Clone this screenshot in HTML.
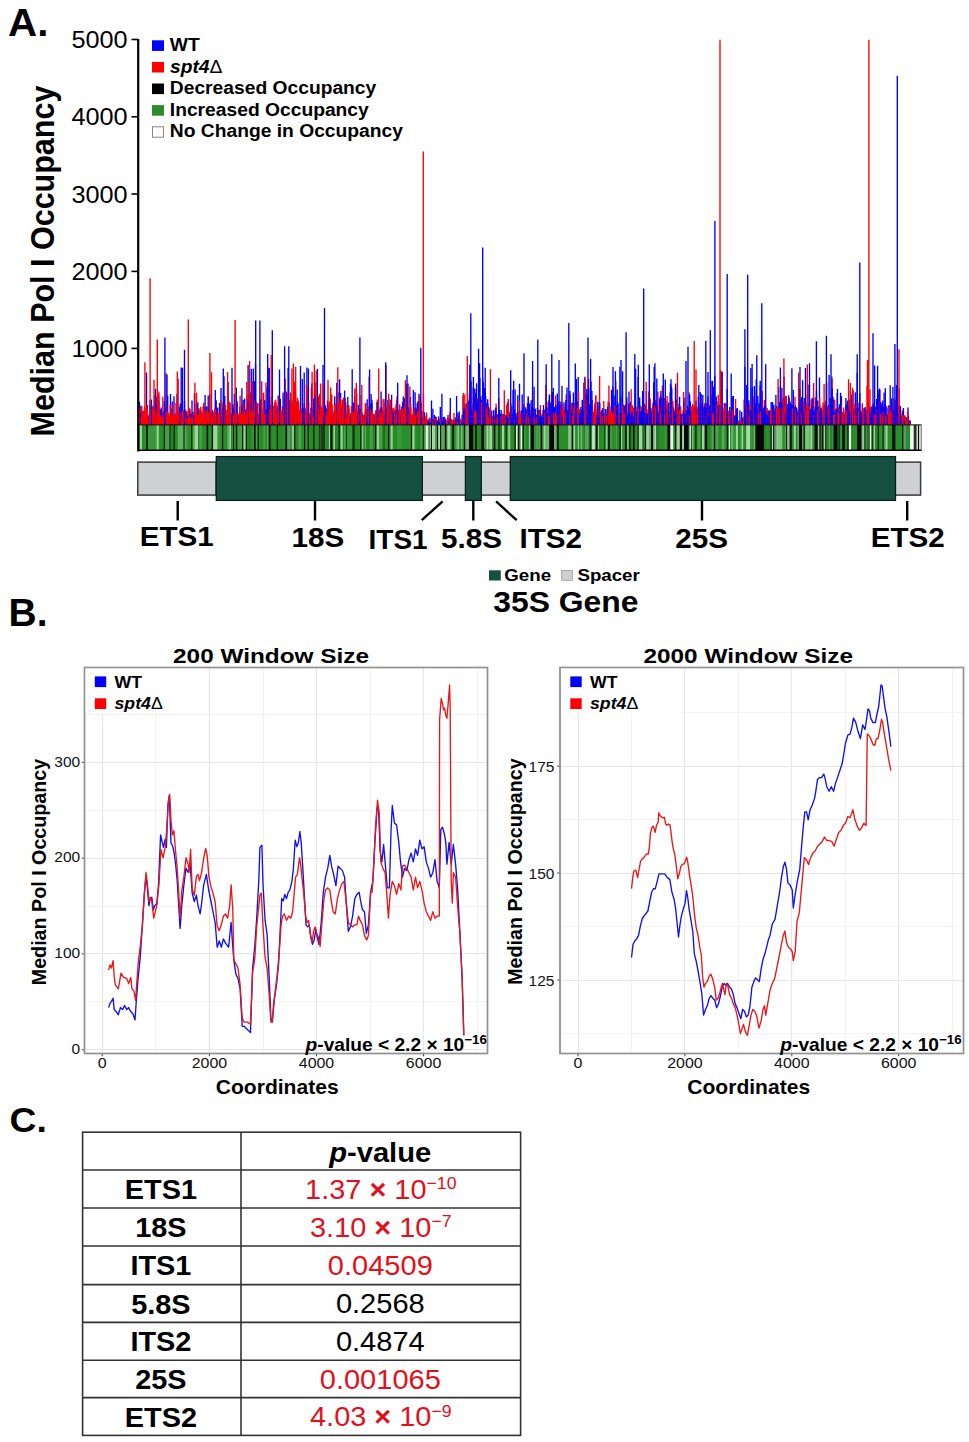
<!DOCTYPE html>
<html><head><meta charset="utf-8"><style>
html,body{margin:0;padding:0;background:#fff;}
svg{display:block;font-family:"Liberation Sans", sans-serif;}
</style></head><body>
<svg width="969" height="1442" viewBox="0 0 969 1442">
<text transform="translate(8.00,36.30) scale(1.040,1)" font-size="38.8" font-weight="bold" font-style="normal" fill="#000" text-anchor="start" >A.</text>
<text transform="translate(127.60,48.00) scale(1.090,1)" font-size="23.2" font-weight="normal" font-style="normal" fill="#000" text-anchor="end" >5000</text>
<line x1="131.5" y1="39.5" x2="138" y2="39.5" stroke="#000" stroke-width="1.6"/>
<text transform="translate(127.60,125.30) scale(1.090,1)" font-size="23.2" font-weight="normal" font-style="normal" fill="#000" text-anchor="end" >4000</text>
<line x1="131.5" y1="116.8" x2="138" y2="116.8" stroke="#000" stroke-width="1.6"/>
<text transform="translate(127.60,202.50) scale(1.090,1)" font-size="23.2" font-weight="normal" font-style="normal" fill="#000" text-anchor="end" >3000</text>
<line x1="131.5" y1="194.0" x2="138" y2="194.0" stroke="#000" stroke-width="1.6"/>
<text transform="translate(127.60,279.90) scale(1.090,1)" font-size="23.2" font-weight="normal" font-style="normal" fill="#000" text-anchor="end" >2000</text>
<line x1="131.5" y1="271.4" x2="138" y2="271.4" stroke="#000" stroke-width="1.6"/>
<text transform="translate(127.60,356.90) scale(1.090,1)" font-size="23.2" font-weight="normal" font-style="normal" fill="#000" text-anchor="end" >1000</text>
<line x1="131.5" y1="348.4" x2="138" y2="348.4" stroke="#000" stroke-width="1.6"/>
<text transform="translate(53.50,261.00) rotate(-90) scale(1,1.070)" font-size="30.5" font-weight="bold" font-style="normal" fill="#000" text-anchor="middle" >Median Pol I Occupancy</text>
<path d="M363.5 424.9V417.1M808.3 424.9V404.0" stroke="#0000ff" stroke-width="1.35" fill="none"/><path d="M807.5 424.9V408.4" stroke="#ff0000" stroke-width="1.35" fill="none"/><path d="M312.1 424.9V416.5M417.5 424.9V414.2M709.6 424.9V405.4" stroke="#0000ff" stroke-width="1.35" fill="none"/><path d="M742.7 424.9V420.7" stroke="#ff0000" stroke-width="1.35" fill="none"/><path d="M514.0 424.9V414.9" stroke="#0000ff" stroke-width="1.35" fill="none"/><path d="M821.3 424.9V407.6M365.8 424.9V402.9M488.3 424.9V406.6" stroke="#ff0000" stroke-width="1.35" fill="none"/><path d="M243.2 424.9V400.0" stroke="#0000ff" stroke-width="1.35" fill="none"/><path d="M674.9 424.9V409.3M225.3 424.9V411.8M583.4 424.9V415.0M186.7 424.9V410.7" stroke="#ff0000" stroke-width="1.35" fill="none"/><path d="M158.9 424.9V400.8" stroke="#0000ff" stroke-width="1.35" fill="none"/><path d="M869.1 424.9V413.0M837.4 424.9V412.3M584.1 424.9V408.4" stroke="#ff0000" stroke-width="1.35" fill="none"/><path d="M856.9 424.9V415.3" stroke="#0000ff" stroke-width="1.35" fill="none"/><path d="M564.7 424.9V415.0M464.0 424.9V413.5M719.6 424.9V415.9" stroke="#ff0000" stroke-width="1.35" fill="none"/><path d="M833.9 424.9V399.9" stroke="#0000ff" stroke-width="1.35" fill="none"/><path d="M384.7 424.9V415.8" stroke="#ff0000" stroke-width="1.35" fill="none"/><path d="M554.4 424.9V407.0" stroke="#0000ff" stroke-width="1.35" fill="none"/><path d="M840.4 424.9V412.6" stroke="#ff0000" stroke-width="1.35" fill="none"/><path d="M332.8 424.9V416.6M547.1 424.9V415.8M390.0 424.9V416.0M158.0 424.9V413.2" stroke="#0000ff" stroke-width="1.35" fill="none"/><path d="M298.4 424.9V400.5M548.0 424.9V401.9" stroke="#ff0000" stroke-width="1.35" fill="none"/><path d="M412.8 424.9V417.3" stroke="#0000ff" stroke-width="1.35" fill="none"/><path d="M868.1 424.9V409.1M205.7 424.9V416.2M605.2 424.9V413.7M529.8 424.9V409.6" stroke="#ff0000" stroke-width="1.35" fill="none"/><path d="M542.1 424.9V413.7M716.9 424.9V401.2M902.0 424.9V415.5M753.2 424.9V407.6M839.5 424.9V404.3" stroke="#0000ff" stroke-width="1.35" fill="none"/><path d="M641.6 424.9V415.1" stroke="#ff0000" stroke-width="1.35" fill="none"/><path d="M395.9 424.9V410.1M247.1 424.9V413.5M497.2 424.9V418.4M220.5 424.9V412.5M154.1 424.9V414.9M368.4 424.9V414.1M438.8 424.9V421.7" stroke="#0000ff" stroke-width="1.35" fill="none"/><path d="M764.4 424.9V400.0" stroke="#ff0000" stroke-width="1.35" fill="none"/><path d="M883.3 424.9V407.3" stroke="#0000ff" stroke-width="1.35" fill="none"/><path d="M378.0 424.9V416.6M817.2 424.9V409.2M510.0 424.9V414.4" stroke="#ff0000" stroke-width="1.35" fill="none"/><path d="M404.5 424.9V417.0" stroke="#0000ff" stroke-width="1.35" fill="none"/><path d="M858.3 424.9V414.5M624.2 424.9V414.9" stroke="#ff0000" stroke-width="1.35" fill="none"/><path d="M854.2 424.9V408.2M809.5 424.9V363.2M300.2 424.9V411.2" stroke="#0000ff" stroke-width="1.35" fill="none"/><path d="M700.7 424.9V413.8" stroke="#ff0000" stroke-width="1.35" fill="none"/><path d="M216.2 424.9V400.3M146.3 424.9V417.2M365.8 424.9V413.9M434.4 424.9V415.1" stroke="#0000ff" stroke-width="1.35" fill="none"/><path d="M414.9 424.9V411.8M840.0 424.9V407.7" stroke="#ff0000" stroke-width="1.35" fill="none"/><path d="M301.5 424.9V413.9M881.0 424.9V403.2" stroke="#0000ff" stroke-width="1.35" fill="none"/><path d="M356.8 424.9V393.3" stroke="#ff0000" stroke-width="1.35" fill="none"/><path d="M643.2 424.9V411.2M767.9 424.9V412.1" stroke="#0000ff" stroke-width="1.35" fill="none"/><path d="M709.0 424.9V412.1M616.8 424.9V404.8M698.4 424.9V414.5" stroke="#ff0000" stroke-width="1.35" fill="none"/><path d="M549.0 424.9V400.1" stroke="#0000ff" stroke-width="1.35" fill="none"/><path d="M864.3 424.9V414.5" stroke="#ff0000" stroke-width="1.35" fill="none"/><path d="M472.2 424.9V408.7M448.1 424.9V421.8" stroke="#0000ff" stroke-width="1.35" fill="none"/><path d="M311.1 424.9V407.9" stroke="#ff0000" stroke-width="1.35" fill="none"/><path d="M172.5 424.9V401.5" stroke="#0000ff" stroke-width="1.35" fill="none"/><path d="M315.5 424.9V382.6" stroke="#ff0000" stroke-width="1.35" fill="none"/><path d="M768.0 424.9V410.6M621.3 424.9V413.0" stroke="#0000ff" stroke-width="1.35" fill="none"/><path d="M391.7 424.9V408.5M498.7 424.9V414.2" stroke="#ff0000" stroke-width="1.35" fill="none"/><path d="M362.2 424.9V412.8M906.5 424.9V417.3M857.2 424.9V372.5M337.0 424.9V413.7M757.7 424.9V414.8M235.4 424.9V412.8M339.6 424.9V379.2M660.4 424.9V395.7M431.8 424.9V421.7" stroke="#0000ff" stroke-width="1.35" fill="none"/><path d="M368.2 424.9V414.5" stroke="#ff0000" stroke-width="1.35" fill="none"/><path d="M868.9 424.9V415.2M801.1 424.9V415.4M387.3 424.9V412.5M839.9 424.9V412.3M413.4 424.9V390.0" stroke="#0000ff" stroke-width="1.35" fill="none"/><path d="M662.4 424.9V385.5" stroke="#ff0000" stroke-width="1.35" fill="none"/><path d="M874.5 424.9V413.8M852.4 424.9V397.8M441.3 424.9V421.9M518.4 424.9V411.5" stroke="#0000ff" stroke-width="1.35" fill="none"/><path d="M150.8 424.9V416.3" stroke="#ff0000" stroke-width="1.35" fill="none"/><path d="M622.6 424.9V371.3M743.7 424.9V416.7M168.8 424.9V418.2M730.2 424.9V416.8M223.3 424.9V408.3M717.7 424.9V412.6" stroke="#0000ff" stroke-width="1.35" fill="none"/><path d="M672.9 424.9V401.1M328.3 424.9V412.0M673.4 424.9V407.6M499.9 424.9V413.2M194.6 424.9V413.4M601.5 424.9V415.9M393.7 424.9V414.5" stroke="#ff0000" stroke-width="1.35" fill="none"/><path d="M568.4 424.9V415.9M668.2 424.9V404.0M639.9 424.9V405.2M550.7 424.9V411.5M210.6 424.9V416.5M593.4 424.9V412.3" stroke="#0000ff" stroke-width="1.35" fill="none"/><path d="M854.0 424.9V414.3" stroke="#ff0000" stroke-width="1.35" fill="none"/><path d="M436.3 424.9V419.0" stroke="#0000ff" stroke-width="1.35" fill="none"/><path d="M491.1 424.9V418.1M890.1 424.9V413.6" stroke="#ff0000" stroke-width="1.35" fill="none"/><path d="M908.8 424.9V420.3M760.2 424.9V380.8" stroke="#0000ff" stroke-width="1.35" fill="none"/><path d="M834.8 424.9V399.6" stroke="#ff0000" stroke-width="1.35" fill="none"/><path d="M357.8 424.9V412.3M459.9 424.9V421.2" stroke="#0000ff" stroke-width="1.35" fill="none"/><path d="M655.6 424.9V400.3" stroke="#ff0000" stroke-width="1.35" fill="none"/><path d="M565.0 424.9V411.4M243.6 424.9V414.7" stroke="#0000ff" stroke-width="1.35" fill="none"/><path d="M657.9 424.9V391.4" stroke="#ff0000" stroke-width="1.35" fill="none"/><path d="M736.5 424.9V409.9" stroke="#0000ff" stroke-width="1.35" fill="none"/><path d="M599.6 424.9V376.0M675.8 424.9V416.3M725.8 424.9V415.4" stroke="#ff0000" stroke-width="1.35" fill="none"/><path d="M795.9 424.9V407.8" stroke="#0000ff" stroke-width="1.35" fill="none"/><path d="M377.3 424.9V399.4" stroke="#ff0000" stroke-width="1.35" fill="none"/><path d="M431.2 424.9V419.2" stroke="#0000ff" stroke-width="1.35" fill="none"/><path d="M811.6 424.9V406.2M652.9 424.9V413.5" stroke="#ff0000" stroke-width="1.35" fill="none"/><path d="M204.7 424.9V406.9" stroke="#0000ff" stroke-width="1.35" fill="none"/><path d="M337.6 424.9V414.7M331.7 424.9V406.6M373.8 424.9V416.7M248.9 424.9V412.7" stroke="#ff0000" stroke-width="1.35" fill="none"/><path d="M609.1 424.9V402.4M743.6 424.9V419.2M526.1 424.9V409.4M434.9 424.9V416.6" stroke="#0000ff" stroke-width="1.35" fill="none"/><path d="M770.1 424.9V410.3M344.8 424.9V416.6" stroke="#ff0000" stroke-width="1.35" fill="none"/><path d="M505.2 424.9V415.5" stroke="#0000ff" stroke-width="1.35" fill="none"/><path d="M423.6 424.9V419.5M768.2 424.9V411.8" stroke="#ff0000" stroke-width="1.35" fill="none"/><path d="M694.6 424.9V405.6" stroke="#0000ff" stroke-width="1.35" fill="none"/><path d="M877.0 424.9V404.0" stroke="#ff0000" stroke-width="1.35" fill="none"/><path d="M349.3 424.9V416.1" stroke="#0000ff" stroke-width="1.35" fill="none"/><path d="M303.2 424.9V408.7" stroke="#ff0000" stroke-width="1.35" fill="none"/><path d="M489.5 424.9V416.1" stroke="#0000ff" stroke-width="1.35" fill="none"/><path d="M407.1 424.9V407.8" stroke="#ff0000" stroke-width="1.35" fill="none"/><path d="M882.8 424.9V400.4" stroke="#0000ff" stroke-width="1.35" fill="none"/><path d="M482.2 424.9V395.9" stroke="#ff0000" stroke-width="1.35" fill="none"/><path d="M877.4 424.9V413.2M698.3 424.9V396.9M463.1 424.9V417.1M385.7 424.9V414.1M550.6 424.9V402.4M734.2 424.9V416.4M660.9 424.9V411.5" stroke="#0000ff" stroke-width="1.35" fill="none"/><path d="M589.3 424.9V404.4" stroke="#ff0000" stroke-width="1.35" fill="none"/><path d="M671.1 424.9V386.1" stroke="#0000ff" stroke-width="1.35" fill="none"/><path d="M459.0 424.9V421.8" stroke="#ff0000" stroke-width="1.35" fill="none"/><path d="M361.5 424.9V416.3" stroke="#0000ff" stroke-width="1.35" fill="none"/><path d="M525.7 424.9V416.6" stroke="#ff0000" stroke-width="1.35" fill="none"/><path d="M635.9 424.9V412.7" stroke="#0000ff" stroke-width="1.35" fill="none"/><path d="M187.0 424.9V414.0M437.9 424.9V420.3M502.3 424.9V414.3M607.0 424.9V409.2" stroke="#ff0000" stroke-width="1.35" fill="none"/><path d="M817.0 424.9V409.2M447.1 424.9V421.4M906.2 424.9V419.8M565.6 424.9V404.3M781.9 424.9V387.7" stroke="#0000ff" stroke-width="1.35" fill="none"/><path d="M811.1 424.9V399.5" stroke="#ff0000" stroke-width="1.35" fill="none"/><path d="M369.3 424.9V411.4M425.3 424.9V418.0M837.2 424.9V392.9M632.9 424.9V415.7" stroke="#0000ff" stroke-width="1.35" fill="none"/><path d="M797.7 424.9V415.1M599.5 424.9V405.7M439.1 424.9V419.1M387.8 424.9V415.7" stroke="#ff0000" stroke-width="1.35" fill="none"/><path d="M693.3 424.9V416.3" stroke="#0000ff" stroke-width="1.35" fill="none"/><path d="M533.9 424.9V416.6M699.1 424.9V416.0M646.9 424.9V414.7M535.7 424.9V417.9M435.2 424.9V421.9" stroke="#ff0000" stroke-width="1.35" fill="none"/><path d="M630.4 424.9V401.8" stroke="#0000ff" stroke-width="1.35" fill="none"/><path d="M550.6 424.9V414.9" stroke="#ff0000" stroke-width="1.35" fill="none"/><path d="M702.7 424.9V407.5" stroke="#0000ff" stroke-width="1.35" fill="none"/><path d="M793.0 424.9V413.0M440.3 424.9V421.9" stroke="#ff0000" stroke-width="1.35" fill="none"/><path d="M602.8 424.9V415.4" stroke="#0000ff" stroke-width="1.35" fill="none"/><path d="M522.1 424.9V417.5M357.9 424.9V415.8" stroke="#ff0000" stroke-width="1.35" fill="none"/><path d="M513.0 424.9V390.1" stroke="#0000ff" stroke-width="1.35" fill="none"/><path d="M310.1 424.9V414.2" stroke="#ff0000" stroke-width="1.35" fill="none"/><path d="M805.9 424.9V402.3M744.9 424.9V367.0M485.2 424.9V367.8" stroke="#0000ff" stroke-width="1.35" fill="none"/><path d="M501.1 424.9V415.2" stroke="#ff0000" stroke-width="1.35" fill="none"/><path d="M479.6 424.9V363.3M143.0 424.9V411.1" stroke="#0000ff" stroke-width="1.35" fill="none"/><path d="M463.0 424.9V417.4" stroke="#ff0000" stroke-width="1.35" fill="none"/><path d="M572.5 424.9V413.6" stroke="#0000ff" stroke-width="1.35" fill="none"/><path d="M458.6 424.9V419.8M756.9 424.9V411.8M302.2 424.9V411.6M222.9 424.9V414.9M189.6 424.9V408.9" stroke="#ff0000" stroke-width="1.35" fill="none"/><path d="M479.9 424.9V377.7M167.7 424.9V395.7" stroke="#0000ff" stroke-width="1.35" fill="none"/><path d="M746.6 424.9V406.5M832.9 424.9V396.8" stroke="#ff0000" stroke-width="1.35" fill="none"/><path d="M192.9 424.9V411.8M904.4 424.9V415.4" stroke="#0000ff" stroke-width="1.35" fill="none"/><path d="M365.0 424.9V417.0" stroke="#ff0000" stroke-width="1.35" fill="none"/><path d="M741.6 424.9V421.2" stroke="#0000ff" stroke-width="1.35" fill="none"/><path d="M392.6 424.9V410.3" stroke="#ff0000" stroke-width="1.35" fill="none"/><path d="M139.4 424.9V401.6" stroke="#0000ff" stroke-width="1.35" fill="none"/><path d="M678.1 424.9V406.8M764.7 424.9V408.7" stroke="#ff0000" stroke-width="1.35" fill="none"/><path d="M691.7 424.9V415.3" stroke="#0000ff" stroke-width="1.35" fill="none"/><path d="M259.7 424.9V413.2" stroke="#ff0000" stroke-width="1.35" fill="none"/><path d="M695.8 424.9V408.1" stroke="#0000ff" stroke-width="1.35" fill="none"/><path d="M445.2 424.9V421.9M735.9 424.9V416.3M180.4 424.9V417.5M393.1 424.9V408.0M314.4 424.9V364.5" stroke="#ff0000" stroke-width="1.35" fill="none"/><path d="M310.5 424.9V415.8" stroke="#0000ff" stroke-width="1.35" fill="none"/><path d="M628.2 424.9V416.3" stroke="#ff0000" stroke-width="1.35" fill="none"/><path d="M390.0 424.9V405.2" stroke="#0000ff" stroke-width="1.35" fill="none"/><path d="M501.3 424.9V418.3M575.9 424.9V402.6" stroke="#ff0000" stroke-width="1.35" fill="none"/><path d="M485.7 424.9V396.2" stroke="#0000ff" stroke-width="1.35" fill="none"/><path d="M769.4 424.9V414.8" stroke="#ff0000" stroke-width="1.35" fill="none"/><path d="M721.4 424.9V407.7M862.1 424.9V410.2M558.0 424.9V413.9M432.3 424.9V419.1" stroke="#0000ff" stroke-width="1.35" fill="none"/><path d="M411.1 424.9V415.2M702.8 424.9V413.4" stroke="#ff0000" stroke-width="1.35" fill="none"/><path d="M728.7 424.9V416.2M780.4 424.9V367.5" stroke="#0000ff" stroke-width="1.35" fill="none"/><path d="M542.5 424.9V417.0" stroke="#ff0000" stroke-width="1.35" fill="none"/><path d="M729.5 424.9V414.8M340.6 424.9V416.1M774.7 424.9V412.0" stroke="#0000ff" stroke-width="1.35" fill="none"/><path d="M592.3 424.9V399.9" stroke="#ff0000" stroke-width="1.35" fill="none"/><path d="M192.0 424.9V400.6" stroke="#0000ff" stroke-width="1.35" fill="none"/><path d="M866.2 424.9V413.8M479.8 424.9V410.0M529.5 424.9V414.0M422.6 424.9V417.1" stroke="#ff0000" stroke-width="1.35" fill="none"/><path d="M786.7 424.9V406.1" stroke="#0000ff" stroke-width="1.35" fill="none"/><path d="M741.9 424.9V422.3" stroke="#ff0000" stroke-width="1.35" fill="none"/><path d="M882.1 424.9V408.4M388.7 424.9V413.3M429.1 424.9V419.1M531.1 424.9V413.9" stroke="#0000ff" stroke-width="1.35" fill="none"/><path d="M713.8 424.9V410.7" stroke="#ff0000" stroke-width="1.35" fill="none"/><path d="M185.7 424.9V416.4M508.3 424.9V417.9M599.6 424.9V415.8M454.2 424.9V421.5M457.0 424.9V418.8M680.8 424.9V414.6M660.9 424.9V390.9M175.4 424.9V413.4M711.4 424.9V394.7" stroke="#0000ff" stroke-width="1.35" fill="none"/><path d="M417.5 424.9V410.5" stroke="#ff0000" stroke-width="1.35" fill="none"/><path d="M778.0 424.9V409.7M233.8 424.9V416.4M498.1 424.9V417.5M263.7 424.9V400.3" stroke="#0000ff" stroke-width="1.35" fill="none"/><path d="M847.5 424.9V409.7M826.4 424.9V384.4" stroke="#ff0000" stroke-width="1.35" fill="none"/><path d="M289.2 424.9V416.3" stroke="#0000ff" stroke-width="1.35" fill="none"/><path d="M780.0 424.9V412.6M721.5 424.9V371.7" stroke="#ff0000" stroke-width="1.35" fill="none"/><path d="M583.4 424.9V411.1" stroke="#0000ff" stroke-width="1.35" fill="none"/><path d="M631.2 424.9V389.3" stroke="#ff0000" stroke-width="1.35" fill="none"/><path d="M455.7 424.9V419.3" stroke="#0000ff" stroke-width="1.35" fill="none"/><path d="M479.4 424.9V398.0M633.1 424.9V415.9" stroke="#ff0000" stroke-width="1.35" fill="none"/><path d="M520.0 424.9V414.6M674.0 424.9V411.0" stroke="#0000ff" stroke-width="1.35" fill="none"/><path d="M799.2 424.9V412.9" stroke="#ff0000" stroke-width="1.35" fill="none"/><path d="M205.7 424.9V416.1M139.2 424.9V417.3M845.2 424.9V413.7M487.4 424.9V411.0M205.1 424.9V394.9M884.1 424.9V392.6" stroke="#0000ff" stroke-width="1.35" fill="none"/><path d="M445.4 424.9V419.6" stroke="#ff0000" stroke-width="1.35" fill="none"/><path d="M206.7 424.9V406.4" stroke="#0000ff" stroke-width="1.35" fill="none"/><path d="M875.6 424.9V414.9" stroke="#ff0000" stroke-width="1.35" fill="none"/><path d="M236.8 424.9V413.3M396.7 424.9V406.3M596.4 424.9V413.2M165.1 424.9V408.4" stroke="#0000ff" stroke-width="1.35" fill="none"/><path d="M872.0 424.9V405.9" stroke="#ff0000" stroke-width="1.35" fill="none"/><path d="M526.8 424.9V414.3M422.0 424.9V417.4M217.9 424.9V415.8" stroke="#0000ff" stroke-width="1.35" fill="none"/><path d="M226.9 424.9V411.7" stroke="#ff0000" stroke-width="1.35" fill="none"/><path d="M221.8 424.9V417.1M430.0 424.9V420.7" stroke="#0000ff" stroke-width="1.35" fill="none"/><path d="M452.3 424.9V421.2" stroke="#ff0000" stroke-width="1.35" fill="none"/><path d="M189.8 424.9V414.2M609.7 424.9V415.0M201.6 424.9V415.4M251.1 424.9V413.3" stroke="#0000ff" stroke-width="1.35" fill="none"/><path d="M431.6 424.9V422.0M623.9 424.9V409.1M286.4 424.9V411.2" stroke="#ff0000" stroke-width="1.35" fill="none"/><path d="M221.3 424.9V417.3M799.8 424.9V409.3M151.4 424.9V399.6" stroke="#0000ff" stroke-width="1.35" fill="none"/><path d="M417.4 424.9V404.6M603.0 424.9V412.1M845.9 424.9V413.0M462.4 424.9V417.4" stroke="#ff0000" stroke-width="1.35" fill="none"/><path d="M382.6 424.9V412.3M185.7 424.9V412.4" stroke="#0000ff" stroke-width="1.35" fill="none"/><path d="M822.6 424.9V410.2" stroke="#ff0000" stroke-width="1.35" fill="none"/><path d="M450.3 424.9V398.1M679.6 424.9V396.8M340.6 424.9V392.9M858.5 424.9V408.4M444.1 424.9V418.6" stroke="#0000ff" stroke-width="1.35" fill="none"/><path d="M799.8 424.9V389.1M737.2 424.9V418.6" stroke="#ff0000" stroke-width="1.35" fill="none"/><path d="M426.4 424.9V421.6M202.4 424.9V416.5M314.7 424.9V395.7" stroke="#0000ff" stroke-width="1.35" fill="none"/><path d="M284.6 424.9V413.5" stroke="#ff0000" stroke-width="1.35" fill="none"/><path d="M215.5 424.9V407.3M152.7 424.9V417.8" stroke="#0000ff" stroke-width="1.35" fill="none"/><path d="M228.6 424.9V412.6M449.1 424.9V420.2M820.5 424.9V411.3M832.1 424.9V378.7M870.0 424.9V389.3" stroke="#ff0000" stroke-width="1.35" fill="none"/><path d="M881.4 424.9V409.8M536.2 424.9V417.0M426.2 424.9V420.1M689.4 424.9V409.1M421.3 424.9V418.7M474.6 424.9V398.3M294.7 424.9V412.8" stroke="#0000ff" stroke-width="1.35" fill="none"/><path d="M796.8 424.9V412.4M702.6 424.9V412.1M408.7 424.9V409.2M570.3 424.9V414.2" stroke="#ff0000" stroke-width="1.35" fill="none"/><path d="M501.1 424.9V409.9" stroke="#0000ff" stroke-width="1.35" fill="none"/><path d="M179.3 424.9V406.8M580.0 424.9V416.4" stroke="#ff0000" stroke-width="1.35" fill="none"/><path d="M560.0 424.9V414.1" stroke="#0000ff" stroke-width="1.35" fill="none"/><path d="M900.5 424.9V415.1M456.1 424.9V420.2" stroke="#ff0000" stroke-width="1.35" fill="none"/><path d="M701.1 424.9V394.1M142.3 424.9V418.5" stroke="#0000ff" stroke-width="1.35" fill="none"/><path d="M893.8 424.9V398.4M805.6 424.9V413.6M448.6 424.9V418.7M781.2 424.9V412.5" stroke="#ff0000" stroke-width="1.35" fill="none"/><path d="M437.6 424.9V420.6" stroke="#0000ff" stroke-width="1.35" fill="none"/><path d="M656.8 424.9V403.4M585.6 424.9V410.2M547.2 424.9V415.1M899.0 424.9V415.8" stroke="#ff0000" stroke-width="1.35" fill="none"/><path d="M254.6 424.9V381.3" stroke="#0000ff" stroke-width="1.35" fill="none"/><path d="M360.6 424.9V416.2M289.4 424.9V400.3M674.4 424.9V411.8M267.5 424.9V411.7M650.4 424.9V410.8" stroke="#ff0000" stroke-width="1.35" fill="none"/><path d="M721.2 424.9V414.2" stroke="#0000ff" stroke-width="1.35" fill="none"/><path d="M666.2 424.9V401.1" stroke="#ff0000" stroke-width="1.35" fill="none"/><path d="M359.6 424.9V416.3M652.5 424.9V413.9" stroke="#0000ff" stroke-width="1.35" fill="none"/><path d="M283.4 424.9V414.8" stroke="#ff0000" stroke-width="1.35" fill="none"/><path d="M772.5 424.9V402.0M224.8 424.9V396.0" stroke="#0000ff" stroke-width="1.35" fill="none"/><path d="M614.4 424.9V414.5M902.5 424.9V410.5" stroke="#ff0000" stroke-width="1.35" fill="none"/><path d="M728.0 424.9V412.7M239.5 424.9V415.5M569.2 424.9V409.6M215.3 424.9V390.0M605.7 424.9V413.9" stroke="#0000ff" stroke-width="1.35" fill="none"/><path d="M494.7 424.9V418.8" stroke="#ff0000" stroke-width="1.35" fill="none"/><path d="M645.1 424.9V405.1" stroke="#0000ff" stroke-width="1.35" fill="none"/><path d="M642.6 424.9V416.4" stroke="#ff0000" stroke-width="1.35" fill="none"/><path d="M817.5 424.9V406.4M748.8 424.9V400.2" stroke="#0000ff" stroke-width="1.35" fill="none"/><path d="M800.0 424.9V399.3M788.8 424.9V406.5M628.7 424.9V416.0M792.9 424.9V410.0M497.9 424.9V416.1" stroke="#ff0000" stroke-width="1.35" fill="none"/><path d="M499.0 424.9V414.0M852.3 424.9V411.3" stroke="#0000ff" stroke-width="1.35" fill="none"/><path d="M793.9 424.9V412.0" stroke="#ff0000" stroke-width="1.35" fill="none"/><path d="M294.3 424.9V408.5" stroke="#0000ff" stroke-width="1.35" fill="none"/><path d="M424.0 424.9V420.1" stroke="#ff0000" stroke-width="1.35" fill="none"/><path d="M731.1 424.9V412.3M830.3 424.9V397.9M275.4 424.9V414.2M511.8 424.9V406.6" stroke="#0000ff" stroke-width="1.35" fill="none"/><path d="M521.2 424.9V411.2M216.8 424.9V415.2" stroke="#ff0000" stroke-width="1.35" fill="none"/><path d="M676.2 424.9V399.4M706.6 424.9V413.3" stroke="#0000ff" stroke-width="1.35" fill="none"/><path d="M208.1 424.9V416.8M826.2 424.9V410.1" stroke="#ff0000" stroke-width="1.35" fill="none"/><path d="M429.4 424.9V418.4M585.3 424.9V394.6" stroke="#0000ff" stroke-width="1.35" fill="none"/><path d="M858.1 424.9V412.5M815.4 424.9V412.8" stroke="#ff0000" stroke-width="1.35" fill="none"/><path d="M419.9 424.9V411.4" stroke="#0000ff" stroke-width="1.35" fill="none"/><path d="M686.3 424.9V410.2" stroke="#ff0000" stroke-width="1.35" fill="none"/><path d="M323.0 424.9V364.9M462.2 424.9V414.6M357.4 424.9V416.6" stroke="#0000ff" stroke-width="1.35" fill="none"/><path d="M544.6 424.9V414.3" stroke="#ff0000" stroke-width="1.35" fill="none"/><path d="M500.7 424.9V414.1" stroke="#0000ff" stroke-width="1.35" fill="none"/><path d="M664.4 424.9V409.1M210.0 424.9V417.3M566.6 424.9V409.7M643.5 424.9V416.1M198.9 424.9V408.0M833.1 424.9V414.4M149.9 424.9V399.9" stroke="#ff0000" stroke-width="1.35" fill="none"/><path d="M156.6 424.9V412.5M504.5 424.9V418.8M592.1 424.9V415.6" stroke="#0000ff" stroke-width="1.35" fill="none"/><path d="M516.9 424.9V418.6M865.3 424.9V415.3" stroke="#ff0000" stroke-width="1.35" fill="none"/><path d="M497.7 424.9V414.4M763.7 424.9V408.0" stroke="#0000ff" stroke-width="1.35" fill="none"/><path d="M672.2 424.9V404.0" stroke="#ff0000" stroke-width="1.35" fill="none"/><path d="M770.2 424.9V414.0M188.4 424.9V411.4" stroke="#0000ff" stroke-width="1.35" fill="none"/><path d="M201.9 424.9V416.6M755.8 424.9V409.0" stroke="#ff0000" stroke-width="1.35" fill="none"/><path d="M676.9 424.9V403.2M875.0 424.9V415.4" stroke="#0000ff" stroke-width="1.35" fill="none"/><path d="M564.2 424.9V414.9" stroke="#ff0000" stroke-width="1.35" fill="none"/><path d="M871.2 424.9V408.8M298.4 424.9V411.5" stroke="#0000ff" stroke-width="1.35" fill="none"/><path d="M488.8 424.9V409.3M254.0 424.9V404.8" stroke="#ff0000" stroke-width="1.35" fill="none"/><path d="M897.2 424.9V415.6M336.4 424.9V415.2M705.3 424.9V405.1M561.7 424.9V416.2M407.4 424.9V415.5" stroke="#0000ff" stroke-width="1.35" fill="none"/><path d="M523.8 424.9V404.4" stroke="#ff0000" stroke-width="1.35" fill="none"/><path d="M626.4 424.9V411.0M563.9 424.9V402.2M365.3 424.9V410.4" stroke="#0000ff" stroke-width="1.35" fill="none"/><path d="M552.2 424.9V416.4M736.6 424.9V417.7M294.5 424.9V381.7" stroke="#ff0000" stroke-width="1.35" fill="none"/><path d="M482.6 424.9V395.2M510.0 424.9V411.5M344.0 424.9V412.1M878.0 424.9V394.6" stroke="#0000ff" stroke-width="1.35" fill="none"/><path d="M498.9 424.9V398.3" stroke="#ff0000" stroke-width="1.35" fill="none"/><path d="M456.6 424.9V396.0" stroke="#0000ff" stroke-width="1.35" fill="none"/><path d="M412.7 424.9V416.0M786.2 424.9V396.2M629.8 424.9V411.8" stroke="#ff0000" stroke-width="1.35" fill="none"/><path d="M708.0 424.9V372.0" stroke="#0000ff" stroke-width="1.35" fill="none"/><path d="M513.1 424.9V416.7" stroke="#ff0000" stroke-width="1.35" fill="none"/><path d="M835.6 424.9V410.6" stroke="#0000ff" stroke-width="1.35" fill="none"/><path d="M615.8 424.9V410.1M554.2 424.9V416.5M275.9 424.9V401.4" stroke="#ff0000" stroke-width="1.35" fill="none"/><path d="M287.6 424.9V408.3" stroke="#0000ff" stroke-width="1.35" fill="none"/><path d="M641.1 424.9V416.4" stroke="#ff0000" stroke-width="1.35" fill="none"/><path d="M266.4 424.9V408.9M426.8 424.9V420.6" stroke="#0000ff" stroke-width="1.35" fill="none"/><path d="M885.6 424.9V414.1M429.8 424.9V417.2M324.0 424.9V413.3M907.4 424.9V422.7M573.3 424.9V414.7M656.2 424.9V409.6M809.5 424.9V406.4" stroke="#ff0000" stroke-width="1.35" fill="none"/><path d="M350.0 424.9V416.1M684.9 424.9V413.7" stroke="#0000ff" stroke-width="1.35" fill="none"/><path d="M204.1 424.9V403.1" stroke="#ff0000" stroke-width="1.35" fill="none"/><path d="M156.8 424.9V397.0" stroke="#0000ff" stroke-width="1.35" fill="none"/><path d="M314.6 424.9V391.0M881.1 424.9V402.5M444.5 424.9V416.8" stroke="#ff0000" stroke-width="1.35" fill="none"/><path d="M890.2 424.9V385.2" stroke="#0000ff" stroke-width="1.35" fill="none"/><path d="M536.8 424.9V414.8" stroke="#ff0000" stroke-width="1.35" fill="none"/><path d="M739.1 424.9V423.4M813.9 424.9V412.9M815.8 424.9V402.0M601.8 424.9V410.1M615.4 424.9V371.2M646.4 424.9V390.9M213.0 424.9V412.8" stroke="#0000ff" stroke-width="1.35" fill="none"/><path d="M903.9 424.9V418.7M497.8 424.9V418.1" stroke="#ff0000" stroke-width="1.35" fill="none"/><path d="M692.4 424.9V405.2M722.7 424.9V407.8" stroke="#0000ff" stroke-width="1.35" fill="none"/><path d="M647.1 424.9V409.2" stroke="#ff0000" stroke-width="1.35" fill="none"/><path d="M771.5 424.9V413.1M633.8 424.9V408.9" stroke="#0000ff" stroke-width="1.35" fill="none"/><path d="M633.7 424.9V407.8" stroke="#ff0000" stroke-width="1.35" fill="none"/><path d="M817.7 424.9V400.5" stroke="#0000ff" stroke-width="1.35" fill="none"/><path d="M576.5 424.9V413.7M509.2 424.9V413.3M638.9 424.9V406.7" stroke="#ff0000" stroke-width="1.35" fill="none"/><path d="M727.2 424.9V389.1M785.5 424.9V412.9" stroke="#0000ff" stroke-width="1.35" fill="none"/><path d="M459.0 424.9V416.0" stroke="#ff0000" stroke-width="1.35" fill="none"/><path d="M269.2 424.9V368.3M304.5 424.9V412.2" stroke="#0000ff" stroke-width="1.35" fill="none"/><path d="M281.6 424.9V414.3" stroke="#ff0000" stroke-width="1.35" fill="none"/><path d="M292.9 424.9V403.3M346.0 424.9V416.0M511.1 424.9V414.8" stroke="#0000ff" stroke-width="1.35" fill="none"/><path d="M683.6 424.9V392.1M477.4 424.9V398.2" stroke="#ff0000" stroke-width="1.35" fill="none"/><path d="M563.5 424.9V407.0M742.8 424.9V417.5M597.6 424.9V405.3" stroke="#0000ff" stroke-width="1.35" fill="none"/><path d="M434.3 424.9V420.0" stroke="#ff0000" stroke-width="1.35" fill="none"/><path d="M678.5 424.9V414.6M505.6 424.9V415.6M418.0 424.9V401.0" stroke="#0000ff" stroke-width="1.35" fill="none"/><path d="M868.3 424.9V413.1" stroke="#ff0000" stroke-width="1.35" fill="none"/><path d="M868.5 424.9V412.5M288.1 424.9V368.0M290.3 424.9V414.9" stroke="#0000ff" stroke-width="1.35" fill="none"/><path d="M364.0 424.9V415.3" stroke="#ff0000" stroke-width="1.35" fill="none"/><path d="M826.6 424.9V382.4M229.6 424.9V415.2M733.2 424.9V396.1M467.0 424.9V403.1" stroke="#0000ff" stroke-width="1.35" fill="none"/><path d="M782.7 424.9V398.6" stroke="#ff0000" stroke-width="1.35" fill="none"/><path d="M686.7 424.9V414.5M842.1 424.9V415.3" stroke="#0000ff" stroke-width="1.35" fill="none"/><path d="M660.5 424.9V415.2" stroke="#ff0000" stroke-width="1.35" fill="none"/><path d="M538.7 424.9V410.0M296.0 424.9V413.2" stroke="#0000ff" stroke-width="1.35" fill="none"/><path d="M740.4 424.9V423.4M530.2 424.9V415.9M194.9 424.9V417.9M375.1 424.9V413.4" stroke="#ff0000" stroke-width="1.35" fill="none"/><path d="M463.1 424.9V395.6M461.6 424.9V421.5" stroke="#0000ff" stroke-width="1.35" fill="none"/><path d="M559.5 424.9V413.3M337.8 424.9V403.6" stroke="#ff0000" stroke-width="1.35" fill="none"/><path d="M371.1 424.9V394.0" stroke="#0000ff" stroke-width="1.35" fill="none"/><path d="M561.0 424.9V404.0M748.8 424.9V403.1" stroke="#ff0000" stroke-width="1.35" fill="none"/><path d="M738.1 424.9V420.4" stroke="#0000ff" stroke-width="1.35" fill="none"/><path d="M752.5 424.9V413.7" stroke="#ff0000" stroke-width="1.35" fill="none"/><path d="M157.6 424.9V394.5M620.8 424.9V396.8" stroke="#0000ff" stroke-width="1.35" fill="none"/><path d="M744.1 424.9V399.8M340.8 424.9V403.6M778.1 424.9V410.3" stroke="#ff0000" stroke-width="1.35" fill="none"/><path d="M573.9 424.9V402.7M308.8 424.9V415.3M527.5 424.9V403.1M159.9 424.9V414.3M230.7 424.9V416.3M460.6 424.9V420.7M424.7 424.9V416.1M819.5 424.9V377.6M559.9 424.9V415.2" stroke="#0000ff" stroke-width="1.35" fill="none"/><path d="M179.8 424.9V417.9M153.0 424.9V414.5M147.2 424.9V417.4M777.1 424.9V414.2M826.9 424.9V410.7" stroke="#ff0000" stroke-width="1.35" fill="none"/><path d="M399.7 424.9V410.0" stroke="#0000ff" stroke-width="1.35" fill="none"/><path d="M341.2 424.9V415.8" stroke="#ff0000" stroke-width="1.35" fill="none"/><path d="M652.7 424.9V413.0M843.5 424.9V415.3M558.9 424.9V401.2M848.7 424.9V400.9M787.2 424.9V411.7" stroke="#0000ff" stroke-width="1.35" fill="none"/><path d="M603.8 424.9V401.0" stroke="#ff0000" stroke-width="1.35" fill="none"/><path d="M886.2 424.9V415.2M182.0 424.9V403.9" stroke="#0000ff" stroke-width="1.35" fill="none"/><path d="M472.0 424.9V409.0" stroke="#ff0000" stroke-width="1.35" fill="none"/><path d="M373.4 424.9V415.4M408.3 424.9V416.5" stroke="#0000ff" stroke-width="1.35" fill="none"/><path d="M575.0 424.9V415.7M260.6 424.9V413.8" stroke="#ff0000" stroke-width="1.35" fill="none"/><path d="M206.1 424.9V415.6" stroke="#0000ff" stroke-width="1.35" fill="none"/><path d="M429.1 424.9V420.4" stroke="#ff0000" stroke-width="1.35" fill="none"/><path d="M498.5 424.9V415.6M531.8 424.9V406.4M209.8 424.9V394.1" stroke="#0000ff" stroke-width="1.35" fill="none"/><path d="M754.8 424.9V390.5M791.5 424.9V404.2M859.3 424.9V410.5" stroke="#ff0000" stroke-width="1.35" fill="none"/><path d="M612.9 424.9V386.6" stroke="#0000ff" stroke-width="1.35" fill="none"/><path d="M211.4 424.9V410.9" stroke="#ff0000" stroke-width="1.35" fill="none"/><path d="M595.1 424.9V402.6" stroke="#0000ff" stroke-width="1.35" fill="none"/><path d="M401.2 424.9V412.6M831.3 424.9V407.4M663.0 424.9V405.5" stroke="#ff0000" stroke-width="1.35" fill="none"/><path d="M468.9 424.9V411.7M613.0 424.9V366.9" stroke="#0000ff" stroke-width="1.35" fill="none"/><path d="M595.7 424.9V395.5" stroke="#ff0000" stroke-width="1.35" fill="none"/><path d="M336.8 424.9V382.8M519.5 424.9V383.7M744.0 424.9V419.1M296.5 424.9V402.1" stroke="#0000ff" stroke-width="1.35" fill="none"/><path d="M861.1 424.9V413.1" stroke="#ff0000" stroke-width="1.35" fill="none"/><path d="M218.0 424.9V416.5" stroke="#0000ff" stroke-width="1.35" fill="none"/><path d="M795.0 424.9V397.1" stroke="#ff0000" stroke-width="1.35" fill="none"/><path d="M347.8 424.9V397.0" stroke="#0000ff" stroke-width="1.35" fill="none"/><path d="M292.1 424.9V415.1" stroke="#ff0000" stroke-width="1.35" fill="none"/><path d="M586.5 424.9V392.7M578.2 424.9V414.9M619.5 424.9V415.2M885.0 424.9V411.3" stroke="#0000ff" stroke-width="1.35" fill="none"/><path d="M892.2 424.9V410.9" stroke="#ff0000" stroke-width="1.35" fill="none"/><path d="M587.5 424.9V415.6M837.5 424.9V389.1" stroke="#0000ff" stroke-width="1.35" fill="none"/><path d="M595.5 424.9V415.5M839.3 424.9V414.7M518.6 424.9V412.1M539.6 424.9V417.1" stroke="#ff0000" stroke-width="1.35" fill="none"/><path d="M308.9 424.9V414.5M483.1 424.9V381.4" stroke="#0000ff" stroke-width="1.35" fill="none"/><path d="M221.1 424.9V417.0M511.0 424.9V418.6" stroke="#ff0000" stroke-width="1.35" fill="none"/><path d="M615.3 424.9V416.2" stroke="#0000ff" stroke-width="1.35" fill="none"/><path d="M739.0 424.9V422.8" stroke="#ff0000" stroke-width="1.35" fill="none"/><path d="M710.1 424.9V405.7M902.5 424.9V413.2M752.8 424.9V396.1M435.6 424.9V416.6M177.8 424.9V413.4M586.8 424.9V388.9" stroke="#0000ff" stroke-width="1.35" fill="none"/><path d="M838.0 424.9V415.1" stroke="#ff0000" stroke-width="1.35" fill="none"/><path d="M908.7 424.9V421.2" stroke="#0000ff" stroke-width="1.35" fill="none"/><path d="M155.0 424.9V399.5M453.6 424.9V421.7M180.7 424.9V413.7" stroke="#ff0000" stroke-width="1.35" fill="none"/><path d="M811.8 424.9V406.3M278.5 424.9V416.6M633.4 424.9V416.1M228.5 424.9V412.9" stroke="#0000ff" stroke-width="1.35" fill="none"/><path d="M851.5 424.9V412.4M774.4 424.9V414.6" stroke="#ff0000" stroke-width="1.35" fill="none"/><path d="M355.9 424.9V415.4M308.3 424.9V413.7M842.4 424.9V413.2M535.5 424.9V415.3M605.3 424.9V413.7" stroke="#0000ff" stroke-width="1.35" fill="none"/><path d="M250.3 424.9V392.5M825.0 424.9V414.3" stroke="#ff0000" stroke-width="1.35" fill="none"/><path d="M579.3 424.9V411.2M830.1 424.9V408.2" stroke="#0000ff" stroke-width="1.35" fill="none"/><path d="M683.7 424.9V409.9M814.3 424.9V413.0M711.9 424.9V403.2M266.0 424.9V382.5M215.8 424.9V409.0" stroke="#ff0000" stroke-width="1.35" fill="none"/><path d="M245.0 424.9V415.5M556.4 424.9V415.8M900.5 424.9V409.6M750.8 424.9V368.0" stroke="#0000ff" stroke-width="1.35" fill="none"/><path d="M543.5 424.9V417.6" stroke="#ff0000" stroke-width="1.35" fill="none"/><path d="M858.0 424.9V402.9" stroke="#0000ff" stroke-width="1.35" fill="none"/><path d="M692.2 424.9V406.2" stroke="#ff0000" stroke-width="1.35" fill="none"/><path d="M903.4 424.9V407.9M343.0 424.9V416.1" stroke="#0000ff" stroke-width="1.35" fill="none"/><path d="M553.4 424.9V416.5M480.9 424.9V408.1" stroke="#ff0000" stroke-width="1.35" fill="none"/><path d="M550.2 424.9V408.7M643.9 424.9V416.3M870.5 424.9V407.5" stroke="#0000ff" stroke-width="1.35" fill="none"/><path d="M396.0 424.9V404.6M504.2 424.9V416.2M531.1 424.9V411.5" stroke="#ff0000" stroke-width="1.35" fill="none"/><path d="M622.4 424.9V408.0M332.7 424.9V416.0M904.3 424.9V416.4" stroke="#0000ff" stroke-width="1.35" fill="none"/><path d="M526.4 424.9V411.9" stroke="#ff0000" stroke-width="1.35" fill="none"/><path d="M346.9 424.9V416.7M295.5 424.9V416.1M488.9 424.9V407.4" stroke="#0000ff" stroke-width="1.35" fill="none"/><path d="M844.4 424.9V414.4" stroke="#ff0000" stroke-width="1.35" fill="none"/><path d="M760.2 424.9V385.6M897.3 424.9V415.5M735.5 424.9V416.9" stroke="#0000ff" stroke-width="1.35" fill="none"/><path d="M333.1 424.9V413.5" stroke="#ff0000" stroke-width="1.35" fill="none"/><path d="M395.8 424.9V411.2" stroke="#0000ff" stroke-width="1.35" fill="none"/><path d="M823.3 424.9V406.0M555.5 424.9V395.5" stroke="#ff0000" stroke-width="1.35" fill="none"/><path d="M337.9 424.9V410.6" stroke="#0000ff" stroke-width="1.35" fill="none"/><path d="M872.9 424.9V414.8" stroke="#ff0000" stroke-width="1.35" fill="none"/><path d="M553.3 424.9V387.9M797.5 424.9V415.1" stroke="#0000ff" stroke-width="1.35" fill="none"/><path d="M877.5 424.9V405.5M860.3 424.9V414.9M816.8 424.9V414.1" stroke="#ff0000" stroke-width="1.35" fill="none"/><path d="M245.5 424.9V409.7" stroke="#0000ff" stroke-width="1.35" fill="none"/><path d="M351.2 424.9V416.8" stroke="#ff0000" stroke-width="1.35" fill="none"/><path d="M751.9 424.9V413.3M499.3 424.9V409.7" stroke="#0000ff" stroke-width="1.35" fill="none"/><path d="M326.2 424.9V415.9" stroke="#ff0000" stroke-width="1.35" fill="none"/><path d="M757.4 424.9V412.7" stroke="#0000ff" stroke-width="1.35" fill="none"/><path d="M607.6 424.9V406.9" stroke="#ff0000" stroke-width="1.35" fill="none"/><path d="M144.7 424.9V415.6M494.2 424.9V416.1M688.1 424.9V407.7" stroke="#0000ff" stroke-width="1.35" fill="none"/><path d="M632.5 424.9V405.3M312.3 424.9V415.5M374.3 424.9V415.6M331.5 424.9V416.9M234.3 424.9V414.6M540.4 424.9V417.8M695.3 424.9V411.3" stroke="#ff0000" stroke-width="1.35" fill="none"/><path d="M196.3 424.9V413.9M289.9 424.9V407.3" stroke="#0000ff" stroke-width="1.35" fill="none"/><path d="M582.1 424.9V413.4" stroke="#ff0000" stroke-width="1.35" fill="none"/><path d="M477.9 424.9V410.2" stroke="#0000ff" stroke-width="1.35" fill="none"/><path d="M473.3 424.9V386.9" stroke="#ff0000" stroke-width="1.35" fill="none"/><path d="M274.0 424.9V409.9" stroke="#0000ff" stroke-width="1.35" fill="none"/><path d="M162.8 424.9V396.8M706.1 424.9V403.1" stroke="#ff0000" stroke-width="1.35" fill="none"/><path d="M410.8 424.9V415.8M367.2 424.9V399.2M383.5 424.9V411.8" stroke="#0000ff" stroke-width="1.35" fill="none"/><path d="M882.3 424.9V415.0" stroke="#ff0000" stroke-width="1.35" fill="none"/><path d="M353.4 424.9V410.5M277.0 424.9V406.0M529.1 424.9V410.7" stroke="#0000ff" stroke-width="1.35" fill="none"/><path d="M470.2 424.9V385.7" stroke="#ff0000" stroke-width="1.35" fill="none"/><path d="M554.4 424.9V410.9" stroke="#0000ff" stroke-width="1.35" fill="none"/><path d="M605.6 424.9V414.7" stroke="#ff0000" stroke-width="1.35" fill="none"/><path d="M835.3 424.9V412.1" stroke="#0000ff" stroke-width="1.35" fill="none"/><path d="M408.7 424.9V407.2" stroke="#ff0000" stroke-width="1.35" fill="none"/><path d="M384.1 424.9V416.4" stroke="#0000ff" stroke-width="1.35" fill="none"/><path d="M514.5 424.9V413.3M785.1 424.9V411.9" stroke="#ff0000" stroke-width="1.35" fill="none"/><path d="M824.3 424.9V403.9" stroke="#0000ff" stroke-width="1.35" fill="none"/><path d="M448.3 424.9V421.9" stroke="#ff0000" stroke-width="1.35" fill="none"/><path d="M611.2 424.9V406.3" stroke="#0000ff" stroke-width="1.35" fill="none"/><path d="M540.4 424.9V405.0" stroke="#ff0000" stroke-width="1.35" fill="none"/><path d="M512.2 424.9V413.9" stroke="#0000ff" stroke-width="1.35" fill="none"/><path d="M154.7 424.9V394.8" stroke="#ff0000" stroke-width="1.35" fill="none"/><path d="M542.0 424.9V416.8" stroke="#0000ff" stroke-width="1.35" fill="none"/><path d="M430.1 424.9V418.8" stroke="#ff0000" stroke-width="1.35" fill="none"/><path d="M200.4 424.9V417.7M412.1 424.9V417.4" stroke="#0000ff" stroke-width="1.35" fill="none"/><path d="M907.9 424.9V421.9" stroke="#ff0000" stroke-width="1.35" fill="none"/><path d="M617.5 424.9V401.8" stroke="#0000ff" stroke-width="1.35" fill="none"/><path d="M449.8 424.9V412.3M815.3 424.9V397.5M550.9 424.9V416.3M728.8 424.9V412.6" stroke="#ff0000" stroke-width="1.35" fill="none"/><path d="M240.6 424.9V415.8" stroke="#0000ff" stroke-width="1.35" fill="none"/><path d="M791.4 424.9V412.8" stroke="#ff0000" stroke-width="1.35" fill="none"/><path d="M214.1 424.9V411.3M558.3 424.9V416.5M546.9 424.9V407.3M500.0 424.9V417.8M377.0 424.9V402.1M578.2 424.9V377.1M666.8 424.9V414.0M635.6 424.9V412.0M798.0 424.9V411.3M791.9 424.9V368.2" stroke="#0000ff" stroke-width="1.35" fill="none"/><path d="M534.8 424.9V417.2" stroke="#ff0000" stroke-width="1.35" fill="none"/><path d="M317.8 424.9V410.1" stroke="#0000ff" stroke-width="1.35" fill="none"/><path d="M895.3 424.9V403.1" stroke="#ff0000" stroke-width="1.35" fill="none"/><path d="M195.6 424.9V417.1M257.3 424.9V403.3" stroke="#0000ff" stroke-width="1.35" fill="none"/><path d="M831.9 424.9V376.6" stroke="#ff0000" stroke-width="1.35" fill="none"/><path d="M874.6 424.9V365.5" stroke="#0000ff" stroke-width="1.35" fill="none"/><path d="M390.1 424.9V415.6" stroke="#ff0000" stroke-width="1.35" fill="none"/><path d="M342.3 424.9V414.8" stroke="#0000ff" stroke-width="1.35" fill="none"/><path d="M716.7 424.9V414.2M562.1 424.9V410.2M194.2 424.9V417.5" stroke="#ff0000" stroke-width="1.35" fill="none"/><path d="M402.6 424.9V402.2" stroke="#0000ff" stroke-width="1.35" fill="none"/><path d="M260.0 424.9V412.1M853.6 424.9V413.9" stroke="#ff0000" stroke-width="1.35" fill="none"/><path d="M847.0 424.9V404.1M754.6 424.9V408.9" stroke="#0000ff" stroke-width="1.35" fill="none"/><path d="M908.8 424.9V422.3" stroke="#ff0000" stroke-width="1.35" fill="none"/><path d="M739.7 424.9V423.4M264.6 424.9V416.1M341.0 424.9V410.8" stroke="#0000ff" stroke-width="1.35" fill="none"/><path d="M597.0 424.9V416.3M871.5 424.9V407.1" stroke="#ff0000" stroke-width="1.35" fill="none"/><path d="M401.5 424.9V406.7" stroke="#0000ff" stroke-width="1.35" fill="none"/><path d="M504.3 424.9V390.3" stroke="#ff0000" stroke-width="1.35" fill="none"/><path d="M676.0 424.9V414.7" stroke="#0000ff" stroke-width="1.35" fill="none"/><path d="M307.3 424.9V416.5" stroke="#ff0000" stroke-width="1.35" fill="none"/><path d="M888.5 424.9V405.4" stroke="#0000ff" stroke-width="1.35" fill="none"/><path d="M506.4 424.9V417.4M763.4 424.9V409.8" stroke="#ff0000" stroke-width="1.35" fill="none"/><path d="M659.5 424.9V414.1M445.9 424.9V420.0M144.2 424.9V413.4M237.8 424.9V413.7" stroke="#0000ff" stroke-width="1.35" fill="none"/><path d="M434.1 424.9V421.0M792.4 424.9V415.3" stroke="#ff0000" stroke-width="1.35" fill="none"/><path d="M283.0 424.9V413.0" stroke="#0000ff" stroke-width="1.35" fill="none"/><path d="M569.6 424.9V404.6" stroke="#ff0000" stroke-width="1.35" fill="none"/><path d="M402.8 424.9V407.6" stroke="#0000ff" stroke-width="1.35" fill="none"/><path d="M905.8 424.9V420.3" stroke="#ff0000" stroke-width="1.35" fill="none"/><path d="M147.0 424.9V411.5" stroke="#0000ff" stroke-width="1.35" fill="none"/><path d="M808.8 424.9V412.8M561.1 424.9V408.1M438.4 424.9V422.1M152.5 424.9V418.4" stroke="#ff0000" stroke-width="1.35" fill="none"/><path d="M776.1 424.9V406.7" stroke="#0000ff" stroke-width="1.35" fill="none"/><path d="M772.8 424.9V408.6" stroke="#ff0000" stroke-width="1.35" fill="none"/><path d="M481.8 424.9V400.1" stroke="#0000ff" stroke-width="1.35" fill="none"/><path d="M354.2 424.9V417.0M336.7 424.9V413.4M810.5 424.9V414.8M840.9 424.9V398.5M453.5 424.9V419.4" stroke="#ff0000" stroke-width="1.35" fill="none"/><path d="M793.2 424.9V410.5M589.7 424.9V407.3" stroke="#0000ff" stroke-width="1.35" fill="none"/><path d="M633.3 424.9V408.3M852.5 424.9V415.1" stroke="#ff0000" stroke-width="1.35" fill="none"/><path d="M150.6 424.9V415.7" stroke="#0000ff" stroke-width="1.35" fill="none"/><path d="M525.8 424.9V417.0" stroke="#ff0000" stroke-width="1.35" fill="none"/><path d="M681.0 424.9V414.2M316.6 424.9V414.2" stroke="#0000ff" stroke-width="1.35" fill="none"/><path d="M564.0 424.9V414.9" stroke="#ff0000" stroke-width="1.35" fill="none"/><path d="M148.2 424.9V416.4M280.9 424.9V409.7M487.8 424.9V403.4" stroke="#0000ff" stroke-width="1.35" fill="none"/><path d="M590.9 424.9V405.4M836.3 424.9V408.3M220.6 424.9V416.4M853.1 424.9V415.2" stroke="#ff0000" stroke-width="1.35" fill="none"/><path d="M809.3 424.9V409.2" stroke="#0000ff" stroke-width="1.35" fill="none"/><path d="M167.1 424.9V403.5M821.3 424.9V413.5M460.8 424.9V418.7" stroke="#ff0000" stroke-width="1.35" fill="none"/><path d="M719.2 424.9V410.9M160.0 424.9V410.9M465.8 424.9V409.4" stroke="#0000ff" stroke-width="1.35" fill="none"/><path d="M665.6 424.9V416.1" stroke="#ff0000" stroke-width="1.35" fill="none"/><path d="M526.6 424.9V409.7" stroke="#0000ff" stroke-width="1.35" fill="none"/><path d="M301.1 424.9V408.6M895.9 424.9V409.6" stroke="#ff0000" stroke-width="1.35" fill="none"/><path d="M683.2 424.9V410.3" stroke="#0000ff" stroke-width="1.35" fill="none"/><path d="M151.6 424.9V417.3M812.3 424.9V405.2" stroke="#ff0000" stroke-width="1.35" fill="none"/><path d="M761.8 424.9V408.3M830.8 424.9V411.8M502.9 424.9V419.0" stroke="#0000ff" stroke-width="1.35" fill="none"/><path d="M574.1 424.9V415.5" stroke="#ff0000" stroke-width="1.35" fill="none"/><path d="M591.0 424.9V381.5" stroke="#0000ff" stroke-width="1.35" fill="none"/><path d="M635.4 424.9V412.1M347.9 424.9V415.3" stroke="#ff0000" stroke-width="1.35" fill="none"/><path d="M791.1 424.9V405.2M905.0 424.9V417.1M605.3 424.9V408.9" stroke="#0000ff" stroke-width="1.35" fill="none"/><path d="M524.6 424.9V415.6" stroke="#ff0000" stroke-width="1.35" fill="none"/><path d="M522.2 424.9V394.4M671.9 424.9V414.6M153.0 424.9V407.4" stroke="#0000ff" stroke-width="1.35" fill="none"/><path d="M615.4 424.9V413.5M592.8 424.9V412.1" stroke="#ff0000" stroke-width="1.35" fill="none"/><path d="M756.3 424.9V414.2" stroke="#0000ff" stroke-width="1.35" fill="none"/><path d="M178.2 424.9V378.7" stroke="#ff0000" stroke-width="1.35" fill="none"/><path d="M539.9 424.9V409.7M725.8 424.9V416.0M158.6 424.9V397.1M351.0 424.9V416.5" stroke="#0000ff" stroke-width="1.35" fill="none"/><path d="M820.1 424.9V405.3M542.2 424.9V417.6M305.5 424.9V413.9" stroke="#ff0000" stroke-width="1.35" fill="none"/><path d="M286.3 424.9V410.8M808.0 424.9V384.4M552.5 424.9V410.0M712.5 424.9V381.1M248.1 424.9V365.0M875.4 424.9V407.0" stroke="#0000ff" stroke-width="1.35" fill="none"/><path d="M210.0 424.9V412.3M803.9 424.9V414.3M190.0 424.9V410.2M735.2 424.9V414.5M801.0 424.9V414.0M476.0 424.9V403.1" stroke="#ff0000" stroke-width="1.35" fill="none"/><path d="M805.5 424.9V367.9M298.8 424.9V411.0" stroke="#0000ff" stroke-width="1.35" fill="none"/><path d="M908.5 424.9V416.6M285.2 424.9V416.3" stroke="#ff0000" stroke-width="1.35" fill="none"/><path d="M515.8 424.9V417.9" stroke="#0000ff" stroke-width="1.35" fill="none"/><path d="M237.1 424.9V403.9" stroke="#ff0000" stroke-width="1.35" fill="none"/><path d="M521.8 424.9V415.8M832.8 424.9V408.3" stroke="#0000ff" stroke-width="1.35" fill="none"/><path d="M423.0 424.9V419.4" stroke="#ff0000" stroke-width="1.35" fill="none"/><path d="M224.0 424.9V376.3" stroke="#0000ff" stroke-width="1.35" fill="none"/><path d="M372.4 424.9V417.0" stroke="#ff0000" stroke-width="1.35" fill="none"/><path d="M260.4 424.9V409.9M171.7 424.9V408.6M454.1 424.9V420.8" stroke="#0000ff" stroke-width="1.35" fill="none"/><path d="M547.5 424.9V412.2" stroke="#ff0000" stroke-width="1.35" fill="none"/><path d="M149.6 424.9V416.9" stroke="#0000ff" stroke-width="1.35" fill="none"/><path d="M737.1 424.9V419.2M328.7 424.9V404.6M778.9 424.9V412.8" stroke="#ff0000" stroke-width="1.35" fill="none"/><path d="M441.4 424.9V418.2M171.5 424.9V414.5M576.5 424.9V379.0M184.1 424.9V412.0M839.3 424.9V415.5M492.1 424.9V417.9" stroke="#0000ff" stroke-width="1.35" fill="none"/><path d="M482.7 424.9V377.1M606.5 424.9V416.2M571.5 424.9V408.1" stroke="#ff0000" stroke-width="1.35" fill="none"/><path d="M521.3 424.9V410.6" stroke="#0000ff" stroke-width="1.35" fill="none"/><path d="M798.6 424.9V372.7M677.5 424.9V410.6" stroke="#ff0000" stroke-width="1.35" fill="none"/><path d="M784.5 424.9V399.3M267.1 424.9V387.4" stroke="#0000ff" stroke-width="1.35" fill="none"/><path d="M866.7 424.9V414.7M457.3 424.9V421.4M264.5 424.9V415.7M258.0 424.9V414.1" stroke="#ff0000" stroke-width="1.35" fill="none"/><path d="M618.1 424.9V403.7M442.6 424.9V421.6M233.1 424.9V408.6" stroke="#0000ff" stroke-width="1.35" fill="none"/><path d="M316.8 424.9V415.3M478.7 424.9V411.3" stroke="#ff0000" stroke-width="1.35" fill="none"/><path d="M650.3 424.9V416.0" stroke="#0000ff" stroke-width="1.35" fill="none"/><path d="M903.9 424.9V418.4" stroke="#ff0000" stroke-width="1.35" fill="none"/><path d="M723.5 424.9V415.6M810.0 424.9V413.1M358.3 424.9V404.8M807.4 424.9V394.3" stroke="#0000ff" stroke-width="1.35" fill="none"/><path d="M860.5 424.9V411.9" stroke="#ff0000" stroke-width="1.35" fill="none"/><path d="M253.3 424.9V400.3M308.5 424.9V414.2" stroke="#0000ff" stroke-width="1.35" fill="none"/><path d="M625.8 424.9V404.4M468.0 424.9V405.7M282.3 424.9V406.3M528.2 424.9V396.8M545.5 424.9V415.7" stroke="#ff0000" stroke-width="1.35" fill="none"/><path d="M537.1 424.9V417.8M360.7 424.9V412.8" stroke="#0000ff" stroke-width="1.35" fill="none"/><path d="M532.6 424.9V412.7" stroke="#ff0000" stroke-width="1.35" fill="none"/><path d="M507.5 424.9V402.4M325.5 424.9V405.4" stroke="#0000ff" stroke-width="1.35" fill="none"/><path d="M814.0 424.9V414.5" stroke="#ff0000" stroke-width="1.35" fill="none"/><path d="M516.3 424.9V418.4" stroke="#0000ff" stroke-width="1.35" fill="none"/><path d="M316.6 424.9V409.8" stroke="#ff0000" stroke-width="1.35" fill="none"/><path d="M737.4 424.9V408.0M453.4 424.9V422.0M577.5 424.9V401.6" stroke="#0000ff" stroke-width="1.35" fill="none"/><path d="M712.9 424.9V411.5" stroke="#ff0000" stroke-width="1.35" fill="none"/><path d="M716.9 424.9V412.9" stroke="#0000ff" stroke-width="1.35" fill="none"/><path d="M855.9 424.9V413.5" stroke="#ff0000" stroke-width="1.35" fill="none"/><path d="M282.2 424.9V413.3M775.9 424.9V395.1M345.7 424.9V410.3M637.1 424.9V406.8M353.4 424.9V402.5" stroke="#0000ff" stroke-width="1.35" fill="none"/><path d="M445.7 424.9V422.0" stroke="#ff0000" stroke-width="1.35" fill="none"/><path d="M624.8 424.9V415.7" stroke="#0000ff" stroke-width="1.35" fill="none"/><path d="M864.3 424.9V409.2M396.5 424.9V400.1M830.6 424.9V415.2M710.0 424.9V415.0" stroke="#ff0000" stroke-width="1.35" fill="none"/><path d="M162.1 424.9V417.4" stroke="#0000ff" stroke-width="1.35" fill="none"/><path d="M208.7 424.9V417.2M346.8 424.9V413.9" stroke="#ff0000" stroke-width="1.35" fill="none"/><path d="M169.6 424.9V416.7" stroke="#0000ff" stroke-width="1.35" fill="none"/><path d="M810.4 424.9V410.7" stroke="#ff0000" stroke-width="1.35" fill="none"/><path d="M360.0 424.9V416.0" stroke="#0000ff" stroke-width="1.35" fill="none"/><path d="M345.7 424.9V402.3" stroke="#ff0000" stroke-width="1.35" fill="none"/><path d="M182.5 424.9V367.7" stroke="#0000ff" stroke-width="1.35" fill="none"/><path d="M398.5 424.9V411.6" stroke="#ff0000" stroke-width="1.35" fill="none"/><path d="M602.8 424.9V408.0" stroke="#0000ff" stroke-width="1.35" fill="none"/><path d="M444.3 424.9V421.8M756.3 424.9V402.8" stroke="#ff0000" stroke-width="1.35" fill="none"/><path d="M548.0 424.9V413.3M384.4 424.9V416.5M408.0 424.9V383.5M871.6 424.9V410.5M422.3 424.9V419.1M649.5 424.9V412.9" stroke="#0000ff" stroke-width="1.35" fill="none"/><path d="M484.0 424.9V411.9" stroke="#ff0000" stroke-width="1.35" fill="none"/><path d="M596.5 424.9V416.4" stroke="#0000ff" stroke-width="1.35" fill="none"/><path d="M246.4 424.9V413.2M410.8 424.9V407.6" stroke="#ff0000" stroke-width="1.35" fill="none"/><path d="M575.3 424.9V363.6M641.0 424.9V416.3M533.5 424.9V407.8M322.6 424.9V413.2M655.8 424.9V416.2M520.0 424.9V418.2" stroke="#0000ff" stroke-width="1.35" fill="none"/><path d="M880.0 424.9V390.0" stroke="#ff0000" stroke-width="1.35" fill="none"/><path d="M376.2 424.9V411.3" stroke="#0000ff" stroke-width="1.35" fill="none"/><path d="M729.8 424.9V415.3M846.4 424.9V405.0M503.4 424.9V419.2M790.5 424.9V407.5M426.9 424.9V421.1" stroke="#ff0000" stroke-width="1.35" fill="none"/><path d="M781.3 424.9V409.6M890.3 424.9V415.8" stroke="#0000ff" stroke-width="1.35" fill="none"/><path d="M384.9 424.9V402.1" stroke="#ff0000" stroke-width="1.35" fill="none"/><path d="M305.7 424.9V412.0" stroke="#0000ff" stroke-width="1.35" fill="none"/><path d="M545.5 424.9V417.3" stroke="#ff0000" stroke-width="1.35" fill="none"/><path d="M583.6 424.9V416.1" stroke="#0000ff" stroke-width="1.35" fill="none"/><path d="M646.2 424.9V382.0" stroke="#ff0000" stroke-width="1.35" fill="none"/><path d="M423.9 424.9V416.0" stroke="#0000ff" stroke-width="1.35" fill="none"/><path d="M762.4 424.9V391.1M619.9 424.9V414.6" stroke="#ff0000" stroke-width="1.35" fill="none"/><path d="M235.0 424.9V414.9" stroke="#0000ff" stroke-width="1.35" fill="none"/><path d="M658.9 424.9V414.6" stroke="#ff0000" stroke-width="1.35" fill="none"/><path d="M638.3 424.9V364.7" stroke="#0000ff" stroke-width="1.35" fill="none"/><path d="M511.0 424.9V403.6" stroke="#ff0000" stroke-width="1.35" fill="none"/><path d="M502.0 424.9V417.7M219.7 424.9V411.3M402.0 424.9V413.4" stroke="#0000ff" stroke-width="1.35" fill="none"/><path d="M630.0 424.9V413.0" stroke="#ff0000" stroke-width="1.35" fill="none"/><path d="M302.3 424.9V379.0" stroke="#0000ff" stroke-width="1.35" fill="none"/><path d="M443.0 424.9V421.4" stroke="#ff0000" stroke-width="1.35" fill="none"/><path d="M457.9 424.9V412.8M788.2 424.9V407.7M146.5 424.9V372.4M524.2 424.9V414.7" stroke="#0000ff" stroke-width="1.35" fill="none"/><path d="M480.6 424.9V410.3" stroke="#ff0000" stroke-width="1.35" fill="none"/><path d="M891.6 424.9V398.5" stroke="#0000ff" stroke-width="1.35" fill="none"/><path d="M235.3 424.9V412.6M533.0 424.9V410.4" stroke="#ff0000" stroke-width="1.35" fill="none"/><path d="M712.0 424.9V380.7M440.3 424.9V407.1M424.5 424.9V412.2M670.5 424.9V383.7M246.7 424.9V407.9" stroke="#0000ff" stroke-width="1.35" fill="none"/><path d="M466.1 424.9V412.1M732.2 424.9V412.4" stroke="#ff0000" stroke-width="1.35" fill="none"/><path d="M600.5 424.9V413.0" stroke="#0000ff" stroke-width="1.35" fill="none"/><path d="M701.0 424.9V413.6M731.5 424.9V407.8" stroke="#ff0000" stroke-width="1.35" fill="none"/><path d="M356.2 424.9V414.4M338.0 424.9V392.2" stroke="#0000ff" stroke-width="1.35" fill="none"/><path d="M247.7 424.9V413.7M900.7 424.9V417.1M263.9 424.9V399.4M506.9 424.9V406.2" stroke="#ff0000" stroke-width="1.35" fill="none"/><path d="M761.2 424.9V411.7" stroke="#0000ff" stroke-width="1.35" fill="none"/><path d="M325.5 424.9V413.4" stroke="#ff0000" stroke-width="1.35" fill="none"/><path d="M263.3 424.9V393.2" stroke="#0000ff" stroke-width="1.35" fill="none"/><path d="M891.2 424.9V413.9M630.7 424.9V407.2M709.2 424.9V410.0" stroke="#ff0000" stroke-width="1.35" fill="none"/><path d="M766.0 424.9V415.7M177.0 424.9V393.7" stroke="#0000ff" stroke-width="1.35" fill="none"/><path d="M767.2 424.9V407.9" stroke="#ff0000" stroke-width="1.35" fill="none"/><path d="M474.0 424.9V388.2" stroke="#0000ff" stroke-width="1.35" fill="none"/><path d="M714.7 424.9V401.7M191.8 424.9V417.9" stroke="#ff0000" stroke-width="1.35" fill="none"/><path d="M876.6 424.9V399.0M280.3 424.9V398.7" stroke="#0000ff" stroke-width="1.35" fill="none"/><path d="M731.6 424.9V398.2" stroke="#ff0000" stroke-width="1.35" fill="none"/><path d="M150.1 424.9V405.1M312.8 424.9V409.8M170.5 424.9V394.1M448.7 424.9V421.1" stroke="#0000ff" stroke-width="1.35" fill="none"/><path d="M747.9 424.9V413.4" stroke="#ff0000" stroke-width="1.35" fill="none"/><path d="M658.3 424.9V415.7M170.5 424.9V416.8M723.4 424.9V416.3" stroke="#0000ff" stroke-width="1.35" fill="none"/><path d="M213.4 424.9V416.6" stroke="#ff0000" stroke-width="1.35" fill="none"/><path d="M175.8 424.9V415.5M784.1 424.9V376.8M166.2 424.9V418.2M750.5 424.9V410.6M368.9 424.9V409.8" stroke="#0000ff" stroke-width="1.35" fill="none"/><path d="M400.3 424.9V416.9M608.1 424.9V401.3" stroke="#ff0000" stroke-width="1.35" fill="none"/><path d="M866.3 424.9V409.8M555.3 424.9V413.4M431.7 424.9V421.8M610.6 424.9V415.5M423.5 424.9V393.5M324.6 424.9V415.9M451.7 424.9V422.1" stroke="#0000ff" stroke-width="1.35" fill="none"/><path d="M617.4 424.9V416.4M144.6 424.9V416.0M269.7 424.9V415.1" stroke="#ff0000" stroke-width="1.35" fill="none"/><path d="M253.3 424.9V368.4M469.4 424.9V399.4M843.9 424.9V414.3M764.4 424.9V406.1" stroke="#0000ff" stroke-width="1.35" fill="none"/><path d="M577.8 424.9V412.5M648.7 424.9V412.2M515.6 424.9V415.6" stroke="#ff0000" stroke-width="1.35" fill="none"/><path d="M363.6 424.9V416.2" stroke="#0000ff" stroke-width="1.35" fill="none"/><path d="M674.7 424.9V411.9" stroke="#ff0000" stroke-width="1.35" fill="none"/><path d="M611.5 424.9V390.0M821.8 424.9V414.3" stroke="#0000ff" stroke-width="1.35" fill="none"/><path d="M882.6 424.9V415.3" stroke="#ff0000" stroke-width="1.35" fill="none"/><path d="M328.3 424.9V413.7M594.2 424.9V413.4M484.7 424.9V388.1M759.0 424.9V402.9M158.8 424.9V409.3" stroke="#0000ff" stroke-width="1.35" fill="none"/><path d="M334.1 424.9V414.2M728.6 424.9V411.0" stroke="#ff0000" stroke-width="1.35" fill="none"/><path d="M420.9 424.9V413.9M334.7 424.9V402.7M853.0 424.9V390.2M672.8 424.9V416.1M377.5 424.9V415.5" stroke="#0000ff" stroke-width="1.35" fill="none"/><path d="M703.7 424.9V414.4M429.5 424.9V421.1M762.4 424.9V413.8M707.4 424.9V413.4" stroke="#ff0000" stroke-width="1.35" fill="none"/><path d="M297.5 424.9V412.6" stroke="#0000ff" stroke-width="1.35" fill="none"/><path d="M203.8 424.9V402.8" stroke="#ff0000" stroke-width="1.35" fill="none"/><path d="M907.0 424.9V422.9" stroke="#0000ff" stroke-width="1.35" fill="none"/><path d="M723.5 424.9V415.3" stroke="#ff0000" stroke-width="1.35" fill="none"/><path d="M805.1 424.9V415.0" stroke="#0000ff" stroke-width="1.35" fill="none"/><path d="M437.4 424.9V421.0" stroke="#ff0000" stroke-width="1.35" fill="none"/><path d="M405.9 424.9V415.1" stroke="#0000ff" stroke-width="1.35" fill="none"/><path d="M722.6 424.9V416.1M836.0 424.9V411.3M358.6 424.9V414.5M455.8 424.9V416.9" stroke="#ff0000" stroke-width="1.35" fill="none"/><path d="M163.0 424.9V413.7" stroke="#0000ff" stroke-width="1.35" fill="none"/><path d="M758.9 424.9V410.5M898.4 424.9V416.8M873.8 424.9V414.9" stroke="#ff0000" stroke-width="1.35" fill="none"/><path d="M537.4 424.9V407.8" stroke="#0000ff" stroke-width="1.35" fill="none"/><path d="M527.5 424.9V416.2M889.8 424.9V410.9M275.2 424.9V399.9M169.0 424.9V413.2" stroke="#ff0000" stroke-width="1.35" fill="none"/><path d="M584.3 424.9V413.5" stroke="#0000ff" stroke-width="1.35" fill="none"/><path d="M776.7 424.9V408.3M768.2 424.9V410.3" stroke="#ff0000" stroke-width="1.35" fill="none"/><path d="M333.6 424.9V412.9M825.5 424.9V409.6" stroke="#0000ff" stroke-width="1.35" fill="none"/><path d="M585.8 424.9V398.7" stroke="#ff0000" stroke-width="1.35" fill="none"/><path d="M850.5 424.9V391.1M894.4 424.9V413.9M807.2 424.9V414.6M841.4 424.9V412.8M678.6 424.9V410.6" stroke="#0000ff" stroke-width="1.35" fill="none"/><path d="M766.6 424.9V410.9M857.7 424.9V411.5M636.7 424.9V413.3" stroke="#ff0000" stroke-width="1.35" fill="none"/><path d="M631.2 424.9V416.4" stroke="#0000ff" stroke-width="1.35" fill="none"/><path d="M528.3 424.9V408.3M786.9 424.9V415.5M652.3 424.9V414.1M680.6 424.9V406.3" stroke="#ff0000" stroke-width="1.35" fill="none"/><path d="M306.0 424.9V408.4M601.0 424.9V412.2" stroke="#0000ff" stroke-width="1.35" fill="none"/><path d="M559.9 424.9V414.8M531.2 424.9V410.4" stroke="#ff0000" stroke-width="1.35" fill="none"/><path d="M226.9 424.9V415.8" stroke="#0000ff" stroke-width="1.35" fill="none"/><path d="M303.3 424.9V414.5" stroke="#ff0000" stroke-width="1.35" fill="none"/><path d="M180.2 424.9V417.0" stroke="#0000ff" stroke-width="1.35" fill="none"/><path d="M637.4 424.9V411.6" stroke="#ff0000" stroke-width="1.35" fill="none"/><path d="M757.1 424.9V411.6" stroke="#0000ff" stroke-width="1.35" fill="none"/><path d="M416.6 424.9V409.4M436.2 424.9V416.9" stroke="#ff0000" stroke-width="1.35" fill="none"/><path d="M177.0 424.9V415.8" stroke="#0000ff" stroke-width="1.35" fill="none"/><path d="M472.6 424.9V403.7M745.5 424.9V414.5" stroke="#ff0000" stroke-width="1.35" fill="none"/><path d="M523.7 424.9V418.2" stroke="#0000ff" stroke-width="1.35" fill="none"/><path d="M490.2 424.9V417.4" stroke="#ff0000" stroke-width="1.35" fill="none"/><path d="M724.3 424.9V403.2M725.5 424.9V415.9" stroke="#0000ff" stroke-width="1.35" fill="none"/><path d="M577.5 424.9V407.9" stroke="#ff0000" stroke-width="1.35" fill="none"/><path d="M231.9 424.9V416.3" stroke="#0000ff" stroke-width="1.35" fill="none"/><path d="M433.1 424.9V421.3M788.0 424.9V408.6M586.7 424.9V411.9" stroke="#ff0000" stroke-width="1.35" fill="none"/><path d="M364.6 424.9V414.1" stroke="#0000ff" stroke-width="1.35" fill="none"/><path d="M455.1 424.9V420.4M424.4 424.9V420.2" stroke="#ff0000" stroke-width="1.35" fill="none"/><path d="M607.4 424.9V409.3M523.0 424.9V407.9" stroke="#0000ff" stroke-width="1.35" fill="none"/><path d="M788.6 424.9V408.9" stroke="#ff0000" stroke-width="1.35" fill="none"/><path d="M436.0 424.9V421.0" stroke="#0000ff" stroke-width="1.35" fill="none"/><path d="M657.5 424.9V407.6" stroke="#ff0000" stroke-width="1.35" fill="none"/><path d="M212.2 424.9V410.0" stroke="#0000ff" stroke-width="1.35" fill="none"/><path d="M312.9 424.9V413.6" stroke="#ff0000" stroke-width="1.35" fill="none"/><path d="M654.7 424.9V416.4M509.3 424.9V414.6M276.5 424.9V414.5M608.0 424.9V406.6M729.7 424.9V407.1" stroke="#0000ff" stroke-width="1.35" fill="none"/><path d="M897.0 424.9V415.7" stroke="#ff0000" stroke-width="1.35" fill="none"/><path d="M742.7 424.9V419.5M793.3 424.9V389.9" stroke="#0000ff" stroke-width="1.35" fill="none"/><path d="M521.8 424.9V418.1" stroke="#ff0000" stroke-width="1.35" fill="none"/><path d="M525.6 424.9V407.2M314.9 424.9V414.6M161.2 424.9V407.4" stroke="#0000ff" stroke-width="1.35" fill="none"/><path d="M765.4 424.9V411.0" stroke="#ff0000" stroke-width="1.35" fill="none"/><path d="M446.7 424.9V421.7" stroke="#0000ff" stroke-width="1.35" fill="none"/><path d="M766.5 424.9V415.4M370.2 424.9V413.8" stroke="#ff0000" stroke-width="1.35" fill="none"/><path d="M334.9 424.9V410.2M572.2 424.9V413.8" stroke="#0000ff" stroke-width="1.35" fill="none"/><path d="M842.1 424.9V412.2" stroke="#ff0000" stroke-width="1.35" fill="none"/><path d="M663.6 424.9V411.3M627.3 424.9V416.1M534.1 424.9V386.7M191.6 424.9V415.5M443.7 424.9V416.9M508.2 424.9V417.7M790.9 424.9V403.7" stroke="#0000ff" stroke-width="1.35" fill="none"/><path d="M732.9 424.9V410.0M338.9 424.9V414.5" stroke="#ff0000" stroke-width="1.35" fill="none"/><path d="M183.1 424.9V412.1M832.8 424.9V397.3" stroke="#0000ff" stroke-width="1.35" fill="none"/><path d="M767.3 424.9V415.6M589.5 424.9V415.2" stroke="#ff0000" stroke-width="1.35" fill="none"/><path d="M382.3 424.9V409.6" stroke="#0000ff" stroke-width="1.35" fill="none"/><path d="M880.9 424.9V414.2M627.2 424.9V412.3" stroke="#ff0000" stroke-width="1.35" fill="none"/><path d="M656.1 424.9V403.3" stroke="#0000ff" stroke-width="1.35" fill="none"/><path d="M458.7 424.9V420.7" stroke="#ff0000" stroke-width="1.35" fill="none"/><path d="M695.5 424.9V411.7" stroke="#0000ff" stroke-width="1.35" fill="none"/><path d="M239.9 424.9V416.6" stroke="#ff0000" stroke-width="1.35" fill="none"/><path d="M320.5 424.9V407.9" stroke="#0000ff" stroke-width="1.35" fill="none"/><path d="M506.3 424.9V417.5" stroke="#ff0000" stroke-width="1.35" fill="none"/><path d="M845.8 424.9V405.7M387.9 424.9V400.0" stroke="#0000ff" stroke-width="1.35" fill="none"/><path d="M750.9 424.9V411.1M893.5 424.9V411.9M590.2 424.9V415.9" stroke="#ff0000" stroke-width="1.35" fill="none"/><path d="M579.8 424.9V416.5" stroke="#0000ff" stroke-width="1.35" fill="none"/><path d="M514.7 424.9V417.2" stroke="#ff0000" stroke-width="1.35" fill="none"/><path d="M792.5 424.9V405.3M564.4 424.9V409.9" stroke="#0000ff" stroke-width="1.35" fill="none"/><path d="M515.9 424.9V416.8M421.8 424.9V411.3M670.0 424.9V413.9M523.2 424.9V417.6M734.0 424.9V415.8M468.8 424.9V409.9" stroke="#ff0000" stroke-width="1.35" fill="none"/><path d="M746.8 424.9V412.0M838.6 424.9V415.4M879.5 424.9V388.5" stroke="#0000ff" stroke-width="1.35" fill="none"/><path d="M542.9 424.9V410.2M567.5 424.9V410.9M779.9 424.9V415.1" stroke="#ff0000" stroke-width="1.35" fill="none"/><path d="M755.0 424.9V402.5M647.9 424.9V415.7" stroke="#0000ff" stroke-width="1.35" fill="none"/><path d="M808.2 424.9V412.8" stroke="#ff0000" stroke-width="1.35" fill="none"/><path d="M671.8 424.9V388.6M801.6 424.9V397.3M256.5 424.9V413.3" stroke="#0000ff" stroke-width="1.35" fill="none"/><path d="M324.9 424.9V416.8" stroke="#ff0000" stroke-width="1.35" fill="none"/><path d="M626.8 424.9V397.2" stroke="#0000ff" stroke-width="1.35" fill="none"/><path d="M536.0 424.9V417.6" stroke="#ff0000" stroke-width="1.35" fill="none"/><path d="M291.5 424.9V415.0" stroke="#0000ff" stroke-width="1.35" fill="none"/><path d="M808.1 424.9V404.7" stroke="#ff0000" stroke-width="1.35" fill="none"/><path d="M866.2 424.9V412.2M365.1 424.9V413.8" stroke="#0000ff" stroke-width="1.35" fill="none"/><path d="M740.0 424.9V420.3" stroke="#ff0000" stroke-width="1.35" fill="none"/><path d="M311.6 424.9V414.0M292.0 424.9V415.4M653.0 424.9V402.8M856.0 424.9V409.6M151.4 424.9V406.5M457.0 424.9V422.0" stroke="#0000ff" stroke-width="1.35" fill="none"/><path d="M697.0 424.9V406.6M438.8 424.9V421.7M870.8 424.9V415.3M812.1 424.9V412.4" stroke="#ff0000" stroke-width="1.35" fill="none"/><path d="M880.1 424.9V407.5M329.2 424.9V412.3" stroke="#0000ff" stroke-width="1.35" fill="none"/><path d="M765.6 424.9V405.1" stroke="#ff0000" stroke-width="1.35" fill="none"/><path d="M292.9 424.9V408.2M823.2 424.9V414.0M778.6 424.9V387.1M321.5 424.9V414.2M260.7 424.9V399.5" stroke="#0000ff" stroke-width="1.35" fill="none"/><path d="M393.9 424.9V407.6" stroke="#ff0000" stroke-width="1.35" fill="none"/><path d="M795.2 424.9V410.4M659.1 424.9V412.6" stroke="#0000ff" stroke-width="1.35" fill="none"/><path d="M675.7 424.9V404.7M152.7 424.9V416.6" stroke="#ff0000" stroke-width="1.35" fill="none"/><path d="M400.0 424.9V415.1" stroke="#0000ff" stroke-width="1.35" fill="none"/><path d="M575.0 424.9V404.0M662.4 424.9V413.9" stroke="#ff0000" stroke-width="1.35" fill="none"/><path d="M197.0 424.9V404.1" stroke="#0000ff" stroke-width="1.35" fill="none"/><path d="M513.3 424.9V418.8M460.8 424.9V420.6" stroke="#ff0000" stroke-width="1.35" fill="none"/><path d="M833.8 424.9V412.6M756.2 424.9V379.5M612.6 424.9V407.2M647.9 424.9V416.2M271.8 424.9V416.0M700.9 424.9V394.1M504.1 424.9V418.0" stroke="#0000ff" stroke-width="1.35" fill="none"/><path d="M726.1 424.9V416.0M687.9 424.9V414.6M549.5 424.9V394.5" stroke="#ff0000" stroke-width="1.35" fill="none"/><path d="M303.6 424.9V408.2M571.3 424.9V406.4" stroke="#0000ff" stroke-width="1.35" fill="none"/><path d="M526.8 424.9V413.1M516.9 424.9V413.0" stroke="#ff0000" stroke-width="1.35" fill="none"/><path d="M600.7 424.9V414.6M778.7 424.9V403.9M555.8 424.9V404.8M888.8 424.9V413.3M649.0 424.9V400.8M544.8 424.9V409.6" stroke="#0000ff" stroke-width="1.35" fill="none"/><path d="M361.2 424.9V395.3M486.4 424.9V410.0M823.0 424.9V402.5" stroke="#ff0000" stroke-width="1.35" fill="none"/><path d="M168.2 424.9V415.8M369.9 424.9V416.4M794.0 424.9V406.4M261.3 424.9V403.6" stroke="#0000ff" stroke-width="1.35" fill="none"/><path d="M436.3 424.9V420.8M714.9 424.9V400.8M755.4 424.9V415.3" stroke="#ff0000" stroke-width="1.35" fill="none"/><path d="M321.5 424.9V417.0M540.5 424.9V416.8" stroke="#0000ff" stroke-width="1.35" fill="none"/><path d="M267.3 424.9V415.8M286.2 424.9V415.2" stroke="#ff0000" stroke-width="1.35" fill="none"/><path d="M193.5 424.9V417.8M179.6 424.9V407.1" stroke="#0000ff" stroke-width="1.35" fill="none"/><path d="M163.9 424.9V410.9M473.3 424.9V387.9M230.2 424.9V403.1M566.2 424.9V394.2" stroke="#ff0000" stroke-width="1.35" fill="none"/><path d="M189.8 424.9V412.6" stroke="#0000ff" stroke-width="1.35" fill="none"/><path d="M870.3 424.9V407.5" stroke="#ff0000" stroke-width="1.35" fill="none"/><path d="M804.4 424.9V398.0" stroke="#0000ff" stroke-width="1.35" fill="none"/><path d="M402.9 424.9V408.0M719.9 424.9V403.6M603.5 424.9V415.3" stroke="#ff0000" stroke-width="1.35" fill="none"/><path d="M453.0 424.9V419.9" stroke="#0000ff" stroke-width="1.35" fill="none"/><path d="M909.0 424.9V423.2M895.2 424.9V399.8M563.6 424.9V404.7" stroke="#ff0000" stroke-width="1.35" fill="none"/><path d="M555.7 424.9V406.6" stroke="#0000ff" stroke-width="1.35" fill="none"/><path d="M780.7 424.9V407.9M426.0 424.9V415.6" stroke="#ff0000" stroke-width="1.35" fill="none"/><path d="M311.1 424.9V407.7M606.5 424.9V414.1M196.4 424.9V417.7M245.7 424.9V414.9" stroke="#0000ff" stroke-width="1.35" fill="none"/><path d="M274.3 424.9V415.0" stroke="#ff0000" stroke-width="1.35" fill="none"/><path d="M757.8 424.9V395.9M273.0 424.9V405.8M773.8 424.9V404.6M178.6 424.9V418.1M144.1 424.9V411.5M702.9 424.9V408.3M573.4 424.9V392.4M458.5 424.9V419.2M845.9 424.9V398.0" stroke="#0000ff" stroke-width="1.35" fill="none"/><path d="M723.8 424.9V416.1M806.4 424.9V408.0M493.6 424.9V411.6" stroke="#ff0000" stroke-width="1.35" fill="none"/><path d="M249.2 424.9V413.3" stroke="#0000ff" stroke-width="1.35" fill="none"/><path d="M248.1 424.9V395.3M677.5 424.9V372.8M389.5 424.9V413.4" stroke="#ff0000" stroke-width="1.35" fill="none"/><path d="M444.8 424.9V420.3" stroke="#0000ff" stroke-width="1.35" fill="none"/><path d="M828.5 424.9V413.1" stroke="#ff0000" stroke-width="1.35" fill="none"/><path d="M381.6 424.9V407.3M582.4 424.9V399.8M202.0 424.9V417.7" stroke="#0000ff" stroke-width="1.35" fill="none"/><path d="M309.2 424.9V414.3" stroke="#ff0000" stroke-width="1.35" fill="none"/><path d="M163.5 424.9V412.6" stroke="#0000ff" stroke-width="1.35" fill="none"/><path d="M750.9 424.9V414.9" stroke="#ff0000" stroke-width="1.35" fill="none"/><path d="M776.9 424.9V405.9M843.2 424.9V411.5" stroke="#0000ff" stroke-width="1.35" fill="none"/><path d="M554.1 424.9V414.7M572.6 424.9V414.2M311.3 424.9V388.0" stroke="#ff0000" stroke-width="1.35" fill="none"/><path d="M771.2 424.9V401.9" stroke="#0000ff" stroke-width="1.35" fill="none"/><path d="M700.9 424.9V397.4M613.6 424.9V408.8M685.1 424.9V412.4" stroke="#ff0000" stroke-width="1.35" fill="none"/><path d="M529.6 424.9V403.4" stroke="#0000ff" stroke-width="1.35" fill="none"/><path d="M186.2 424.9V416.5" stroke="#ff0000" stroke-width="1.35" fill="none"/><path d="M306.5 424.9V413.8" stroke="#0000ff" stroke-width="1.35" fill="none"/><path d="M698.5 424.9V407.8M721.4 424.9V413.4M648.1 424.9V415.2M754.0 424.9V410.8" stroke="#ff0000" stroke-width="1.35" fill="none"/><path d="M623.5 424.9V404.8M872.3 424.9V413.2M203.5 424.9V406.9" stroke="#0000ff" stroke-width="1.35" fill="none"/><path d="M720.5 424.9V369.9" stroke="#ff0000" stroke-width="1.35" fill="none"/><path d="M156.6 424.9V403.1M496.5 424.9V414.2" stroke="#0000ff" stroke-width="1.35" fill="none"/><path d="M505.2 424.9V415.2" stroke="#ff0000" stroke-width="1.35" fill="none"/><path d="M188.9 424.9V407.5M320.0 424.9V412.0M405.1 424.9V414.7M813.5 424.9V409.4M623.9 424.9V414.8M473.4 424.9V376.9" stroke="#0000ff" stroke-width="1.35" fill="none"/><path d="M845.4 424.9V414.8" stroke="#ff0000" stroke-width="1.35" fill="none"/><path d="M304.3 424.9V410.3" stroke="#0000ff" stroke-width="1.35" fill="none"/><path d="M771.9 424.9V414.4" stroke="#ff0000" stroke-width="1.35" fill="none"/><path d="M255.2 424.9V414.0" stroke="#0000ff" stroke-width="1.35" fill="none"/><path d="M541.6 424.9V417.1" stroke="#ff0000" stroke-width="1.35" fill="none"/><path d="M517.8 424.9V395.2M670.2 424.9V392.3M642.0 424.9V408.2M181.2 424.9V367.5" stroke="#0000ff" stroke-width="1.35" fill="none"/><path d="M523.2 424.9V418.6M849.0 424.9V407.2M699.9 424.9V407.1M451.7 424.9V420.8M534.0 424.9V416.2" stroke="#ff0000" stroke-width="1.35" fill="none"/><path d="M145.6 424.9V414.4M282.4 424.9V414.8" stroke="#0000ff" stroke-width="1.35" fill="none"/><path d="M217.4 424.9V414.7M233.7 424.9V415.8" stroke="#ff0000" stroke-width="1.35" fill="none"/><path d="M404.4 424.9V398.2" stroke="#0000ff" stroke-width="1.35" fill="none"/><path d="M750.2 424.9V403.7" stroke="#ff0000" stroke-width="1.35" fill="none"/><path d="M372.0 424.9V403.2" stroke="#0000ff" stroke-width="1.35" fill="none"/><path d="M298.8 424.9V410.3" stroke="#ff0000" stroke-width="1.35" fill="none"/><path d="M192.3 424.9V415.0M223.9 424.9V410.1" stroke="#0000ff" stroke-width="1.35" fill="none"/><path d="M753.9 424.9V406.9M805.9 424.9V411.2" stroke="#ff0000" stroke-width="1.35" fill="none"/><path d="M877.0 424.9V413.8" stroke="#0000ff" stroke-width="1.35" fill="none"/><path d="M656.0 424.9V412.1" stroke="#ff0000" stroke-width="1.35" fill="none"/><path d="M197.6 424.9V409.1" stroke="#0000ff" stroke-width="1.35" fill="none"/><path d="M518.9 424.9V412.9" stroke="#ff0000" stroke-width="1.35" fill="none"/><path d="M537.8 424.9V410.3M692.4 424.9V409.8" stroke="#0000ff" stroke-width="1.35" fill="none"/><path d="M710.9 424.9V383.3" stroke="#ff0000" stroke-width="1.35" fill="none"/><path d="M268.9 424.9V367.8" stroke="#0000ff" stroke-width="1.35" fill="none"/><path d="M583.4 424.9V416.4M256.0 424.9V413.4" stroke="#ff0000" stroke-width="1.35" fill="none"/><path d="M859.2 424.9V412.3M300.8 424.9V416.7M782.6 424.9V403.4M285.7 424.9V410.5" stroke="#0000ff" stroke-width="1.35" fill="none"/><path d="M898.0 424.9V405.9M314.9 424.9V414.3" stroke="#ff0000" stroke-width="1.35" fill="none"/><path d="M414.5 424.9V415.6" stroke="#0000ff" stroke-width="1.35" fill="none"/><path d="M541.5 424.9V417.1" stroke="#ff0000" stroke-width="1.35" fill="none"/><path d="M505.7 424.9V414.7" stroke="#0000ff" stroke-width="1.35" fill="none"/><path d="M683.5 424.9V409.9M759.9 424.9V411.4M803.2 424.9V413.1M588.6 424.9V378.9M582.0 424.9V407.3" stroke="#ff0000" stroke-width="1.35" fill="none"/><path d="M698.8 424.9V415.5" stroke="#0000ff" stroke-width="1.35" fill="none"/><path d="M436.8 424.9V420.4M888.5 424.9V405.9M454.1 424.9V421.2M830.8 424.9V415.1" stroke="#ff0000" stroke-width="1.35" fill="none"/><path d="M770.1 424.9V410.8M886.7 424.9V416.0M880.5 424.9V401.7" stroke="#0000ff" stroke-width="1.35" fill="none"/><path d="M464.3 424.9V417.0" stroke="#ff0000" stroke-width="1.35" fill="none"/><path d="M654.9 424.9V363.3" stroke="#0000ff" stroke-width="1.35" fill="none"/><path d="M883.5 424.9V411.8" stroke="#ff0000" stroke-width="1.35" fill="none"/><path d="M572.8 424.9V402.4M287.8 424.9V406.6" stroke="#0000ff" stroke-width="1.35" fill="none"/><path d="M193.1 424.9V413.8" stroke="#ff0000" stroke-width="1.35" fill="none"/><path d="M724.0 424.9V410.0M451.0 424.9V421.3M716.3 424.9V396.6" stroke="#0000ff" stroke-width="1.35" fill="none"/><path d="M796.5 424.9V409.1M844.0 424.9V415.0M510.3 424.9V418.7M508.4 424.9V399.1" stroke="#ff0000" stroke-width="1.35" fill="none"/><path d="M638.1 424.9V376.8" stroke="#0000ff" stroke-width="1.35" fill="none"/><path d="M793.8 424.9V411.2" stroke="#ff0000" stroke-width="1.35" fill="none"/><path d="M194.4 424.9V393.5" stroke="#0000ff" stroke-width="1.35" fill="none"/><path d="M641.7 424.9V406.5M775.2 424.9V407.6M842.1 424.9V414.0M632.2 424.9V408.7M626.9 424.9V401.9" stroke="#ff0000" stroke-width="1.35" fill="none"/><path d="M588.7 424.9V388.0M618.7 424.9V414.9M795.3 424.9V405.4" stroke="#0000ff" stroke-width="1.35" fill="none"/><path d="M670.8 424.9V415.0M815.8 424.9V408.1" stroke="#ff0000" stroke-width="1.35" fill="none"/><path d="M164.5 424.9V402.6" stroke="#0000ff" stroke-width="1.35" fill="none"/><path d="M723.5 424.9V410.3" stroke="#ff0000" stroke-width="1.35" fill="none"/><path d="M393.0 424.9V416.4M737.9 424.9V422.4M781.3 424.9V401.9M327.6 424.9V414.5M383.5 424.9V417.1" stroke="#0000ff" stroke-width="1.35" fill="none"/><path d="M773.2 424.9V415.5" stroke="#ff0000" stroke-width="1.35" fill="none"/><path d="M747.4 424.9V387.0M391.0 424.9V414.5" stroke="#0000ff" stroke-width="1.35" fill="none"/><path d="M710.6 424.9V410.3" stroke="#ff0000" stroke-width="1.35" fill="none"/><path d="M617.2 424.9V389.4M531.2 424.9V400.3M710.3 424.9V406.2M545.4 424.9V415.7" stroke="#0000ff" stroke-width="1.35" fill="none"/><path d="M269.5 424.9V412.4" stroke="#ff0000" stroke-width="1.35" fill="none"/><path d="M905.3 424.9V420.3" stroke="#0000ff" stroke-width="1.35" fill="none"/><path d="M741.2 424.9V423.0M862.3 424.9V404.3M397.0 424.9V396.3M638.5 424.9V407.4" stroke="#ff0000" stroke-width="1.35" fill="none"/><path d="M819.0 424.9V406.8" stroke="#0000ff" stroke-width="1.35" fill="none"/><path d="M745.5 424.9V406.0" stroke="#ff0000" stroke-width="1.35" fill="none"/><path d="M864.0 424.9V408.0M693.3 424.9V415.5" stroke="#0000ff" stroke-width="1.35" fill="none"/><path d="M622.8 424.9V413.9M761.0 424.9V414.6" stroke="#ff0000" stroke-width="1.35" fill="none"/><path d="M767.3 424.9V414.7M230.6 424.9V414.1M276.9 424.9V408.5M387.3 424.9V416.3" stroke="#0000ff" stroke-width="1.35" fill="none"/><path d="M693.6 424.9V415.0" stroke="#ff0000" stroke-width="1.35" fill="none"/><path d="M257.7 424.9V415.6M800.0 424.9V367.0M280.2 424.9V414.1" stroke="#0000ff" stroke-width="1.35" fill="none"/><path d="M768.9 424.9V414.3" stroke="#ff0000" stroke-width="1.35" fill="none"/><path d="M577.0 424.9V412.7" stroke="#0000ff" stroke-width="1.35" fill="none"/><path d="M681.0 424.9V412.7" stroke="#ff0000" stroke-width="1.35" fill="none"/><path d="M284.1 424.9V412.8M468.7 424.9V407.6M619.9 424.9V366.7" stroke="#0000ff" stroke-width="1.35" fill="none"/><path d="M587.5 424.9V411.8" stroke="#ff0000" stroke-width="1.35" fill="none"/><path d="M854.4 424.9V411.8M173.4 424.9V415.5M427.9 424.9V419.8M850.1 424.9V415.2M673.0 424.9V407.0" stroke="#0000ff" stroke-width="1.35" fill="none"/><path d="M682.4 424.9V416.0M506.8 424.9V404.9" stroke="#ff0000" stroke-width="1.35" fill="none"/><path d="M851.2 424.9V394.5" stroke="#0000ff" stroke-width="1.35" fill="none"/><path d="M492.3 424.9V416.2" stroke="#ff0000" stroke-width="1.35" fill="none"/><path d="M310.6 424.9V415.4M683.8 424.9V401.3M563.0 424.9V416.2M858.9 424.9V415.5M635.6 424.9V368.8" stroke="#0000ff" stroke-width="1.35" fill="none"/><path d="M442.1 424.9V417.2" stroke="#ff0000" stroke-width="1.35" fill="none"/><path d="M467.5 424.9V406.0" stroke="#0000ff" stroke-width="1.35" fill="none"/><path d="M688.8 424.9V412.3" stroke="#ff0000" stroke-width="1.35" fill="none"/><path d="M437.8 424.9V421.6" stroke="#0000ff" stroke-width="1.35" fill="none"/><path d="M790.1 424.9V415.3" stroke="#ff0000" stroke-width="1.35" fill="none"/><path d="M793.8 424.9V409.8" stroke="#0000ff" stroke-width="1.35" fill="none"/><path d="M684.8 424.9V397.8M678.8 424.9V409.7" stroke="#ff0000" stroke-width="1.35" fill="none"/><path d="M665.9 424.9V408.2M343.6 424.9V408.3" stroke="#0000ff" stroke-width="1.35" fill="none"/><path d="M725.1 424.9V413.9" stroke="#ff0000" stroke-width="1.35" fill="none"/><path d="M695.6 424.9V409.4M244.7 424.9V398.4" stroke="#0000ff" stroke-width="1.35" fill="none"/><path d="M214.8 424.9V408.8M629.2 424.9V416.2M756.8 424.9V413.5M752.0 424.9V410.4M862.7 424.9V414.5" stroke="#ff0000" stroke-width="1.35" fill="none"/><path d="M612.3 424.9V410.2M856.5 424.9V408.6M518.9 424.9V416.0M302.7 424.9V416.2M629.0 424.9V391.6M891.1 424.9V416.2" stroke="#0000ff" stroke-width="1.35" fill="none"/><path d="M724.6 424.9V405.4M614.0 424.9V407.5" stroke="#ff0000" stroke-width="1.35" fill="none"/><path d="M283.1 424.9V392.4M647.5 424.9V416.2M183.4 424.9V417.7" stroke="#0000ff" stroke-width="1.35" fill="none"/><path d="M425.5 424.9V418.0" stroke="#ff0000" stroke-width="1.35" fill="none"/><path d="M860.7 424.9V412.9" stroke="#0000ff" stroke-width="1.35" fill="none"/><path d="M148.1 424.9V418.1M373.2 424.9V415.6M454.8 424.9V419.6M337.5 424.9V412.4" stroke="#ff0000" stroke-width="1.35" fill="none"/><path d="M311.8 424.9V383.5" stroke="#0000ff" stroke-width="1.35" fill="none"/><path d="M615.8 424.9V408.8" stroke="#ff0000" stroke-width="1.35" fill="none"/><path d="M394.9 424.9V410.5M654.2 424.9V367.0M317.7 424.9V402.9M691.6 424.9V413.4" stroke="#0000ff" stroke-width="1.35" fill="none"/><path d="M362.7 424.9V416.7" stroke="#ff0000" stroke-width="1.35" fill="none"/><path d="M623.1 424.9V404.9M674.6 424.9V415.3" stroke="#0000ff" stroke-width="1.35" fill="none"/><path d="M177.4 424.9V415.7" stroke="#ff0000" stroke-width="1.35" fill="none"/><path d="M632.2 424.9V414.1M872.8 424.9V410.8M650.1 424.9V407.6" stroke="#0000ff" stroke-width="1.35" fill="none"/><path d="M753.3 424.9V415.4M295.9 424.9V406.4" stroke="#ff0000" stroke-width="1.35" fill="none"/><path d="M566.3 424.9V414.5M865.3 424.9V414.9M379.2 424.9V412.6M803.2 424.9V412.5M823.4 424.9V412.5M322.6 424.9V410.1M802.8 424.9V413.7" stroke="#0000ff" stroke-width="1.35" fill="none"/><path d="M367.3 424.9V416.3" stroke="#ff0000" stroke-width="1.35" fill="none"/><path d="M160.7 424.9V409.6" stroke="#0000ff" stroke-width="1.35" fill="none"/><path d="M495.3 424.9V415.3" stroke="#ff0000" stroke-width="1.35" fill="none"/><path d="M688.6 424.9V409.0M739.9 424.9V410.2M480.7 424.9V407.3M502.1 424.9V418.4M775.6 424.9V412.4" stroke="#0000ff" stroke-width="1.35" fill="none"/><path d="M635.2 424.9V408.7" stroke="#ff0000" stroke-width="1.35" fill="none"/><path d="M548.1 424.9V414.4" stroke="#0000ff" stroke-width="1.35" fill="none"/><path d="M361.8 424.9V385.1M803.7 424.9V402.0M907.7 424.9V422.9" stroke="#ff0000" stroke-width="1.35" fill="none"/><path d="M908.6 424.9V421.6M731.7 424.9V415.9" stroke="#0000ff" stroke-width="1.35" fill="none"/><path d="M349.8 424.9V415.5" stroke="#ff0000" stroke-width="1.35" fill="none"/><path d="M357.2 424.9V413.5M541.4 424.9V417.1M389.5 424.9V414.5" stroke="#0000ff" stroke-width="1.35" fill="none"/><path d="M502.3 424.9V414.7" stroke="#ff0000" stroke-width="1.35" fill="none"/><path d="M785.7 424.9V396.1M252.6 424.9V403.4" stroke="#0000ff" stroke-width="1.35" fill="none"/><path d="M378.7 424.9V368.5" stroke="#ff0000" stroke-width="1.35" fill="none"/><path d="M539.2 424.9V412.7M359.2 424.9V416.4" stroke="#0000ff" stroke-width="1.35" fill="none"/><path d="M722.0 424.9V411.2" stroke="#ff0000" stroke-width="1.35" fill="none"/><path d="M662.4 424.9V409.5M429.9 424.9V421.9M664.9 424.9V409.4" stroke="#0000ff" stroke-width="1.35" fill="none"/><path d="M249.6 424.9V397.5M888.9 424.9V416.1" stroke="#ff0000" stroke-width="1.35" fill="none"/><path d="M528.2 424.9V414.9M889.1 424.9V406.1" stroke="#0000ff" stroke-width="1.35" fill="none"/><path d="M160.8 424.9V418.0" stroke="#ff0000" stroke-width="1.35" fill="none"/><path d="M464.8 424.9V403.8M549.4 424.9V394.8M506.5 424.9V416.0" stroke="#0000ff" stroke-width="1.35" fill="none"/><path d="M487.1 424.9V406.2M657.9 424.9V412.2" stroke="#ff0000" stroke-width="1.35" fill="none"/><path d="M222.1 424.9V416.6" stroke="#0000ff" stroke-width="1.35" fill="none"/><path d="M493.2 424.9V416.1M568.1 424.9V409.5M884.1 424.9V415.2M851.1 424.9V407.8M803.9 424.9V403.5M427.7 424.9V421.3" stroke="#ff0000" stroke-width="1.35" fill="none"/><path d="M340.8 424.9V413.7" stroke="#0000ff" stroke-width="1.35" fill="none"/><path d="M645.4 424.9V414.1" stroke="#ff0000" stroke-width="1.35" fill="none"/><path d="M329.7 424.9V413.4M313.6 424.9V413.0" stroke="#0000ff" stroke-width="1.35" fill="none"/><path d="M743.4 424.9V420.7" stroke="#ff0000" stroke-width="1.35" fill="none"/><path d="M354.2 424.9V413.6M440.1 424.9V421.5M261.8 424.9V408.8M533.8 424.9V417.7" stroke="#0000ff" stroke-width="1.35" fill="none"/><path d="M191.9 424.9V417.4" stroke="#ff0000" stroke-width="1.35" fill="none"/><path d="M633.8 424.9V415.7" stroke="#0000ff" stroke-width="1.35" fill="none"/><path d="M753.0 424.9V397.4M784.3 424.9V405.1M428.1 424.9V421.5" stroke="#ff0000" stroke-width="1.35" fill="none"/><path d="M433.0 424.9V421.2" stroke="#0000ff" stroke-width="1.35" fill="none"/><path d="M858.7 424.9V410.7M889.6 424.9V413.3M668.6 424.9V416.1" stroke="#ff0000" stroke-width="1.35" fill="none"/><path d="M746.0 424.9V408.1M410.3 424.9V416.7" stroke="#0000ff" stroke-width="1.35" fill="none"/><path d="M441.5 424.9V420.0" stroke="#ff0000" stroke-width="1.35" fill="none"/><path d="M171.6 424.9V415.4M251.3 424.9V368.9" stroke="#0000ff" stroke-width="1.35" fill="none"/><path d="M825.4 424.9V400.7" stroke="#ff0000" stroke-width="1.35" fill="none"/><path d="M825.0 424.9V411.7" stroke="#0000ff" stroke-width="1.35" fill="none"/><path d="M474.1 424.9V402.1M302.6 424.9V414.1M829.7 424.9V410.0M494.2 424.9V419.2M822.3 424.9V413.2M666.9 424.9V414.3M177.9 424.9V417.5" stroke="#ff0000" stroke-width="1.35" fill="none"/><path d="M338.7 424.9V414.0" stroke="#0000ff" stroke-width="1.35" fill="none"/><path d="M739.3 424.9V420.6M704.6 424.9V403.3M760.6 424.9V415.7M817.9 424.9V415.5" stroke="#ff0000" stroke-width="1.35" fill="none"/><path d="M391.6 424.9V394.8" stroke="#0000ff" stroke-width="1.35" fill="none"/><path d="M246.0 424.9V415.6M896.0 424.9V415.1" stroke="#ff0000" stroke-width="1.35" fill="none"/><path d="M495.5 424.9V408.3" stroke="#0000ff" stroke-width="1.35" fill="none"/><path d="M843.2 424.9V415.5M537.9 424.9V411.0" stroke="#ff0000" stroke-width="1.35" fill="none"/><path d="M406.9 424.9V401.1M211.0 424.9V412.2M464.8 424.9V415.3" stroke="#0000ff" stroke-width="1.35" fill="none"/><path d="M477.6 424.9V408.7" stroke="#ff0000" stroke-width="1.35" fill="none"/><path d="M644.3 424.9V413.9" stroke="#0000ff" stroke-width="1.35" fill="none"/><path d="M699.4 424.9V415.1M619.9 424.9V416.1M581.2 424.9V415.1" stroke="#ff0000" stroke-width="1.35" fill="none"/><path d="M631.2 424.9V413.1" stroke="#0000ff" stroke-width="1.35" fill="none"/><path d="M222.5 424.9V407.9" stroke="#ff0000" stroke-width="1.35" fill="none"/><path d="M752.2 424.9V387.2" stroke="#0000ff" stroke-width="1.35" fill="none"/><path d="M545.8 424.9V385.0M189.8 424.9V408.6" stroke="#ff0000" stroke-width="1.35" fill="none"/><path d="M855.3 424.9V392.3M896.4 424.9V385.1" stroke="#0000ff" stroke-width="1.35" fill="none"/><path d="M834.1 424.9V415.2" stroke="#ff0000" stroke-width="1.35" fill="none"/><path d="M351.9 424.9V411.3M746.6 424.9V385.0" stroke="#0000ff" stroke-width="1.35" fill="none"/><path d="M622.7 424.9V405.2M813.6 424.9V383.0M660.8 424.9V413.2M638.8 424.9V407.3" stroke="#ff0000" stroke-width="1.35" fill="none"/><path d="M698.4 424.9V412.8" stroke="#0000ff" stroke-width="1.35" fill="none"/><path d="M762.8 424.9V409.3" stroke="#ff0000" stroke-width="1.35" fill="none"/><path d="M632.4 424.9V412.3" stroke="#0000ff" stroke-width="1.35" fill="none"/><path d="M651.7 424.9V410.7" stroke="#ff0000" stroke-width="1.35" fill="none"/><path d="M841.4 424.9V396.0" stroke="#0000ff" stroke-width="1.35" fill="none"/><path d="M579.1 424.9V414.3" stroke="#ff0000" stroke-width="1.35" fill="none"/><path d="M427.7 424.9V419.7M240.8 424.9V415.9" stroke="#0000ff" stroke-width="1.35" fill="none"/><path d="M681.1 424.9V413.9M315.8 424.9V414.3M366.2 424.9V409.3" stroke="#ff0000" stroke-width="1.35" fill="none"/><path d="M902.9 424.9V416.0" stroke="#0000ff" stroke-width="1.35" fill="none"/><path d="M532.6 424.9V391.3M592.3 424.9V412.0M177.2 424.9V413.9M653.3 424.9V415.4M601.9 424.9V414.9" stroke="#ff0000" stroke-width="1.35" fill="none"/><path d="M643.2 424.9V414.1" stroke="#0000ff" stroke-width="1.35" fill="none"/><path d="M581.0 424.9V412.3M432.2 424.9V422.0M567.7 424.9V413.9" stroke="#ff0000" stroke-width="1.35" fill="none"/><path d="M769.0 424.9V411.5" stroke="#0000ff" stroke-width="1.35" fill="none"/><path d="M743.7 424.9V416.9" stroke="#ff0000" stroke-width="1.35" fill="none"/><path d="M173.8 424.9V415.7M806.1 424.9V410.6M331.9 424.9V404.3M553.6 424.9V407.9M456.0 424.9V420.8" stroke="#0000ff" stroke-width="1.35" fill="none"/><path d="M884.2 424.9V415.8M459.9 424.9V420.9" stroke="#ff0000" stroke-width="1.35" fill="none"/><path d="M236.3 424.9V387.5" stroke="#0000ff" stroke-width="1.35" fill="none"/><path d="M482.8 424.9V407.9M876.2 424.9V409.8M659.3 424.9V397.9M861.0 424.9V411.4M689.3 424.9V392.6" stroke="#ff0000" stroke-width="1.35" fill="none"/><path d="M141.5 424.9V406.8M855.6 424.9V412.4" stroke="#0000ff" stroke-width="1.35" fill="none"/><path d="M426.6 424.9V421.8" stroke="#ff0000" stroke-width="1.35" fill="none"/><path d="M370.8 424.9V403.7M810.8 424.9V408.9M885.3 424.9V388.3M201.1 424.9V410.4M208.2 424.9V395.5" stroke="#0000ff" stroke-width="1.35" fill="none"/><path d="M687.2 424.9V413.4M807.5 424.9V411.1M558.4 424.9V415.5M716.1 424.9V411.5M640.2 424.9V414.6" stroke="#ff0000" stroke-width="1.35" fill="none"/><path d="M689.6 424.9V395.1M373.5 424.9V414.3M380.1 424.9V414.1M600.5 424.9V412.5" stroke="#0000ff" stroke-width="1.35" fill="none"/><path d="M848.6 424.9V379.3M470.9 424.9V410.3M639.8 424.9V416.1" stroke="#ff0000" stroke-width="1.35" fill="none"/><path d="M748.4 424.9V404.4" stroke="#0000ff" stroke-width="1.35" fill="none"/><path d="M391.1 424.9V413.0M443.5 424.9V421.0M516.2 424.9V418.1" stroke="#ff0000" stroke-width="1.35" fill="none"/><path d="M297.5 424.9V416.1" stroke="#0000ff" stroke-width="1.35" fill="none"/><path d="M732.8 424.9V415.9" stroke="#ff0000" stroke-width="1.35" fill="none"/><path d="M397.4 424.9V402.1" stroke="#0000ff" stroke-width="1.35" fill="none"/><path d="M148.4 424.9V415.5M692.9 424.9V415.2M304.0 424.9V415.6M306.3 424.9V407.2" stroke="#ff0000" stroke-width="1.35" fill="none"/><path d="M769.1 424.9V411.1M815.2 424.9V406.5" stroke="#0000ff" stroke-width="1.35" fill="none"/><path d="M874.5 424.9V413.9M671.7 424.9V399.2" stroke="#ff0000" stroke-width="1.35" fill="none"/><path d="M704.1 424.9V412.6" stroke="#0000ff" stroke-width="1.35" fill="none"/><path d="M577.3 424.9V410.9M263.6 424.9V392.6" stroke="#ff0000" stroke-width="1.35" fill="none"/><path d="M490.0 424.9V417.8M272.1 424.9V414.0" stroke="#0000ff" stroke-width="1.35" fill="none"/><path d="M555.5 424.9V412.6M140.1 424.9V418.5M785.8 424.9V396.5" stroke="#ff0000" stroke-width="1.35" fill="none"/><path d="M244.3 424.9V416.1" stroke="#0000ff" stroke-width="1.35" fill="none"/><path d="M558.1 424.9V413.2" stroke="#ff0000" stroke-width="1.35" fill="none"/><path d="M334.7 424.9V413.8M326.4 424.9V414.4M271.5 424.9V397.1" stroke="#0000ff" stroke-width="1.35" fill="none"/><path d="M646.2 424.9V414.7" stroke="#ff0000" stroke-width="1.35" fill="none"/><path d="M142.2 424.9V413.2M221.0 424.9V388.1M392.3 424.9V412.6" stroke="#0000ff" stroke-width="1.35" fill="none"/><path d="M220.9 424.9V399.9" stroke="#ff0000" stroke-width="1.35" fill="none"/><path d="M149.2 424.9V414.7" stroke="#0000ff" stroke-width="1.35" fill="none"/><path d="M571.4 424.9V403.0" stroke="#ff0000" stroke-width="1.35" fill="none"/><path d="M206.6 424.9V406.7" stroke="#0000ff" stroke-width="1.35" fill="none"/><path d="M466.4 424.9V409.3M475.3 424.9V400.6" stroke="#ff0000" stroke-width="1.35" fill="none"/><path d="M715.3 424.9V412.9" stroke="#0000ff" stroke-width="1.35" fill="none"/><path d="M727.3 424.9V415.1M196.5 424.9V415.8M655.4 424.9V407.8" stroke="#ff0000" stroke-width="1.35" fill="none"/><path d="M812.2 424.9V397.7M544.4 424.9V414.6" stroke="#0000ff" stroke-width="1.35" fill="none"/><path d="M726.9 424.9V415.0" stroke="#ff0000" stroke-width="1.35" fill="none"/><path d="M641.6 424.9V410.5M514.4 424.9V409.2" stroke="#0000ff" stroke-width="1.35" fill="none"/><path d="M666.2 424.9V414.6" stroke="#ff0000" stroke-width="1.35" fill="none"/><path d="M862.3 424.9V414.0" stroke="#0000ff" stroke-width="1.35" fill="none"/><path d="M420.7 424.9V415.3" stroke="#ff0000" stroke-width="1.35" fill="none"/><path d="M540.8 424.9V415.7M813.9 424.9V410.3M438.5 424.9V416.5" stroke="#0000ff" stroke-width="1.35" fill="none"/><path d="M434.8 424.9V419.1M465.4 424.9V410.8M479.7 424.9V395.1" stroke="#ff0000" stroke-width="1.35" fill="none"/><path d="M434.2 424.9V420.3M601.8 424.9V410.6M603.7 424.9V414.6" stroke="#0000ff" stroke-width="1.35" fill="none"/><path d="M293.4 424.9V363.4" stroke="#ff0000" stroke-width="1.35" fill="none"/><path d="M385.3 424.9V413.8" stroke="#0000ff" stroke-width="1.35" fill="none"/><path d="M654.4 424.9V404.3" stroke="#ff0000" stroke-width="1.35" fill="none"/><path d="M362.1 424.9V414.9M448.0 424.9V415.0M199.2 424.9V417.3M615.7 424.9V381.1M409.5 424.9V416.5" stroke="#0000ff" stroke-width="1.35" fill="none"/><path d="M597.8 424.9V415.6" stroke="#ff0000" stroke-width="1.35" fill="none"/><path d="M314.7 424.9V395.7M607.6 424.9V409.0M486.2 424.9V403.0M895.9 424.9V411.4M492.0 424.9V417.6" stroke="#0000ff" stroke-width="1.35" fill="none"/><path d="M862.4 424.9V403.3M850.6 424.9V415.5" stroke="#ff0000" stroke-width="1.35" fill="none"/><path d="M542.8 424.9V417.3M910.2 424.9V421.4M267.2 424.9V416.4M176.0 424.9V416.4M659.8 424.9V398.4M227.9 424.9V413.4" stroke="#0000ff" stroke-width="1.35" fill="none"/><path d="M188.1 424.9V415.1M635.9 424.9V415.8M457.3 424.9V421.9" stroke="#ff0000" stroke-width="1.35" fill="none"/><path d="M700.5 424.9V404.0" stroke="#0000ff" stroke-width="1.35" fill="none"/><path d="M238.5 424.9V415.5" stroke="#ff0000" stroke-width="1.35" fill="none"/><path d="M668.7 424.9V402.5M217.5 424.9V415.9M533.5 424.9V413.8" stroke="#0000ff" stroke-width="1.35" fill="none"/><path d="M857.2 424.9V399.9" stroke="#ff0000" stroke-width="1.35" fill="none"/><path d="M698.8 424.9V384.9M536.4 424.9V415.3" stroke="#0000ff" stroke-width="1.35" fill="none"/><path d="M485.3 424.9V406.1M875.5 424.9V414.2" stroke="#ff0000" stroke-width="1.35" fill="none"/><path d="M454.9 424.9V418.4M749.3 424.9V412.7" stroke="#0000ff" stroke-width="1.35" fill="none"/><path d="M738.5 424.9V422.8" stroke="#ff0000" stroke-width="1.35" fill="none"/><path d="M483.4 424.9V382.7" stroke="#0000ff" stroke-width="1.35" fill="none"/><path d="M345.7 424.9V417.1M746.8 424.9V406.9M750.2 424.9V410.8M708.2 424.9V412.1" stroke="#ff0000" stroke-width="1.35" fill="none"/><path d="M690.4 424.9V401.5" stroke="#0000ff" stroke-width="1.35" fill="none"/><path d="M650.7 424.9V412.5" stroke="#ff0000" stroke-width="1.35" fill="none"/><path d="M714.5 424.9V415.0M696.9 424.9V409.1M493.3 424.9V410.3M882.0 424.9V403.9M773.4 424.9V411.7M488.6 424.9V409.0" stroke="#0000ff" stroke-width="1.35" fill="none"/><path d="M471.6 424.9V409.9M787.0 424.9V411.4" stroke="#ff0000" stroke-width="1.35" fill="none"/><path d="M370.7 424.9V409.0M741.7 424.9V412.0" stroke="#0000ff" stroke-width="1.35" fill="none"/><path d="M319.5 424.9V394.1" stroke="#ff0000" stroke-width="1.35" fill="none"/><path d="M223.1 424.9V406.9M829.5 424.9V406.4" stroke="#0000ff" stroke-width="1.35" fill="none"/><path d="M784.7 424.9V411.0M563.5 424.9V413.8M139.9 424.9V417.0" stroke="#ff0000" stroke-width="1.35" fill="none"/><path d="M825.9 424.9V404.9" stroke="#0000ff" stroke-width="1.35" fill="none"/><path d="M872.5 424.9V405.3" stroke="#ff0000" stroke-width="1.35" fill="none"/><path d="M543.9 424.9V410.9M379.6 424.9V409.9M789.3 424.9V409.9M234.3 424.9V393.8M732.4 424.9V413.6M152.2 424.9V413.2" stroke="#0000ff" stroke-width="1.35" fill="none"/><path d="M849.4 424.9V399.7" stroke="#ff0000" stroke-width="1.35" fill="none"/><path d="M262.3 424.9V414.2M629.8 424.9V414.2" stroke="#0000ff" stroke-width="1.35" fill="none"/><path d="M252.8 424.9V416.2" stroke="#ff0000" stroke-width="1.35" fill="none"/><path d="M565.9 424.9V400.1" stroke="#0000ff" stroke-width="1.35" fill="none"/><path d="M142.9 424.9V417.7M591.6 424.9V413.8" stroke="#ff0000" stroke-width="1.35" fill="none"/><path d="M208.5 424.9V412.2" stroke="#0000ff" stroke-width="1.35" fill="none"/><path d="M157.1 424.9V415.9M495.8 424.9V418.5" stroke="#ff0000" stroke-width="1.35" fill="none"/><path d="M487.7 424.9V399.3" stroke="#0000ff" stroke-width="1.35" fill="none"/><path d="M433.6 424.9V419.7" stroke="#ff0000" stroke-width="1.35" fill="none"/><path d="M892.9 424.9V387.1" stroke="#0000ff" stroke-width="1.35" fill="none"/><path d="M618.1 424.9V414.6" stroke="#ff0000" stroke-width="1.35" fill="none"/><path d="M412.5 424.9V415.8M459.2 424.9V411.4M614.5 424.9V413.6M696.0 424.9V400.6M175.7 424.9V416.4" stroke="#0000ff" stroke-width="1.35" fill="none"/><path d="M283.2 424.9V409.1M600.7 424.9V412.8" stroke="#ff0000" stroke-width="1.35" fill="none"/><path d="M860.8 424.9V412.1" stroke="#0000ff" stroke-width="1.35" fill="none"/><path d="M795.5 424.9V412.0M587.2 424.9V413.0M828.9 424.9V414.8" stroke="#ff0000" stroke-width="1.35" fill="none"/><path d="M675.5 424.9V387.1" stroke="#0000ff" stroke-width="1.35" fill="none"/><path d="M538.5 424.9V418.0M708.5 424.9V415.7" stroke="#ff0000" stroke-width="1.35" fill="none"/><path d="M804.1 424.9V411.0M153.1 424.9V405.6M445.3 424.9V418.4M681.8 424.9V415.1M650.9 424.9V412.7" stroke="#0000ff" stroke-width="1.35" fill="none"/><path d="M467.0 424.9V409.6M827.8 424.9V407.3" stroke="#ff0000" stroke-width="1.35" fill="none"/><path d="M143.6 424.9V414.5M345.0 424.9V397.8M798.2 424.9V413.1" stroke="#0000ff" stroke-width="1.35" fill="none"/><path d="M505.1 424.9V418.5" stroke="#ff0000" stroke-width="1.35" fill="none"/><path d="M700.2 424.9V392.1M472.2 424.9V411.7M562.0 424.9V386.0" stroke="#0000ff" stroke-width="1.35" fill="none"/><path d="M854.5 424.9V415.2" stroke="#ff0000" stroke-width="1.35" fill="none"/><path d="M346.0 424.9V415.4" stroke="#0000ff" stroke-width="1.35" fill="none"/><path d="M749.6 424.9V409.6" stroke="#ff0000" stroke-width="1.35" fill="none"/><path d="M677.3 424.9V414.8M166.1 424.9V413.0M581.4 424.9V409.8" stroke="#0000ff" stroke-width="1.35" fill="none"/><path d="M672.5 424.9V404.5M176.0 424.9V402.8" stroke="#ff0000" stroke-width="1.35" fill="none"/><path d="M907.0 424.9V421.9" stroke="#0000ff" stroke-width="1.35" fill="none"/><path d="M551.6 424.9V407.1" stroke="#ff0000" stroke-width="1.35" fill="none"/><path d="M140.6 424.9V413.8" stroke="#0000ff" stroke-width="1.35" fill="none"/><path d="M618.0 424.9V416.2M612.6 424.9V413.2M777.6 424.9V414.8M785.5 424.9V406.2" stroke="#ff0000" stroke-width="1.35" fill="none"/><path d="M899.5 424.9V405.9M452.5 424.9V421.8" stroke="#0000ff" stroke-width="1.35" fill="none"/><path d="M211.5 424.9V372.2M823.8 424.9V409.4" stroke="#ff0000" stroke-width="1.35" fill="none"/><path d="M720.4 424.9V406.6" stroke="#0000ff" stroke-width="1.35" fill="none"/><path d="M869.5 424.9V415.4" stroke="#ff0000" stroke-width="1.35" fill="none"/><path d="M371.9 424.9V399.7M347.2 424.9V416.2M586.2 424.9V414.3" stroke="#0000ff" stroke-width="1.35" fill="none"/><path d="M645.0 424.9V415.2M866.7 424.9V414.3M539.3 424.9V410.6M595.7 424.9V409.1" stroke="#ff0000" stroke-width="1.35" fill="none"/><path d="M873.6 424.9V403.5" stroke="#0000ff" stroke-width="1.35" fill="none"/><path d="M850.4 424.9V383.1" stroke="#ff0000" stroke-width="1.35" fill="none"/><path d="M367.1 424.9V409.8" stroke="#0000ff" stroke-width="1.35" fill="none"/><path d="M783.5 424.9V414.3" stroke="#ff0000" stroke-width="1.35" fill="none"/><path d="M860.7 424.9V411.5M302.7 424.9V407.8M236.5 424.9V415.9M432.9 424.9V408.7" stroke="#0000ff" stroke-width="1.35" fill="none"/><path d="M854.9 424.9V414.6M729.6 424.9V412.4" stroke="#ff0000" stroke-width="1.35" fill="none"/><path d="M647.4 424.9V413.5" stroke="#0000ff" stroke-width="1.35" fill="none"/><path d="M572.6 424.9V416.0" stroke="#ff0000" stroke-width="1.35" fill="none"/><path d="M279.3 424.9V402.8M524.7 424.9V418.2" stroke="#0000ff" stroke-width="1.35" fill="none"/><path d="M691.0 424.9V407.1M622.5 424.9V405.7" stroke="#ff0000" stroke-width="1.35" fill="none"/><path d="M560.8 424.9V402.0" stroke="#0000ff" stroke-width="1.35" fill="none"/><path d="M224.2 424.9V416.1M518.7 424.9V417.9M735.6 424.9V399.1" stroke="#ff0000" stroke-width="1.35" fill="none"/><path d="M214.5 424.9V416.7M246.7 424.9V413.9M847.7 424.9V406.0" stroke="#0000ff" stroke-width="1.35" fill="none"/><path d="M602.2 424.9V416.5" stroke="#ff0000" stroke-width="1.35" fill="none"/><path d="M237.8 424.9V414.9" stroke="#0000ff" stroke-width="1.35" fill="none"/><path d="M242.6 424.9V403.5" stroke="#ff0000" stroke-width="1.35" fill="none"/><path d="M687.6 424.9V405.8M821.3 424.9V408.3M528.3 424.9V396.4" stroke="#0000ff" stroke-width="1.35" fill="none"/><path d="M775.6 424.9V414.8M300.6 424.9V411.8" stroke="#ff0000" stroke-width="1.35" fill="none"/><path d="M868.4 424.9V403.4" stroke="#0000ff" stroke-width="1.35" fill="none"/><path d="M550.2 424.9V417.0" stroke="#ff0000" stroke-width="1.35" fill="none"/><path d="M305.1 424.9V415.7M624.7 424.9V405.5" stroke="#0000ff" stroke-width="1.35" fill="none"/><path d="M462.3 424.9V421.3M584.6 424.9V378.4" stroke="#ff0000" stroke-width="1.35" fill="none"/><path d="M470.9 424.9V380.7" stroke="#0000ff" stroke-width="1.35" fill="none"/><path d="M254.4 424.9V414.5" stroke="#ff0000" stroke-width="1.35" fill="none"/><path d="M588.6 424.9V412.6M240.7 424.9V413.1" stroke="#0000ff" stroke-width="1.35" fill="none"/><path d="M366.9 424.9V409.6" stroke="#ff0000" stroke-width="1.35" fill="none"/><path d="M373.7 424.9V416.4M249.3 424.9V403.7M374.4 424.9V415.7M719.1 424.9V405.0" stroke="#0000ff" stroke-width="1.35" fill="none"/><path d="M599.8 424.9V403.1M381.3 424.9V408.8M579.8 424.9V413.4" stroke="#ff0000" stroke-width="1.35" fill="none"/><path d="M200.4 424.9V413.6" stroke="#0000ff" stroke-width="1.35" fill="none"/><path d="M717.7 424.9V416.1" stroke="#ff0000" stroke-width="1.35" fill="none"/><path d="M466.3 424.9V403.6" stroke="#0000ff" stroke-width="1.35" fill="none"/><path d="M512.1 424.9V416.9M166.1 424.9V373.3M144.6 424.9V406.2M897.1 424.9V415.4" stroke="#ff0000" stroke-width="1.35" fill="none"/><path d="M591.9 424.9V391.1" stroke="#0000ff" stroke-width="1.35" fill="none"/><path d="M771.0 424.9V411.0" stroke="#ff0000" stroke-width="1.35" fill="none"/><path d="M270.2 424.9V405.1M274.5 424.9V412.9" stroke="#0000ff" stroke-width="1.35" fill="none"/><path d="M696.0 424.9V369.6" stroke="#ff0000" stroke-width="1.35" fill="none"/><path d="M232.9 424.9V404.3M336.6 424.9V416.4" stroke="#0000ff" stroke-width="1.35" fill="none"/><path d="M578.5 424.9V391.7" stroke="#ff0000" stroke-width="1.35" fill="none"/><path d="M442.5 424.9V421.4" stroke="#0000ff" stroke-width="1.35" fill="none"/><path d="M560.2 424.9V401.5" stroke="#ff0000" stroke-width="1.35" fill="none"/><path d="M557.3 424.9V393.4M328.4 424.9V407.6" stroke="#0000ff" stroke-width="1.35" fill="none"/><path d="M900.4 424.9V412.2M588.1 424.9V416.4M288.4 424.9V408.2M197.4 424.9V415.6M688.4 424.9V416.2" stroke="#ff0000" stroke-width="1.35" fill="none"/><path d="M779.4 424.9V402.1M716.7 424.9V405.5M821.7 424.9V415.3M892.0 424.9V409.3M829.1 424.9V374.9" stroke="#0000ff" stroke-width="1.35" fill="none"/><path d="M395.1 424.9V413.5" stroke="#ff0000" stroke-width="1.35" fill="none"/><path d="M624.1 424.9V409.5" stroke="#0000ff" stroke-width="1.35" fill="none"/><path d="M487.0 424.9V406.4M669.6 424.9V416.3" stroke="#ff0000" stroke-width="1.35" fill="none"/><path d="M420.5 424.9V418.0" stroke="#0000ff" stroke-width="1.35" fill="none"/><path d="M684.0 424.9V406.9M321.0 424.9V412.7M380.3 424.9V407.8M815.8 424.9V414.9M608.5 424.9V416.2M217.9 424.9V407.5" stroke="#ff0000" stroke-width="1.35" fill="none"/><path d="M286.3 424.9V391.4M863.4 424.9V414.6M495.6 424.9V418.6M818.5 424.9V412.5M684.6 424.9V414.1M212.3 424.9V417.3" stroke="#0000ff" stroke-width="1.35" fill="none"/><path d="M484.8 424.9V402.5" stroke="#ff0000" stroke-width="1.35" fill="none"/><path d="M608.4 424.9V416.4M878.2 424.9V413.7" stroke="#0000ff" stroke-width="1.35" fill="none"/><path d="M747.7 424.9V414.8" stroke="#ff0000" stroke-width="1.35" fill="none"/><path d="M199.2 424.9V410.2M188.9 424.9V414.6M515.6 424.9V412.9M155.5 424.9V388.7M398.9 424.9V412.5" stroke="#0000ff" stroke-width="1.35" fill="none"/><path d="M789.4 424.9V397.7" stroke="#ff0000" stroke-width="1.35" fill="none"/><path d="M164.4 424.9V401.0" stroke="#0000ff" stroke-width="1.35" fill="none"/><path d="M565.0 424.9V412.6M801.9 424.9V413.4M783.3 424.9V405.6M401.4 424.9V410.0" stroke="#ff0000" stroke-width="1.35" fill="none"/><path d="M529.8 424.9V417.8M707.8 424.9V396.5M212.9 424.9V417.3" stroke="#0000ff" stroke-width="1.35" fill="none"/><path d="M508.4 424.9V399.1" stroke="#ff0000" stroke-width="1.35" fill="none"/><path d="M713.6 424.9V415.4M409.4 424.9V411.2M684.9 424.9V414.4" stroke="#0000ff" stroke-width="1.35" fill="none"/><path d="M215.7 424.9V410.9" stroke="#ff0000" stroke-width="1.35" fill="none"/><path d="M164.9 424.9V412.2" stroke="#0000ff" stroke-width="1.35" fill="none"/><path d="M686.4 424.9V415.9" stroke="#ff0000" stroke-width="1.35" fill="none"/><path d="M397.9 424.9V416.1M478.6 424.9V388.3M908.0 424.9V407.6M863.7 424.9V414.6" stroke="#0000ff" stroke-width="1.35" fill="none"/><path d="M557.0 424.9V414.3" stroke="#ff0000" stroke-width="1.35" fill="none"/><path d="M832.4 424.9V400.8M521.7 424.9V417.2M140.9 424.9V405.7" stroke="#0000ff" stroke-width="1.35" fill="none"/><path d="M245.3 424.9V416.8M652.5 424.9V405.6" stroke="#ff0000" stroke-width="1.35" fill="none"/><path d="M364.0 424.9V415.0" stroke="#0000ff" stroke-width="1.35" fill="none"/><path d="M459.9 424.9V419.4M694.7 424.9V415.8M610.9 424.9V416.4" stroke="#ff0000" stroke-width="1.35" fill="none"/><path d="M202.9 424.9V413.4M162.2 424.9V413.2M319.4 424.9V408.8M284.4 424.9V399.9" stroke="#0000ff" stroke-width="1.35" fill="none"/><path d="M796.1 424.9V407.3" stroke="#ff0000" stroke-width="1.35" fill="none"/><path d="M476.6 424.9V383.2M477.6 424.9V401.5M894.2 424.9V412.3M253.9 424.9V414.9M535.3 424.9V408.8" stroke="#0000ff" stroke-width="1.35" fill="none"/><path d="M899.1 424.9V388.3M500.6 424.9V417.2" stroke="#ff0000" stroke-width="1.35" fill="none"/><path d="M475.7 424.9V393.2M517.4 424.9V415.9M416.1 424.9V417.5M375.6 424.9V415.6" stroke="#0000ff" stroke-width="1.35" fill="none"/><path d="M778.1 424.9V378.9" stroke="#ff0000" stroke-width="1.35" fill="none"/><path d="M892.7 424.9V409.8" stroke="#0000ff" stroke-width="1.35" fill="none"/><path d="M167.2 424.9V409.7" stroke="#ff0000" stroke-width="1.35" fill="none"/><path d="M658.0 424.9V413.2" stroke="#0000ff" stroke-width="1.35" fill="none"/><path d="M833.7 424.9V414.6M469.1 424.9V410.1" stroke="#ff0000" stroke-width="1.35" fill="none"/><path d="M616.4 424.9V411.0" stroke="#0000ff" stroke-width="1.35" fill="none"/><path d="M771.4 424.9V412.6" stroke="#ff0000" stroke-width="1.35" fill="none"/><path d="M888.1 424.9V408.1" stroke="#0000ff" stroke-width="1.35" fill="none"/><path d="M734.3 424.9V416.6" stroke="#ff0000" stroke-width="1.35" fill="none"/><path d="M838.1 424.9V407.2M614.1 424.9V395.6M603.8 424.9V414.5" stroke="#0000ff" stroke-width="1.35" fill="none"/><path d="M621.1 424.9V416.5" stroke="#ff0000" stroke-width="1.35" fill="none"/><path d="M725.8 424.9V403.3M446.5 424.9V421.5" stroke="#0000ff" stroke-width="1.35" fill="none"/><path d="M536.9 424.9V416.8" stroke="#ff0000" stroke-width="1.35" fill="none"/><path d="M713.6 424.9V386.7" stroke="#0000ff" stroke-width="1.35" fill="none"/><path d="M446.6 424.9V420.8" stroke="#ff0000" stroke-width="1.35" fill="none"/><path d="M567.0 424.9V387.5" stroke="#0000ff" stroke-width="1.35" fill="none"/><path d="M799.0 424.9V414.8M838.6 424.9V415.5M432.3 424.9V421.3" stroke="#ff0000" stroke-width="1.35" fill="none"/><path d="M767.3 424.9V415.4" stroke="#0000ff" stroke-width="1.35" fill="none"/><path d="M549.1 424.9V417.1" stroke="#ff0000" stroke-width="1.35" fill="none"/><path d="M796.7 424.9V408.8M366.2 424.9V417.0M385.2 424.9V412.1" stroke="#0000ff" stroke-width="1.35" fill="none"/><path d="M365.3 424.9V402.9M383.0 424.9V399.3" stroke="#ff0000" stroke-width="1.35" fill="none"/><path d="M352.2 424.9V369.2M571.5 424.9V414.1" stroke="#0000ff" stroke-width="1.35" fill="none"/><path d="M693.7 424.9V406.3" stroke="#ff0000" stroke-width="1.35" fill="none"/><path d="M268.4 424.9V410.2" stroke="#0000ff" stroke-width="1.35" fill="none"/><path d="M492.2 424.9V417.2M660.3 424.9V414.1" stroke="#ff0000" stroke-width="1.35" fill="none"/><path d="M264.8 424.9V400.2" stroke="#0000ff" stroke-width="1.35" fill="none"/><path d="M562.1 424.9V408.6" stroke="#ff0000" stroke-width="1.35" fill="none"/><path d="M216.7 424.9V416.9M580.5 424.9V416.5M826.8 424.9V406.1M637.2 424.9V416.5M493.8 424.9V410.3" stroke="#0000ff" stroke-width="1.35" fill="none"/><path d="M758.1 424.9V405.5" stroke="#ff0000" stroke-width="1.35" fill="none"/><path d="M682.0 424.9V414.4" stroke="#0000ff" stroke-width="1.35" fill="none"/><path d="M454.0 424.9V413.1" stroke="#ff0000" stroke-width="1.35" fill="none"/><path d="M831.6 424.9V406.1M594.4 424.9V413.1" stroke="#0000ff" stroke-width="1.35" fill="none"/><path d="M888.5 424.9V405.2M689.9 424.9V415.4M594.3 424.9V408.5" stroke="#ff0000" stroke-width="1.35" fill="none"/><path d="M798.9 424.9V413.6" stroke="#0000ff" stroke-width="1.35" fill="none"/><path d="M597.4 424.9V409.9M406.1 424.9V416.5M377.1 424.9V411.9" stroke="#ff0000" stroke-width="1.35" fill="none"/><path d="M468.6 424.9V400.8" stroke="#0000ff" stroke-width="1.35" fill="none"/><path d="M548.5 424.9V415.5M863.6 424.9V409.8" stroke="#ff0000" stroke-width="1.35" fill="none"/><path d="M229.2 424.9V412.3M217.1 424.9V407.8" stroke="#0000ff" stroke-width="1.35" fill="none"/><path d="M618.9 424.9V415.7" stroke="#ff0000" stroke-width="1.35" fill="none"/><path d="M265.5 424.9V414.2" stroke="#0000ff" stroke-width="1.35" fill="none"/><path d="M644.6 424.9V415.8" stroke="#ff0000" stroke-width="1.35" fill="none"/><path d="M167.2 424.9V415.0" stroke="#0000ff" stroke-width="1.35" fill="none"/><path d="M719.3 424.9V415.6M519.9 424.9V418.2M546.5 424.9V416.7" stroke="#ff0000" stroke-width="1.35" fill="none"/><path d="M627.8 424.9V415.5" stroke="#0000ff" stroke-width="1.35" fill="none"/><path d="M484.4 424.9V411.6" stroke="#ff0000" stroke-width="1.35" fill="none"/><path d="M148.5 424.9V416.0" stroke="#0000ff" stroke-width="1.35" fill="none"/><path d="M819.6 424.9V411.0M702.2 424.9V404.8" stroke="#ff0000" stroke-width="1.35" fill="none"/><path d="M704.1 424.9V406.6" stroke="#0000ff" stroke-width="1.35" fill="none"/><path d="M883.0 424.9V415.0M847.9 424.9V415.3M478.5 424.9V405.3M773.9 424.9V414.6" stroke="#ff0000" stroke-width="1.35" fill="none"/><path d="M714.8 424.9V375.8" stroke="#0000ff" stroke-width="1.35" fill="none"/><path d="M271.3 424.9V399.7M600.3 424.9V413.9M879.4 424.9V401.4" stroke="#ff0000" stroke-width="1.35" fill="none"/><path d="M584.9 424.9V376.7M864.6 424.9V414.2M174.0 424.9V396.2M871.9 424.9V407.2" stroke="#0000ff" stroke-width="1.35" fill="none"/><path d="M711.5 424.9V409.7" stroke="#ff0000" stroke-width="1.35" fill="none"/><path d="M765.3 424.9V414.6M461.9 424.9V421.4M376.3 424.9V410.0" stroke="#0000ff" stroke-width="1.35" fill="none"/><path d="M864.7 424.9V415.5M628.9 424.9V416.0M893.1 424.9V415.6M728.3 424.9V412.0" stroke="#ff0000" stroke-width="1.35" fill="none"/><path d="M679.1 424.9V404.1M299.0 424.9V412.1" stroke="#0000ff" stroke-width="1.35" fill="none"/><path d="M291.0 424.9V408.9" stroke="#ff0000" stroke-width="1.35" fill="none"/><path d="M683.4 424.9V412.5" stroke="#0000ff" stroke-width="1.35" fill="none"/><path d="M524.9 424.9V418.1M295.5 424.9V394.5" stroke="#ff0000" stroke-width="1.35" fill="none"/><path d="M381.1 424.9V391.6" stroke="#0000ff" stroke-width="1.35" fill="none"/><path d="M149.0 424.9V418.2M191.0 424.9V413.2M905.0 424.9V415.5" stroke="#ff0000" stroke-width="1.35" fill="none"/><path d="M140.5 424.9V412.7M591.3 424.9V408.4M281.1 424.9V416.1M393.9 424.9V415.6M275.3 424.9V415.2M231.7 424.9V417.0" stroke="#0000ff" stroke-width="1.35" fill="none"/><path d="M690.1 424.9V415.3" stroke="#ff0000" stroke-width="1.35" fill="none"/><path d="M709.3 424.9V415.6M559.7 424.9V405.5" stroke="#0000ff" stroke-width="1.35" fill="none"/><path d="M323.5 424.9V384.0M691.1 424.9V412.1M772.4 424.9V413.8" stroke="#ff0000" stroke-width="1.35" fill="none"/><path d="M428.6 424.9V421.7M680.7 424.9V414.0M180.2 424.9V403.6M179.7 424.9V417.0" stroke="#0000ff" stroke-width="1.35" fill="none"/><path d="M579.6 424.9V409.1" stroke="#ff0000" stroke-width="1.35" fill="none"/><path d="M224.8 424.9V415.0" stroke="#0000ff" stroke-width="1.35" fill="none"/><path d="M813.3 424.9V414.3" stroke="#ff0000" stroke-width="1.35" fill="none"/><path d="M211.3 424.9V417.5" stroke="#0000ff" stroke-width="1.35" fill="none"/><path d="M280.2 424.9V413.3M419.4 424.9V406.1" stroke="#ff0000" stroke-width="1.35" fill="none"/><path d="M599.2 424.9V401.9M510.7 424.9V370.2" stroke="#0000ff" stroke-width="1.35" fill="none"/><path d="M743.4 424.9V421.2" stroke="#ff0000" stroke-width="1.35" fill="none"/><path d="M707.6 424.9V404.6M706.0 424.9V407.5M503.4 424.9V414.2M775.1 424.9V408.4" stroke="#0000ff" stroke-width="1.35" fill="none"/><path d="M682.5 424.9V415.5" stroke="#ff0000" stroke-width="1.35" fill="none"/><path d="M499.8 424.9V418.5M461.7 424.9V421.2M241.9 424.9V388.2M664.0 424.9V414.1" stroke="#0000ff" stroke-width="1.35" fill="none"/><path d="M467.0 424.9V410.0M449.7 424.9V419.8" stroke="#ff0000" stroke-width="1.35" fill="none"/><path d="M790.1 424.9V401.5" stroke="#0000ff" stroke-width="1.35" fill="none"/><path d="M879.6 424.9V413.8" stroke="#ff0000" stroke-width="1.35" fill="none"/><path d="M610.6 424.9V414.3M772.7 424.9V406.0M490.7 424.9V412.8" stroke="#0000ff" stroke-width="1.35" fill="none"/><path d="M493.9 424.9V418.5M843.6 424.9V407.6M266.0 424.9V410.6" stroke="#ff0000" stroke-width="1.35" fill="none"/><path d="M419.0 424.9V393.7" stroke="#0000ff" stroke-width="1.35" fill="none"/><path d="M287.7 424.9V392.9" stroke="#ff0000" stroke-width="1.35" fill="none"/><path d="M194.9 424.9V404.1" stroke="#0000ff" stroke-width="1.35" fill="none"/><path d="M463.3 424.9V392.9M805.2 424.9V410.8" stroke="#ff0000" stroke-width="1.35" fill="none"/><path d="M570.6 424.9V409.0" stroke="#0000ff" stroke-width="1.35" fill="none"/><path d="M323.3 424.9V410.3M242.0 424.9V412.8" stroke="#ff0000" stroke-width="1.35" fill="none"/><path d="M238.8 424.9V416.8M690.5 424.9V410.7M824.4 424.9V411.6" stroke="#0000ff" stroke-width="1.35" fill="none"/><path d="M555.7 424.9V415.3" stroke="#ff0000" stroke-width="1.35" fill="none"/><path d="M821.1 424.9V414.6M474.9 424.9V389.0M294.6 424.9V416.2" stroke="#0000ff" stroke-width="1.35" fill="none"/><path d="M238.1 424.9V413.5" stroke="#ff0000" stroke-width="1.35" fill="none"/><path d="M762.8 424.9V413.8M399.9 424.9V409.6M720.3 424.9V415.4" stroke="#0000ff" stroke-width="1.35" fill="none"/><path d="M801.6 424.9V414.9M706.4 424.9V413.0M873.5 424.9V414.8M235.1 424.9V413.0M606.5 424.9V414.9M854.8 424.9V403.4" stroke="#ff0000" stroke-width="1.35" fill="none"/><path d="M847.5 424.9V400.6" stroke="#0000ff" stroke-width="1.35" fill="none"/><path d="M680.5 424.9V414.5" stroke="#ff0000" stroke-width="1.35" fill="none"/><path d="M516.8 424.9V417.6M812.7 424.9V399.1M845.5 424.9V413.8" stroke="#0000ff" stroke-width="1.35" fill="none"/><path d="M704.1 424.9V411.3M470.1 424.9V411.5" stroke="#ff0000" stroke-width="1.35" fill="none"/><path d="M702.8 424.9V395.0" stroke="#0000ff" stroke-width="1.35" fill="none"/><path d="M277.4 424.9V416.6M533.4 424.9V416.5M449.1 424.9V417.9M267.9 424.9V415.6" stroke="#ff0000" stroke-width="1.35" fill="none"/><path d="M323.6 424.9V415.8M550.9 424.9V417.1M594.8 424.9V412.4M789.1 424.9V415.1" stroke="#0000ff" stroke-width="1.35" fill="none"/><path d="M598.5 424.9V409.5" stroke="#ff0000" stroke-width="1.35" fill="none"/><path d="M275.9 424.9V416.0" stroke="#0000ff" stroke-width="1.35" fill="none"/><path d="M464.8 424.9V394.2" stroke="#ff0000" stroke-width="1.35" fill="none"/><path d="M788.6 424.9V395.3M694.6 424.9V409.4M298.5 424.9V415.0" stroke="#0000ff" stroke-width="1.35" fill="none"/><path d="M556.7 424.9V413.7" stroke="#ff0000" stroke-width="1.35" fill="none"/><path d="M300.5 424.9V366.1M657.4 424.9V411.5M249.8 424.9V404.1" stroke="#0000ff" stroke-width="1.35" fill="none"/><path d="M440.0 424.9V418.8" stroke="#ff0000" stroke-width="1.35" fill="none"/><path d="M450.7 424.9V420.5M327.5 424.9V400.6M754.9 424.9V406.7" stroke="#0000ff" stroke-width="1.35" fill="none"/><path d="M905.4 424.9V417.5" stroke="#ff0000" stroke-width="1.35" fill="none"/><path d="M463.7 424.9V411.3M227.7 424.9V416.6" stroke="#0000ff" stroke-width="1.35" fill="none"/><path d="M519.9 424.9V416.4M181.0 424.9V413.1" stroke="#ff0000" stroke-width="1.35" fill="none"/><path d="M816.5 424.9V391.0M617.8 424.9V413.5M732.8 424.9V396.0" stroke="#0000ff" stroke-width="1.35" fill="none"/><path d="M568.1 424.9V415.1M705.1 424.9V415.8" stroke="#ff0000" stroke-width="1.35" fill="none"/><path d="M278.7 424.9V396.1" stroke="#0000ff" stroke-width="1.35" fill="none"/><path d="M626.1 424.9V410.1M664.7 424.9V398.0" stroke="#ff0000" stroke-width="1.35" fill="none"/><path d="M665.3 424.9V379.4M515.1 424.9V389.6M386.4 424.9V407.8" stroke="#0000ff" stroke-width="1.35" fill="none"/><path d="M316.7 424.9V414.1" stroke="#ff0000" stroke-width="1.35" fill="none"/><path d="M704.7 424.9V410.6M251.9 424.9V408.7M729.8 424.9V414.0" stroke="#0000ff" stroke-width="1.35" fill="none"/><path d="M322.0 424.9V415.5M441.6 424.9V422.0M661.1 424.9V407.2" stroke="#ff0000" stroke-width="1.35" fill="none"/><path d="M667.0 424.9V408.9M782.7 424.9V404.0M306.9 424.9V367.4" stroke="#0000ff" stroke-width="1.35" fill="none"/><path d="M885.0 424.9V411.8M906.6 424.9V421.3" stroke="#ff0000" stroke-width="1.35" fill="none"/><path d="M414.3 424.9V417.6" stroke="#0000ff" stroke-width="1.35" fill="none"/><path d="M486.7 424.9V410.0M585.0 424.9V416.5" stroke="#ff0000" stroke-width="1.35" fill="none"/><path d="M329.9 424.9V415.9M727.0 424.9V413.7" stroke="#0000ff" stroke-width="1.35" fill="none"/><path d="M496.8 424.9V415.3" stroke="#ff0000" stroke-width="1.35" fill="none"/><path d="M530.2 424.9V417.7M765.7 424.9V364.3" stroke="#0000ff" stroke-width="1.35" fill="none"/><path d="M225.4 424.9V404.9M886.6 424.9V415.4" stroke="#ff0000" stroke-width="1.35" fill="none"/><path d="M378.5 424.9V416.0" stroke="#0000ff" stroke-width="1.35" fill="none"/><path d="M227.6 424.9V372.0" stroke="#ff0000" stroke-width="1.35" fill="none"/><path d="M763.4 424.9V410.7M418.2 424.9V414.8M899.5 424.9V416.1" stroke="#0000ff" stroke-width="1.35" fill="none"/><path d="M426.7 424.9V412.6M836.9 424.9V412.2M758.7 424.9V413.6" stroke="#ff0000" stroke-width="1.35" fill="none"/><path d="M342.1 424.9V406.1M242.0 424.9V406.1M886.2 424.9V406.3" stroke="#0000ff" stroke-width="1.35" fill="none"/><path d="M705.4 424.9V415.4M502.8 424.9V413.4" stroke="#ff0000" stroke-width="1.35" fill="none"/><path d="M546.3 424.9V407.6" stroke="#0000ff" stroke-width="1.35" fill="none"/><path d="M852.5 424.9V412.7" stroke="#ff0000" stroke-width="1.35" fill="none"/><path d="M400.8 424.9V416.7M451.3 424.9V419.0M186.6 424.9V415.7" stroke="#0000ff" stroke-width="1.35" fill="none"/><path d="M604.7 424.9V414.5M487.7 424.9V415.3M696.2 424.9V411.1" stroke="#ff0000" stroke-width="1.35" fill="none"/><path d="M639.7 424.9V397.5" stroke="#0000ff" stroke-width="1.35" fill="none"/><path d="M335.7 424.9V415.7" stroke="#ff0000" stroke-width="1.35" fill="none"/><path d="M579.4 424.9V413.0" stroke="#0000ff" stroke-width="1.35" fill="none"/><path d="M817.8 424.9V409.7" stroke="#ff0000" stroke-width="1.35" fill="none"/><path d="M783.6 424.9V397.7" stroke="#0000ff" stroke-width="1.35" fill="none"/><path d="M887.1 424.9V415.3" stroke="#ff0000" stroke-width="1.35" fill="none"/><path d="M876.0 424.9V411.8" stroke="#0000ff" stroke-width="1.35" fill="none"/><path d="M403.2 424.9V409.5M718.5 424.9V411.7" stroke="#ff0000" stroke-width="1.35" fill="none"/><path d="M307.2 424.9V416.2M184.5 424.9V401.2" stroke="#0000ff" stroke-width="1.35" fill="none"/><path d="M846.7 424.9V410.8" stroke="#ff0000" stroke-width="1.35" fill="none"/><path d="M255.5 424.9V364.6" stroke="#0000ff" stroke-width="1.35" fill="none"/><path d="M718.2 424.9V394.9" stroke="#ff0000" stroke-width="1.35" fill="none"/><path d="M193.7 424.9V415.6M493.4 424.9V415.5" stroke="#0000ff" stroke-width="1.35" fill="none"/><path d="M425.3 424.9V419.7" stroke="#ff0000" stroke-width="1.35" fill="none"/><path d="M436.8 424.9V421.2M393.6 424.9V413.3M750.9 424.9V413.3M473.6 424.9V397.7" stroke="#0000ff" stroke-width="1.35" fill="none"/><path d="M650.3 424.9V398.4" stroke="#ff0000" stroke-width="1.35" fill="none"/><path d="M702.2 424.9V403.3" stroke="#0000ff" stroke-width="1.35" fill="none"/><path d="M441.7 424.9V421.6" stroke="#ff0000" stroke-width="1.35" fill="none"/><path d="M250.5 424.9V415.8M355.5 424.9V408.9M232.5 424.9V412.7M405.0 424.9V398.7M209.5 424.9V413.3M582.4 424.9V400.0M410.5 424.9V397.1" stroke="#0000ff" stroke-width="1.35" fill="none"/><path d="M694.8 424.9V413.1M483.4 424.9V399.4M797.9 424.9V414.4" stroke="#ff0000" stroke-width="1.35" fill="none"/><path d="M278.7 424.9V409.5M849.2 424.9V410.4M750.3 424.9V410.3" stroke="#0000ff" stroke-width="1.35" fill="none"/><path d="M877.9 424.9V415.0" stroke="#ff0000" stroke-width="1.35" fill="none"/><path d="M664.5 424.9V413.8" stroke="#0000ff" stroke-width="1.35" fill="none"/><path d="M610.2 424.9V415.4" stroke="#ff0000" stroke-width="1.35" fill="none"/><path d="M507.5 424.9V418.1M270.6 424.9V408.0" stroke="#0000ff" stroke-width="1.35" fill="none"/><path d="M276.9 424.9V412.2" stroke="#ff0000" stroke-width="1.35" fill="none"/><path d="M417.3 424.9V402.9" stroke="#0000ff" stroke-width="1.35" fill="none"/><path d="M528.9 424.9V417.1M350.6 424.9V416.3" stroke="#ff0000" stroke-width="1.35" fill="none"/><path d="M480.6 424.9V396.5" stroke="#0000ff" stroke-width="1.35" fill="none"/><path d="M676.4 424.9V403.4" stroke="#ff0000" stroke-width="1.35" fill="none"/><path d="M319.3 424.9V406.6M394.8 424.9V413.9M799.5 424.9V404.1M574.7 424.9V412.9M188.0 424.9V416.0" stroke="#0000ff" stroke-width="1.35" fill="none"/><path d="M512.1 424.9V417.2M544.5 424.9V413.1M625.5 424.9V415.1M552.1 424.9V409.6M451.2 424.9V419.2M841.2 424.9V405.0" stroke="#ff0000" stroke-width="1.35" fill="none"/><path d="M316.4 424.9V413.1M478.7 424.9V394.2" stroke="#0000ff" stroke-width="1.35" fill="none"/><path d="M356.8 424.9V409.8" stroke="#ff0000" stroke-width="1.35" fill="none"/><path d="M592.8 424.9V413.6" stroke="#0000ff" stroke-width="1.35" fill="none"/><path d="M901.7 424.9V414.6" stroke="#ff0000" stroke-width="1.35" fill="none"/><path d="M828.0 424.9V415.2M761.5 424.9V415.1" stroke="#0000ff" stroke-width="1.35" fill="none"/><path d="M877.9 424.9V414.8" stroke="#ff0000" stroke-width="1.35" fill="none"/><path d="M910.0 424.9V420.2M439.3 424.9V422.0" stroke="#0000ff" stroke-width="1.35" fill="none"/><path d="M298.6 424.9V409.5M595.8 424.9V395.5M421.2 424.9V402.5M738.1 424.9V423.4M835.0 424.9V413.9" stroke="#ff0000" stroke-width="1.35" fill="none"/><path d="M666.1 424.9V409.6M898.3 424.9V412.8M772.5 424.9V406.6M687.5 424.9V412.0" stroke="#0000ff" stroke-width="1.35" fill="none"/><path d="M452.5 424.9V420.9" stroke="#ff0000" stroke-width="1.35" fill="none"/><path d="M313.7 424.9V398.5M348.9 424.9V408.8" stroke="#0000ff" stroke-width="1.35" fill="none"/><path d="M712.4 424.9V414.6M467.7 424.9V393.5" stroke="#ff0000" stroke-width="1.35" fill="none"/><path d="M266.1 424.9V409.8M597.3 424.9V416.1M173.4 424.9V417.0" stroke="#0000ff" stroke-width="1.35" fill="none"/><path d="M827.0 424.9V411.9" stroke="#ff0000" stroke-width="1.35" fill="none"/><path d="M650.9 424.9V408.0" stroke="#0000ff" stroke-width="1.35" fill="none"/><path d="M792.4 424.9V408.3M318.6 424.9V396.3" stroke="#ff0000" stroke-width="1.35" fill="none"/><path d="M777.0 424.9V414.0" stroke="#0000ff" stroke-width="1.35" fill="none"/><path d="M875.9 424.9V415.1M158.6 424.9V393.8" stroke="#ff0000" stroke-width="1.35" fill="none"/><path d="M759.4 424.9V405.2" stroke="#0000ff" stroke-width="1.35" fill="none"/><path d="M474.3 424.9V411.7" stroke="#ff0000" stroke-width="1.35" fill="none"/><path d="M477.2 424.9V404.7" stroke="#0000ff" stroke-width="1.35" fill="none"/><path d="M669.3 424.9V412.1" stroke="#ff0000" stroke-width="1.35" fill="none"/><path d="M324.8 424.9V410.1M764.8 424.9V413.0M827.1 424.9V415.2" stroke="#0000ff" stroke-width="1.35" fill="none"/><path d="M230.8 424.9V413.6" stroke="#ff0000" stroke-width="1.35" fill="none"/><path d="M470.7 424.9V382.0M725.6 424.9V411.5M894.9 424.9V414.0M884.5 424.9V404.9M589.1 424.9V412.8" stroke="#0000ff" stroke-width="1.35" fill="none"/><path d="M373.2 424.9V416.1" stroke="#ff0000" stroke-width="1.35" fill="none"/><path d="M740.3 424.9V422.6M263.6 424.9V415.4" stroke="#0000ff" stroke-width="1.35" fill="none"/><path d="M654.0 424.9V414.7" stroke="#ff0000" stroke-width="1.35" fill="none"/><path d="M394.5 424.9V413.0M557.4 424.9V406.7M848.1 424.9V407.6M147.5 424.9V416.0M741.4 424.9V423.2M240.9 424.9V415.5" stroke="#0000ff" stroke-width="1.35" fill="none"/><path d="M770.6 424.9V409.5M623.1 424.9V410.8M732.6 424.9V410.2" stroke="#ff0000" stroke-width="1.35" fill="none"/><path d="M820.2 424.9V414.0" stroke="#0000ff" stroke-width="1.35" fill="none"/><path d="M594.6 424.9V404.6" stroke="#ff0000" stroke-width="1.35" fill="none"/><path d="M209.1 424.9V408.4" stroke="#0000ff" stroke-width="1.35" fill="none"/><path d="M573.5 424.9V413.9M200.0 424.9V412.3M867.0 424.9V386.0M609.0 424.9V415.2M746.1 424.9V415.7M496.1 424.9V403.8" stroke="#ff0000" stroke-width="1.35" fill="none"/><path d="M255.7 424.9V401.0M512.9 424.9V417.6M329.1 424.9V417.2M377.8 424.9V413.0M258.6 424.9V414.2" stroke="#0000ff" stroke-width="1.35" fill="none"/><path d="M534.7 424.9V418.2M593.1 424.9V412.5M619.0 424.9V414.6M398.8 424.9V411.6" stroke="#ff0000" stroke-width="1.35" fill="none"/><path d="M597.7 424.9V401.8" stroke="#0000ff" stroke-width="1.35" fill="none"/><path d="M385.7 424.9V408.7M880.5 424.9V414.0M379.5 424.9V416.6" stroke="#ff0000" stroke-width="1.35" fill="none"/><path d="M197.9 424.9V412.4M469.9 424.9V402.4M828.5 424.9V405.2" stroke="#0000ff" stroke-width="1.35" fill="none"/><path d="M615.0 424.9V405.8M431.3 424.9V422.0" stroke="#ff0000" stroke-width="1.35" fill="none"/><path d="M191.2 424.9V413.9" stroke="#0000ff" stroke-width="1.35" fill="none"/><path d="M293.2 424.9V403.8" stroke="#ff0000" stroke-width="1.35" fill="none"/><path d="M154.2 424.9V415.7" stroke="#0000ff" stroke-width="1.35" fill="none"/><path d="M716.9 424.9V405.2" stroke="#ff0000" stroke-width="1.35" fill="none"/><path d="M865.2 424.9V406.9" stroke="#0000ff" stroke-width="1.35" fill="none"/><path d="M175.7 424.9V414.5M514.3 424.9V418.2" stroke="#ff0000" stroke-width="1.35" fill="none"/><path d="M745.6 424.9V408.2M866.8 424.9V414.6M598.4 424.9V416.4M646.5 424.9V413.7M543.5 424.9V405.0" stroke="#0000ff" stroke-width="1.35" fill="none"/><path d="M254.8 424.9V400.4" stroke="#ff0000" stroke-width="1.35" fill="none"/><path d="M469.8 424.9V364.8" stroke="#0000ff" stroke-width="1.35" fill="none"/><path d="M156.0 424.9V417.2" stroke="#ff0000" stroke-width="1.35" fill="none"/><path d="M589.7 424.9V404.6M231.1 424.9V416.9M762.7 424.9V410.3M443.6 424.9V416.9" stroke="#0000ff" stroke-width="1.35" fill="none"/><path d="M519.4 424.9V400.3" stroke="#ff0000" stroke-width="1.35" fill="none"/><path d="M405.9 424.9V414.3M576.1 424.9V384.0M539.3 424.9V416.1M668.1 424.9V405.9" stroke="#0000ff" stroke-width="1.35" fill="none"/><path d="M887.5 424.9V415.1M670.1 424.9V415.1M713.6 424.9V413.0M384.0 424.9V399.1" stroke="#ff0000" stroke-width="1.35" fill="none"/><path d="M580.9 424.9V407.0M206.8 424.9V417.5" stroke="#0000ff" stroke-width="1.35" fill="none"/><path d="M570.1 424.9V394.3M782.1 424.9V407.7" stroke="#ff0000" stroke-width="1.35" fill="none"/><path d="M574.8 424.9V413.4M476.5 424.9V408.1M271.2 424.9V414.7" stroke="#0000ff" stroke-width="1.35" fill="none"/><path d="M192.7 424.9V417.5M725.5 424.9V404.7" stroke="#ff0000" stroke-width="1.35" fill="none"/><path d="M570.0 424.9V390.9" stroke="#0000ff" stroke-width="1.35" fill="none"/><path d="M729.8 424.9V414.8M644.6 424.9V403.8M146.2 424.9V408.7M741.3 424.9V422.2" stroke="#ff0000" stroke-width="1.35" fill="none"/><path d="M810.5 424.9V411.7M186.8 424.9V417.7" stroke="#0000ff" stroke-width="1.35" fill="none"/><path d="M802.3 424.9V411.3M838.9 424.9V413.6M290.3 424.9V409.1M714.7 424.9V413.5" stroke="#ff0000" stroke-width="1.35" fill="none"/><path d="M731.2 424.9V373.6" stroke="#0000ff" stroke-width="1.35" fill="none"/><path d="M667.1 424.9V396.0" stroke="#ff0000" stroke-width="1.35" fill="none"/><path d="M671.0 424.9V379.3M802.6 424.9V380.2M895.0 424.9V415.5" stroke="#0000ff" stroke-width="1.35" fill="none"/><path d="M891.1 424.9V411.1" stroke="#ff0000" stroke-width="1.35" fill="none"/><path d="M247.9 424.9V398.4" stroke="#0000ff" stroke-width="1.35" fill="none"/><path d="M590.5 424.9V415.4" stroke="#ff0000" stroke-width="1.35" fill="none"/><path d="M354.6 424.9V396.1M260.5 424.9V410.6M480.7 424.9V412.0" stroke="#0000ff" stroke-width="1.35" fill="none"/><path d="M707.1 424.9V413.0M491.7 424.9V416.9" stroke="#ff0000" stroke-width="1.35" fill="none"/><path d="M869.3 424.9V406.9" stroke="#0000ff" stroke-width="1.35" fill="none"/><path d="M310.0 424.9V413.0M894.6 424.9V412.8M613.7 424.9V414.8" stroke="#ff0000" stroke-width="1.35" fill="none"/><path d="M748.3 424.9V415.8M836.0 424.9V410.7M707.5 424.9V414.7M285.5 424.9V397.9M350.1 424.9V415.5M787.1 424.9V403.7" stroke="#0000ff" stroke-width="1.35" fill="none"/><path d="M446.9 424.9V420.7M556.6 424.9V416.6" stroke="#ff0000" stroke-width="1.35" fill="none"/><path d="M354.9 424.9V417.1M870.6 424.9V413.8M810.9 424.9V415.1" stroke="#0000ff" stroke-width="1.35" fill="none"/><path d="M634.4 424.9V406.9" stroke="#ff0000" stroke-width="1.35" fill="none"/><path d="M628.3 424.9V414.4" stroke="#0000ff" stroke-width="1.35" fill="none"/><path d="M233.6 424.9V415.7" stroke="#ff0000" stroke-width="1.35" fill="none"/><path d="M324.5 424.9V416.2M567.4 424.9V413.5M187.3 424.9V416.7" stroke="#0000ff" stroke-width="1.35" fill="none"/><path d="M264.9 424.9V415.1" stroke="#ff0000" stroke-width="1.35" fill="none"/><path d="M458.7 424.9V417.9" stroke="#0000ff" stroke-width="1.35" fill="none"/><path d="M475.3 424.9V410.4M359.1 424.9V412.0" stroke="#ff0000" stroke-width="1.35" fill="none"/><path d="M900.7 424.9V416.3M326.5 424.9V408.5" stroke="#0000ff" stroke-width="1.35" fill="none"/><path d="M662.9 424.9V403.1" stroke="#ff0000" stroke-width="1.35" fill="none"/><path d="M686.2 424.9V415.4M662.0 424.9V397.9" stroke="#0000ff" stroke-width="1.35" fill="none"/><path d="M239.7 424.9V416.3" stroke="#ff0000" stroke-width="1.35" fill="none"/><path d="M722.0 424.9V412.0M511.5 424.9V418.3M802.5 424.9V414.6" stroke="#0000ff" stroke-width="1.35" fill="none"/><path d="M608.9 424.9V385.4" stroke="#ff0000" stroke-width="1.35" fill="none"/><path d="M257.1 424.9V411.3M226.0 424.9V412.4M411.5 424.9V415.8M423.3 424.9V411.0M569.0 424.9V414.3M653.7 424.9V382.3M273.6 424.9V410.6M552.3 424.9V392.0M663.0 424.9V412.1M287.5 424.9V407.9M318.4 424.9V404.9" stroke="#0000ff" stroke-width="1.35" fill="none"/><path d="M891.9 424.9V414.0M642.9 424.9V407.5" stroke="#ff0000" stroke-width="1.35" fill="none"/><path d="M851.4 424.9V413.6" stroke="#0000ff" stroke-width="1.35" fill="none"/><path d="M553.7 424.9V413.0" stroke="#ff0000" stroke-width="1.35" fill="none"/><path d="M736.8 424.9V408.4" stroke="#0000ff" stroke-width="1.35" fill="none"/><path d="M903.3 424.9V416.7M885.8 424.9V415.8" stroke="#ff0000" stroke-width="1.35" fill="none"/><path d="M656.8 424.9V378.6" stroke="#0000ff" stroke-width="1.35" fill="none"/><path d="M197.0 424.9V415.7" stroke="#ff0000" stroke-width="1.35" fill="none"/><path d="M853.0 424.9V410.4M568.4 424.9V411.6M583.9 424.9V382.4M508.8 424.9V418.5M561.9 424.9V415.9" stroke="#0000ff" stroke-width="1.35" fill="none"/><path d="M637.7 424.9V409.1M273.2 424.9V416.1" stroke="#ff0000" stroke-width="1.35" fill="none"/><path d="M415.1 424.9V392.2M736.4 424.9V415.8" stroke="#0000ff" stroke-width="1.35" fill="none"/><path d="M828.9 424.9V407.0M819.6 424.9V397.9" stroke="#ff0000" stroke-width="1.35" fill="none"/><path d="M790.0 424.9V407.8M167.0 424.9V374.6M289.0 424.9V406.3M892.9 424.9V415.7" stroke="#0000ff" stroke-width="1.35" fill="none"/><path d="M611.3 424.9V409.9M278.1 424.9V414.6M416.1 424.9V413.6" stroke="#ff0000" stroke-width="1.35" fill="none"/><path d="M900.4 424.9V406.0M897.9 424.9V413.1M415.9 424.9V407.4M718.4 424.9V405.4M887.3 424.9V415.2" stroke="#0000ff" stroke-width="1.35" fill="none"/><path d="M420.4 424.9V397.7" stroke="#ff0000" stroke-width="1.35" fill="none"/><path d="M397.8 424.9V416.4M814.9 424.9V412.5" stroke="#0000ff" stroke-width="1.35" fill="none"/><path d="M748.7 424.9V415.6" stroke="#ff0000" stroke-width="1.35" fill="none"/><path d="M588.0 424.9V395.4" stroke="#0000ff" stroke-width="1.35" fill="none"/><path d="M638.2 424.9V410.2M678.0 424.9V416.1" stroke="#ff0000" stroke-width="1.35" fill="none"/><path d="M155.7 424.9V417.0" stroke="#0000ff" stroke-width="1.35" fill="none"/><path d="M758.9 424.9V413.5M183.3 424.9V418.1" stroke="#ff0000" stroke-width="1.35" fill="none"/><path d="M859.8 424.9V393.0M680.5 424.9V415.1" stroke="#0000ff" stroke-width="1.35" fill="none"/><path d="M824.1 424.9V384.1" stroke="#ff0000" stroke-width="1.35" fill="none"/><path d="M204.6 424.9V415.5M331.1 424.9V415.7" stroke="#0000ff" stroke-width="1.35" fill="none"/><path d="M901.1 424.9V414.9" stroke="#ff0000" stroke-width="1.35" fill="none"/><path d="M733.9 424.9V416.2M832.2 424.9V388.2M491.3 424.9V410.6M348.5 424.9V405.1M220.4 424.9V416.2" stroke="#0000ff" stroke-width="1.35" fill="none"/><path d="M320.7 424.9V383.4" stroke="#ff0000" stroke-width="1.35" fill="none"/><path d="M640.3 424.9V412.1M901.1 424.9V417.0" stroke="#0000ff" stroke-width="1.35" fill="none"/><path d="M164.4 424.9V417.7" stroke="#ff0000" stroke-width="1.35" fill="none"/><path d="M697.4 424.9V412.9" stroke="#0000ff" stroke-width="1.35" fill="none"/><path d="M447.5 424.9V418.2M488.7 424.9V417.3" stroke="#ff0000" stroke-width="1.35" fill="none"/><path d="M414.8 424.9V409.5" stroke="#0000ff" stroke-width="1.35" fill="none"/><path d="M620.8 424.9V408.5M612.7 424.9V414.6" stroke="#ff0000" stroke-width="1.35" fill="none"/><path d="M532.6 424.9V413.9" stroke="#0000ff" stroke-width="1.35" fill="none"/><path d="M779.5 424.9V409.0" stroke="#ff0000" stroke-width="1.35" fill="none"/><path d="M442.8 424.9V421.2" stroke="#0000ff" stroke-width="1.35" fill="none"/><path d="M692.7 424.9V404.0M559.4 424.9V414.6" stroke="#ff0000" stroke-width="1.35" fill="none"/><path d="M219.6 424.9V402.9M840.6 424.9V392.8" stroke="#0000ff" stroke-width="1.35" fill="none"/><path d="M509.5 424.9V419.2" stroke="#ff0000" stroke-width="1.35" fill="none"/><path d="M464.2 424.9V408.2M796.5 424.9V407.6M878.9 424.9V390.1M711.0 424.9V410.0M334.7 424.9V396.3M291.8 424.9V410.9M484.2 424.9V396.3M754.3 424.9V385.9M368.2 424.9V412.8" stroke="#0000ff" stroke-width="1.35" fill="none"/><path d="M610.5 424.9V410.4" stroke="#ff0000" stroke-width="1.35" fill="none"/><path d="M844.5 424.9V415.1M259.0 424.9V415.6M653.6 424.9V414.9" stroke="#0000ff" stroke-width="1.35" fill="none"/><path d="M697.6 424.9V413.4" stroke="#ff0000" stroke-width="1.35" fill="none"/><path d="M344.6 424.9V390.4M639.4 424.9V412.4M642.6 424.9V391.0" stroke="#0000ff" stroke-width="1.35" fill="none"/><path d="M158.9 424.9V414.3" stroke="#ff0000" stroke-width="1.35" fill="none"/><path d="M491.2 424.9V418.8M350.7 424.9V413.2M546.2 424.9V364.3M484.9 424.9V391.7M628.9 424.9V404.0" stroke="#0000ff" stroke-width="1.35" fill="none"/><path d="M218.9 424.9V413.0" stroke="#ff0000" stroke-width="1.35" fill="none"/><path d="M620.3 424.9V412.9" stroke="#0000ff" stroke-width="1.35" fill="none"/><path d="M481.5 424.9V402.2" stroke="#ff0000" stroke-width="1.35" fill="none"/><path d="M735.1 424.9V415.6M361.6 424.9V417.0M449.3 424.9V420.6M267.8 424.9V415.9M523.8 424.9V418.2M291.7 424.9V400.2" stroke="#0000ff" stroke-width="1.35" fill="none"/><path d="M910.1 424.9V423.0M668.5 424.9V414.7" stroke="#ff0000" stroke-width="1.35" fill="none"/><path d="M237.1 424.9V401.3M784.8 424.9V413.2M317.4 424.9V368.9" stroke="#0000ff" stroke-width="1.35" fill="none"/><path d="M679.3 424.9V410.3M664.7 424.9V414.6M291.3 424.9V405.6" stroke="#ff0000" stroke-width="1.35" fill="none"/><path d="M636.6 424.9V411.0M259.4 424.9V412.9M496.0 424.9V407.4M418.8 424.9V412.8M226.3 424.9V410.6M181.6 424.9V408.2" stroke="#0000ff" stroke-width="1.35" fill="none"/><path d="M910.4 424.9V423.2" stroke="#ff0000" stroke-width="1.35" fill="none"/><path d="M867.6 424.9V413.1M185.0 424.9V409.4M331.2 424.9V416.4M625.9 424.9V411.3M668.8 424.9V411.8" stroke="#0000ff" stroke-width="1.35" fill="none"/><path d="M573.8 424.9V407.4" stroke="#ff0000" stroke-width="1.35" fill="none"/><path d="M375.7 424.9V412.3M780.6 424.9V394.8" stroke="#0000ff" stroke-width="1.35" fill="none"/><path d="M902.7 424.9V415.0M335.1 424.9V404.3" stroke="#ff0000" stroke-width="1.35" fill="none"/><path d="M197.8 424.9V402.2M820.1 424.9V409.4" stroke="#0000ff" stroke-width="1.35" fill="none"/><path d="M520.7 424.9V414.5M648.9 424.9V403.7M497.1 424.9V417.7" stroke="#ff0000" stroke-width="1.35" fill="none"/><path d="M644.9 424.9V412.7M835.9 424.9V409.1" stroke="#0000ff" stroke-width="1.35" fill="none"/><path d="M686.8 424.9V413.9M271.7 424.9V416.0M382.0 424.9V417.2" stroke="#ff0000" stroke-width="1.35" fill="none"/><path d="M674.8 424.9V413.1" stroke="#0000ff" stroke-width="1.35" fill="none"/><path d="M856.7 424.9V415.3M340.3 424.9V415.9" stroke="#ff0000" stroke-width="1.35" fill="none"/><path d="M392.6 424.9V417.1M380.7 424.9V411.9" stroke="#0000ff" stroke-width="1.35" fill="none"/><path d="M239.7 424.9V406.6M845.1 424.9V410.0M760.8 424.9V411.4" stroke="#ff0000" stroke-width="1.35" fill="none"/><path d="M403.3 424.9V396.5M388.9 424.9V399.1" stroke="#0000ff" stroke-width="1.35" fill="none"/><path d="M476.0 424.9V411.3M648.8 424.9V391.5M624.8 424.9V413.5" stroke="#ff0000" stroke-width="1.35" fill="none"/><path d="M714.6 424.9V413.4" stroke="#0000ff" stroke-width="1.35" fill="none"/><path d="M406.7 424.9V383.9M776.6 424.9V407.5M569.6 424.9V414.2M490.4 424.9V369.2M144.9 424.9V414.6M256.4 424.9V405.2M325.9 424.9V412.6M410.6 424.9V404.3M229.0 424.9V405.6M370.5 424.9V409.3M333.6 424.9V411.3M301.3 424.9V413.4M200.7 424.9V406.7M243.5 424.9V403.4M298.8 424.9V402.9M241.6 424.9V412.9M160.0 424.9V416.8M191.1 424.9V416.8M235.9 424.9V413.1M351.5 424.9V405.9M184.6 424.9V410.0M240.1 424.9V395.7M173.2 424.9V414.0M201.9 424.9V413.2M321.3 424.9V406.6M167.9 424.9V412.0M394.6 424.9V409.6M156.4 424.9V414.7M382.2 424.9V417.0M406.6 424.9V397.1M200.9 424.9V415.5M300.3 424.9V410.5M172.3 424.9V414.9M218.1 424.9V414.0M146.2 424.9V412.9M188.0 424.9V418.0M368.4 424.9V406.6M199.3 424.9V417.7M226.7 424.9V410.3M171.5 424.9V417.1M203.7 424.9V409.1M170.2 424.9V405.1M304.1 424.9V403.2M413.2 424.9V411.7M189.7 424.9V417.6M347.1 424.9V405.2M402.4 424.9V408.3M247.6 424.9V411.9M154.0 424.9V379.8M251.4 424.9V416.2M354.8 424.9V406.5M179.0 424.9V413.0M339.6 424.9V402.4M223.9 424.9V415.2M169.3 424.9V416.7M183.7 424.9V409.7M251.1 424.9V411.9M219.8 424.9V417.4M284.1 424.9V414.7M305.0 424.9V411.8M348.2 424.9V414.4M342.6 424.9V399.5M250.0 424.9V409.0M213.8 424.9V416.4M158.6 424.9V414.5M216.1 424.9V415.7M271.5 424.9V414.6M206.9 424.9V417.6M139.5 424.9V407.8M322.4 424.9V408.6M343.9 424.9V406.9M161.3 424.9V416.7M399.9 424.9V413.9M419.2 424.9V410.4M371.1 424.9V416.5M219.0 424.9V413.9M313.2 424.9V416.9M282.4 424.9V415.5M159.7 424.9V411.5M294.1 424.9V412.9M278.9 424.9V395.5M419.7 424.9V395.9M292.0 424.9V406.2M229.3 424.9V401.4M360.0 424.9V408.8M256.9 424.9V416.3M255.2 424.9V414.0M263.5 424.9V409.6M274.5 424.9V402.6M386.9 424.9V414.7M405.4 424.9V410.7M295.7 424.9V366.9M415.4 424.9V415.7M326.9 424.9V415.9M308.7 424.9V402.8M307.0 424.9V387.1M287.4 424.9V400.1M236.7 424.9V413.6M229.8 424.9V407.9M343.9 424.9V414.6M352.3 424.9V411.4M214.0 424.9V415.1M335.7 424.9V417.0M363.3 424.9V416.9M418.5 424.9V416.4M361.8 424.9V414.0M330.7 424.9V387.5M185.5 424.9V417.5M364.0 424.9V414.9M212.7 424.9V417.5M231.9 424.9V416.3M290.5 424.9V392.4M288.1 424.9V403.1M353.7 424.9V413.9M404.1 424.9V407.1M297.6 424.9V413.4M401.8 424.9V410.2M361.1 424.9V409.1M149.8 424.9V417.7M181.8 424.9V417.2M211.7 424.9V417.4M390.6 424.9V400.1M308.3 424.9V414.5M306.4 424.9V384.0M142.6 424.9V415.4M405.4 424.9V380.2M340.1 424.9V397.5M166.7 424.9V411.4M197.7 424.9V415.1M208.6 424.9V412.3M186.2 424.9V417.8M412.4 424.9V417.3M398.4 424.9V409.7M149.6 424.9V414.9M173.9 424.9V416.3M343.2 424.9V401.9M417.9 424.9V411.3M261.6 424.9V391.6M205.6 424.9V417.2M319.1 424.9V412.6M165.7 424.9V411.6M343.7 424.9V397.6M399.7 424.9V404.3M163.3 424.9V416.7M354.8 424.9V388.6M172.1 424.9V403.3M345.6 424.9V417.2M231.3 424.9V416.8M331.8 424.9V394.6M208.7 424.9V416.5M369.2 424.9V407.2M376.0 424.9V415.0M377.9 424.9V416.9M275.1 424.9V402.9M380.2 424.9V411.6M253.3 424.9V410.5M175.1 424.9V413.5M388.1 424.9V413.8M397.0 424.9V414.8M388.7 424.9V393.8M330.0 424.9V414.3M158.9 424.9V391.5M404.6 424.9V416.8M206.0 424.9V411.8M207.1 424.9V410.0M280.4 424.9V409.4M222.3 424.9V414.2M152.7 424.9V408.5M175.3 424.9V416.6M257.2 424.9V414.5M413.9 424.9V413.7M327.9 424.9V407.6M262.4 424.9V414.2M244.1 424.9V414.0M409.9 424.9V386.5M356.3 424.9V382.8M349.4 424.9V414.4M281.4 424.9V412.3M334.3 424.9V405.1M226.1 424.9V411.3M147.3 424.9V405.1M257.9 424.9V403.3M203.1 424.9V406.6M139.5 424.9V418.2M371.4 424.9V412.1M171.4 424.9V416.2M265.0 424.9V414.1M376.0 424.9V409.9M348.8 424.9V406.3M261.7 424.9V381.2M231.9 424.9V416.1M213.2 424.9V413.3M198.3 424.9V414.2M407.9 424.9V414.4M331.0 424.9V413.6M285.2 424.9V378.6M270.5 424.9V409.9M327.2 424.9V416.6M353.6 424.9V416.2M246.8 424.9V382.1M386.5 424.9V410.5M408.0 424.9V415.3M141.4 424.9V418.5M235.9 424.9V413.4M381.2 424.9V413.9M145.2 424.9V415.3M252.5 424.9V384.5M312.1 424.9V371.8M196.5 424.9V392.7M162.7 424.9V416.4M184.9 424.9V414.3M143.3 424.9V410.6M369.1 424.9V376.4M244.6 424.9V413.4M337.8 424.9V402.7M195.4 424.9V414.8M295.8 424.9V390.7M259.6 424.9V403.0M228.3 424.9V382.0M318.3 424.9V406.6M269.9 424.9V408.4M199.7 424.9V409.8M165.2 424.9V412.3M157.5 424.9V415.3M170.3 424.9V417.7M386.0 424.9V365.0M162.5 424.9V414.5M329.3 424.9V401.6M141.5 424.9V418.1M320.5 424.9V416.7M297.6 424.9V397.9M273.2 424.9V406.5M308.3 424.9V416.4M355.8 424.9V415.5M412.2 424.9V414.6M395.0 424.9V417.3M252.2 424.9V380.9M205.0 424.9V417.4M272.1 424.9V410.9M359.6 424.9V412.2M261.6 424.9V395.5M289.5 424.9V400.0M414.2 424.9V407.7M352.2 424.9V412.6M174.0 424.9V416.4M372.4 424.9V410.4M375.1 424.9V413.8M233.1 424.9V413.9M154.8 424.9V408.9M279.5 424.9V409.5M382.8 424.9V411.5M278.1 424.9V395.5M182.5 424.9V410.6M141.7 424.9V405.8M387.3 424.9V407.1M353.5 424.9V411.7M168.4 424.9V417.0M267.9 424.9V413.1M222.9 424.9V402.6M183.0 424.9V417.6M244.9 424.9V411.2M243.1 424.9V414.2M241.0 424.9V416.4M342.0 424.9V400.4M172.7 424.9V413.8M391.7 424.9V414.6M276.0 424.9V403.6M324.6 424.9V414.6M144.9 424.9V362.2M150.1 424.9V278.2M157.3 424.9V339.5" stroke="#ff0000" stroke-width="1.35" fill="none"/><path d="M164.9 424.9V337.4" stroke="#0000ff" stroke-width="1.35" fill="none"/><path d="M177.3 424.9V371.5" stroke="#ff0000" stroke-width="1.35" fill="none"/><path d="M184.5 424.9V349.8" stroke="#0000ff" stroke-width="1.35" fill="none"/><path d="M188.3 424.9V319.4M194.9 424.9V382.8M209.9 424.9V352.9" stroke="#ff0000" stroke-width="1.35" fill="none"/><path d="M223.3 424.9V368.4M232.0 424.9V367.7" stroke="#0000ff" stroke-width="1.35" fill="none"/><path d="M235.1 424.9V319.9M249.6 424.9V361.1" stroke="#ff0000" stroke-width="1.35" fill="none"/><path d="M255.7 424.9V320.5M259.9 424.9V320.5M267.7 424.9V353.9M272.3 424.9V330.2" stroke="#0000ff" stroke-width="1.35" fill="none"/><path d="M271.2 424.9V355.0" stroke="#ff0000" stroke-width="1.35" fill="none"/><path d="M279.5 424.9V369.4M284.6 424.9V346.3M288.8 424.9V346.3" stroke="#0000ff" stroke-width="1.35" fill="none"/><path d="M291.9 424.9V368.4" stroke="#ff0000" stroke-width="1.35" fill="none"/><path d="M304.2 424.9V372.5M308.4 424.9V368.4" stroke="#0000ff" stroke-width="1.35" fill="none"/><path d="M316.2 424.9V370.4" stroke="#ff0000" stroke-width="1.35" fill="none"/><path d="M324.5 424.9V307.9" stroke="#0000ff" stroke-width="1.35" fill="none"/><path d="M328.0 424.9V379.7M337.8 424.9V367.3" stroke="#ff0000" stroke-width="1.35" fill="none"/><path d="M359.9 424.9V337.4M369.6 424.9V369.4M385.7 424.9V362.2M397.7 424.9V382.8M407.0 424.9V375.2M420.8 424.9V347.7" stroke="#0000ff" stroke-width="1.35" fill="none"/><path d="M423.3 424.9V151.4" stroke="#ff0000" stroke-width="1.35" fill="none"/><path d="M431.5 424.9V400.4M441.9 424.9V393.7" stroke="#0000ff" stroke-width="1.35" fill="none"/><path d="M467.3 424.9V356.0" stroke="#ff0000" stroke-width="1.35" fill="none"/><path d="M470.8 424.9V313.2M478.6 424.9V348.8M482.7 424.9V247.5M498.8 424.9V378.0M513.7 424.9V380.7M524.0 424.9V353.3M537.8 424.9V339.5M532.6 424.9V361.0M551.8 424.9V354.0M559.0 424.9V360.0M568.8 424.9V323.0M588.0 424.9V337.4M590.6 424.9V358.7" stroke="#0000ff" stroke-width="1.35" fill="none"/><path d="M584.9 424.9V379.7" stroke="#ff0000" stroke-width="1.35" fill="none"/><path d="M621.0 424.9V360.0M626.1 424.9V332.2M634.8 424.9V353.9M643.7 424.9V288.5M649.3 424.9V364.2M663.3 424.9V373.5M675.7 424.9V383.4M688.0 424.9V346.7M686.0 424.9V361.0" stroke="#0000ff" stroke-width="1.35" fill="none"/><path d="M694.2 424.9V341.1" stroke="#ff0000" stroke-width="1.35" fill="none"/><path d="M705.8 424.9V341.1M710.3 424.9V330.2M714.9 424.9V221.0" stroke="#0000ff" stroke-width="1.35" fill="none"/><path d="M720.0 424.9V39.8" stroke="#ff0000" stroke-width="1.35" fill="none"/><path d="M727.2 424.9V274.1M722.2 424.9V371.6M744.9 424.9V329.3M747.7 424.9V274.7M752.1 424.9V364.0M756.8 424.9V355.3M761.8 424.9V303.3" stroke="#0000ff" stroke-width="1.35" fill="none"/><path d="M783.9 424.9V358.6M807.3 424.9V364.4" stroke="#ff0000" stroke-width="1.35" fill="none"/><path d="M816.4 424.9V341.3M826.4 424.9V335.8M831.0 424.9V354.3" stroke="#0000ff" stroke-width="1.35" fill="none"/><path d="M852.6 424.9V387.8" stroke="#ff0000" stroke-width="1.35" fill="none"/><path d="M857.2 424.9V354.3M859.8 424.9V262.6" stroke="#0000ff" stroke-width="1.35" fill="none"/><path d="M868.9 424.9V39.8M867.5 424.9V360.0" stroke="#ff0000" stroke-width="1.35" fill="none"/><path d="M873.0 424.9V333.2M877.6 424.9V365.7M894.9 424.9V344.1M897.3 424.9V75.8" stroke="#0000ff" stroke-width="1.35" fill="none"/><path d="M899.0 424.9V349.3" stroke="#ff0000" stroke-width="1.35" fill="none"/><path d="M904.2 424.9V419.3" stroke="#0000ff" stroke-width="1.35" fill="none"/><path d="M907.7 424.9V411.2" stroke="#ff0000" stroke-width="1.35" fill="none"/>
<rect x="138.5" y="424.9" width="783.0" height="25.4" fill="#2e902e"/>
<rect x="138.5" y="424.9" width="1.5" height="25.4" fill="#36983a"/>
<rect x="140.0" y="424.9" width="4.0" height="25.4" fill="#248a24"/>
<rect x="144.0" y="424.9" width="4.0" height="25.4" fill="#2a8f2a"/>
<rect x="148.0" y="424.9" width="2.0" height="25.4" fill="#36983a"/>
<rect x="150.0" y="424.9" width="3.0" height="25.4" fill="#36983a"/>
<rect x="153.0" y="424.9" width="2.5" height="25.4" fill="#36983a"/>
<rect x="155.5" y="424.9" width="1.5" height="25.4" fill="#55a855"/>
<rect x="157.0" y="424.9" width="1.0" height="25.4" fill="#46a046"/>
<rect x="158.0" y="424.9" width="4.0" height="25.4" fill="#2a8f2a"/>
<rect x="162.0" y="424.9" width="2.0" height="25.4" fill="#248a24"/>
<rect x="164.0" y="424.9" width="2.5" height="25.4" fill="#46a046"/>
<rect x="166.5" y="424.9" width="2.5" height="25.4" fill="#46a046"/>
<rect x="169.0" y="424.9" width="1.5" height="25.4" fill="#55a855"/>
<rect x="170.5" y="424.9" width="1.5" height="25.4" fill="#248a24"/>
<rect x="172.0" y="424.9" width="2.5" height="25.4" fill="#228422"/>
<rect x="174.5" y="424.9" width="2.5" height="25.4" fill="#248a24"/>
<rect x="177.0" y="424.9" width="2.0" height="25.4" fill="#36983a"/>
<rect x="179.0" y="424.9" width="1.5" height="25.4" fill="#55a855"/>
<rect x="180.5" y="424.9" width="1.0" height="25.4" fill="#228422"/>
<rect x="181.5" y="424.9" width="1.5" height="25.4" fill="#46a046"/>
<rect x="183.0" y="424.9" width="3.5" height="25.4" fill="#55a855"/>
<rect x="186.5" y="424.9" width="1.5" height="25.4" fill="#36983a"/>
<rect x="188.0" y="424.9" width="2.0" height="25.4" fill="#2a8f2a"/>
<rect x="190.0" y="424.9" width="3.0" height="25.4" fill="#2a8f2a"/>
<rect x="193.0" y="424.9" width="2.5" height="25.4" fill="#55a855"/>
<rect x="195.5" y="424.9" width="0.9" height="25.4" fill="#1a2a1a"/>
<rect x="196.4" y="424.9" width="2.5" height="25.4" fill="#228422"/>
<rect x="198.9" y="424.9" width="1.0" height="25.4" fill="#36983a"/>
<rect x="199.9" y="424.9" width="2.5" height="25.4" fill="#46a046"/>
<rect x="202.4" y="424.9" width="2.0" height="25.4" fill="#248a24"/>
<rect x="204.4" y="424.9" width="2.0" height="25.4" fill="#2a8f2a"/>
<rect x="206.4" y="424.9" width="3.5" height="25.4" fill="#2a8f2a"/>
<rect x="209.9" y="424.9" width="2.5" height="25.4" fill="#2a8f2a"/>
<rect x="212.4" y="424.9" width="1.0" height="25.4" fill="#a9d9a9"/>
<rect x="213.4" y="424.9" width="2.0" height="25.4" fill="#85c485"/>
<rect x="215.4" y="424.9" width="2.5" height="25.4" fill="#248a24"/>
<rect x="217.9" y="424.9" width="2.5" height="25.4" fill="#36983a"/>
<rect x="220.4" y="424.9" width="3.5" height="25.4" fill="#2a8f2a"/>
<rect x="223.9" y="424.9" width="3.5" height="25.4" fill="#2a8f2a"/>
<rect x="227.4" y="424.9" width="1.5" height="25.4" fill="#6ab56a"/>
<rect x="228.9" y="424.9" width="2.0" height="25.4" fill="#36983a"/>
<rect x="230.9" y="424.9" width="1.0" height="25.4" fill="#228422"/>
<rect x="231.9" y="424.9" width="2.0" height="25.4" fill="#2a8f2a"/>
<rect x="233.9" y="424.9" width="1.5" height="25.4" fill="#2a8f2a"/>
<rect x="235.4" y="424.9" width="3.0" height="25.4" fill="#248a24"/>
<rect x="238.4" y="424.9" width="4.0" height="25.4" fill="#46a046"/>
<rect x="242.4" y="424.9" width="1.0" height="25.4" fill="#36983a"/>
<rect x="243.4" y="424.9" width="1.0" height="25.4" fill="#85c485"/>
<rect x="244.4" y="424.9" width="3.0" height="25.4" fill="#248a24"/>
<rect x="247.4" y="424.9" width="1.5" height="25.4" fill="#248a24"/>
<rect x="248.9" y="424.9" width="2.0" height="25.4" fill="#228422"/>
<rect x="250.9" y="424.9" width="2.5" height="25.4" fill="#2a8f2a"/>
<rect x="253.4" y="424.9" width="4.0" height="25.4" fill="#46a046"/>
<rect x="257.4" y="424.9" width="3.5" height="25.4" fill="#2a8f2a"/>
<rect x="260.9" y="424.9" width="1.5" height="25.4" fill="#248a24"/>
<rect x="262.4" y="424.9" width="1.0" height="25.4" fill="#2a8f2a"/>
<rect x="263.4" y="424.9" width="2.0" height="25.4" fill="#46a046"/>
<rect x="265.4" y="424.9" width="1.5" height="25.4" fill="#2a8f2a"/>
<rect x="266.9" y="424.9" width="1.5" height="25.4" fill="#55a855"/>
<rect x="268.4" y="424.9" width="1.5" height="25.4" fill="#228422"/>
<rect x="269.9" y="424.9" width="0.9" height="25.4" fill="#1a2a1a"/>
<rect x="270.8" y="424.9" width="1.5" height="25.4" fill="#248a24"/>
<rect x="272.3" y="424.9" width="4.0" height="25.4" fill="#2a8f2a"/>
<rect x="276.3" y="424.9" width="1.0" height="25.4" fill="#228422"/>
<rect x="277.3" y="424.9" width="1.5" height="25.4" fill="#248a24"/>
<rect x="278.8" y="424.9" width="2.0" height="25.4" fill="#248a24"/>
<rect x="280.8" y="424.9" width="2.0" height="25.4" fill="#248a24"/>
<rect x="282.8" y="424.9" width="2.5" height="25.4" fill="#2a8f2a"/>
<rect x="285.3" y="424.9" width="0.9" height="25.4" fill="#1a2a1a"/>
<rect x="286.2" y="424.9" width="4.0" height="25.4" fill="#5f9a6f"/>
<rect x="290.2" y="424.9" width="1.5" height="25.4" fill="#2a8f2a"/>
<rect x="291.7" y="424.9" width="3.5" height="25.4" fill="#85c485"/>
<rect x="295.2" y="424.9" width="1.5" height="25.4" fill="#228422"/>
<rect x="296.7" y="424.9" width="2.0" height="25.4" fill="#2a8f2a"/>
<rect x="298.7" y="424.9" width="1.0" height="25.4" fill="#55a855"/>
<rect x="299.7" y="424.9" width="1.5" height="25.4" fill="#55a855"/>
<rect x="301.2" y="424.9" width="4.0" height="25.4" fill="#2a8f2a"/>
<rect x="305.2" y="424.9" width="1.0" height="25.4" fill="#2a8f2a"/>
<rect x="306.2" y="424.9" width="1.0" height="25.4" fill="#36983a"/>
<rect x="307.2" y="424.9" width="4.0" height="25.4" fill="#2a8f2a"/>
<rect x="311.2" y="424.9" width="3.5" height="25.4" fill="#248a24"/>
<rect x="314.7" y="424.9" width="2.0" height="25.4" fill="#2a8f2a"/>
<rect x="316.7" y="424.9" width="1.0" height="25.4" fill="#2a8f2a"/>
<rect x="317.7" y="424.9" width="1.5" height="25.4" fill="#228422"/>
<rect x="319.2" y="424.9" width="0.9" height="25.4" fill="#1a2a1a"/>
<rect x="320.1" y="424.9" width="4.0" height="25.4" fill="#228422"/>
<rect x="324.1" y="424.9" width="0.9" height="25.4" fill="#1a2a1a"/>
<rect x="325.0" y="424.9" width="2.0" height="25.4" fill="#2a8f2a"/>
<rect x="327.0" y="424.9" width="3.5" height="25.4" fill="#248a24"/>
<rect x="330.5" y="424.9" width="1.0" height="25.4" fill="#228422"/>
<rect x="331.5" y="424.9" width="1.0" height="25.4" fill="#2a8f2a"/>
<rect x="332.5" y="424.9" width="1.0" height="25.4" fill="#228422"/>
<rect x="333.5" y="424.9" width="3.5" height="25.4" fill="#248a24"/>
<rect x="337.0" y="424.9" width="1.0" height="25.4" fill="#248a24"/>
<rect x="338.0" y="424.9" width="4.0" height="25.4" fill="#248a24"/>
<rect x="342.0" y="424.9" width="2.0" height="25.4" fill="#248a24"/>
<rect x="344.0" y="424.9" width="1.0" height="25.4" fill="#46a046"/>
<rect x="345.0" y="424.9" width="1.0" height="25.4" fill="#36983a"/>
<rect x="346.0" y="424.9" width="0.9" height="25.4" fill="#1a2a1a"/>
<rect x="346.9" y="424.9" width="3.0" height="25.4" fill="#36983a"/>
<rect x="349.9" y="424.9" width="2.5" height="25.4" fill="#36983a"/>
<rect x="352.4" y="424.9" width="0.9" height="25.4" fill="#1a2a1a"/>
<rect x="353.3" y="424.9" width="2.5" height="25.4" fill="#2a8f2a"/>
<rect x="355.8" y="424.9" width="2.0" height="25.4" fill="#248a24"/>
<rect x="357.8" y="424.9" width="3.0" height="25.4" fill="#2a8f2a"/>
<rect x="360.8" y="424.9" width="2.0" height="25.4" fill="#46a046"/>
<rect x="362.8" y="424.9" width="2.5" height="25.4" fill="#2a8f2a"/>
<rect x="365.3" y="424.9" width="1.0" height="25.4" fill="#6ab56a"/>
<rect x="366.3" y="424.9" width="3.5" height="25.4" fill="#228422"/>
<rect x="369.8" y="424.9" width="3.0" height="25.4" fill="#46a046"/>
<rect x="372.8" y="424.9" width="3.5" height="25.4" fill="#228422"/>
<rect x="376.3" y="424.9" width="2.0" height="25.4" fill="#36983a"/>
<rect x="378.3" y="424.9" width="4.0" height="25.4" fill="#46a046"/>
<rect x="382.3" y="424.9" width="1.5" height="25.4" fill="#228422"/>
<rect x="383.8" y="424.9" width="0.9" height="25.4" fill="#1a2a1a"/>
<rect x="384.7" y="424.9" width="1.0" height="25.4" fill="#36983a"/>
<rect x="385.7" y="424.9" width="2.5" height="25.4" fill="#2a8f2a"/>
<rect x="388.2" y="424.9" width="0.9" height="25.4" fill="#1a2a1a"/>
<rect x="389.1" y="424.9" width="1.0" height="25.4" fill="#2a8f2a"/>
<rect x="390.1" y="424.9" width="3.0" height="25.4" fill="#228422"/>
<rect x="393.1" y="424.9" width="4.0" height="25.4" fill="#248a24"/>
<rect x="397.1" y="424.9" width="4.0" height="25.4" fill="#36983a"/>
<rect x="401.1" y="424.9" width="1.0" height="25.4" fill="#36983a"/>
<rect x="402.1" y="424.9" width="3.5" height="25.4" fill="#2a8f2a"/>
<rect x="405.6" y="424.9" width="4.0" height="25.4" fill="#2a8f2a"/>
<rect x="409.6" y="424.9" width="1.5" height="25.4" fill="#36983a"/>
<rect x="411.1" y="424.9" width="2.5" height="25.4" fill="#2a8f2a"/>
<rect x="413.6" y="424.9" width="2.0" height="25.4" fill="#36983a"/>
<rect x="415.6" y="424.9" width="2.5" height="25.4" fill="#248a24"/>
<rect x="418.1" y="424.9" width="2.5" height="25.4" fill="#228422"/>
<rect x="420.6" y="424.9" width="2.5" height="25.4" fill="#46a046"/>
<rect x="423.1" y="424.9" width="3.5" height="25.4" fill="#46a046"/>
<rect x="426.6" y="424.9" width="2.5" height="25.4" fill="#6ab56a"/>
<rect x="429.1" y="424.9" width="1.0" height="25.4" fill="#36983a"/>
<rect x="430.1" y="424.9" width="3.5" height="25.4" fill="#a9d9a9"/>
<rect x="433.6" y="424.9" width="1.5" height="25.4" fill="#2a8f2a"/>
<rect x="435.1" y="424.9" width="1.5" height="25.4" fill="#46a046"/>
<rect x="436.6" y="424.9" width="1.5" height="25.4" fill="#55a855"/>
<rect x="438.1" y="424.9" width="2.0" height="25.4" fill="#46a046"/>
<rect x="440.1" y="424.9" width="4.0" height="25.4" fill="#55a855"/>
<rect x="444.1" y="424.9" width="2.0" height="25.4" fill="#6ab56a"/>
<rect x="446.1" y="424.9" width="2.0" height="25.4" fill="#36983a"/>
<rect x="448.1" y="424.9" width="1.5" height="25.4" fill="#36983a"/>
<rect x="449.6" y="424.9" width="3.0" height="25.4" fill="#228422"/>
<rect x="452.6" y="424.9" width="3.0" height="25.4" fill="#228422"/>
<rect x="455.6" y="424.9" width="4.0" height="25.4" fill="#55a855"/>
<rect x="459.6" y="424.9" width="3.5" height="25.4" fill="#2a8f2a"/>
<rect x="463.1" y="424.9" width="1.0" height="25.4" fill="#55a855"/>
<rect x="464.1" y="424.9" width="1.0" height="25.4" fill="#36983a"/>
<rect x="465.1" y="424.9" width="1.5" height="25.4" fill="#46a046"/>
<rect x="466.6" y="424.9" width="1.0" height="25.4" fill="#a9d9a9"/>
<rect x="467.6" y="424.9" width="1.5" height="25.4" fill="#6ab56a"/>
<rect x="469.1" y="424.9" width="1.5" height="25.4" fill="#2a8f2a"/>
<rect x="470.6" y="424.9" width="1.0" height="25.4" fill="#6ab56a"/>
<rect x="471.6" y="424.9" width="1.0" height="25.4" fill="#248a24"/>
<rect x="472.6" y="424.9" width="1.0" height="25.4" fill="#2a8f2a"/>
<rect x="473.6" y="424.9" width="2.0" height="25.4" fill="#2a8f2a"/>
<rect x="475.6" y="424.9" width="2.0" height="25.4" fill="#2a8f2a"/>
<rect x="477.6" y="424.9" width="2.5" height="25.4" fill="#248a24"/>
<rect x="480.1" y="424.9" width="4.0" height="25.4" fill="#228422"/>
<rect x="484.1" y="424.9" width="1.5" height="25.4" fill="#36983a"/>
<rect x="485.6" y="424.9" width="2.0" height="25.4" fill="#2a8f2a"/>
<rect x="487.6" y="424.9" width="3.0" height="25.4" fill="#6ab56a"/>
<rect x="490.6" y="424.9" width="1.0" height="25.4" fill="#36983a"/>
<rect x="491.6" y="424.9" width="2.0" height="25.4" fill="#228422"/>
<rect x="493.6" y="424.9" width="2.0" height="25.4" fill="#2a8f2a"/>
<rect x="495.6" y="424.9" width="2.0" height="25.4" fill="#46a046"/>
<rect x="497.6" y="424.9" width="1.0" height="25.4" fill="#46a046"/>
<rect x="498.6" y="424.9" width="1.0" height="25.4" fill="#228422"/>
<rect x="499.6" y="424.9" width="4.0" height="25.4" fill="#228422"/>
<rect x="503.6" y="424.9" width="1.5" height="25.4" fill="#2a8f2a"/>
<rect x="505.1" y="424.9" width="3.0" height="25.4" fill="#2a8f2a"/>
<rect x="508.1" y="424.9" width="1.5" height="25.4" fill="#85c485"/>
<rect x="509.6" y="424.9" width="4.0" height="25.4" fill="#248a24"/>
<rect x="513.6" y="424.9" width="1.5" height="25.4" fill="#36983a"/>
<rect x="515.1" y="424.9" width="1.5" height="25.4" fill="#228422"/>
<rect x="516.6" y="424.9" width="1.5" height="25.4" fill="#228422"/>
<rect x="518.1" y="424.9" width="2.5" height="25.4" fill="#248a24"/>
<rect x="520.6" y="424.9" width="2.5" height="25.4" fill="#2a8f2a"/>
<rect x="523.1" y="424.9" width="3.0" height="25.4" fill="#36983a"/>
<rect x="526.1" y="424.9" width="3.5" height="25.4" fill="#248a24"/>
<rect x="529.6" y="424.9" width="2.5" height="25.4" fill="#248a24"/>
<rect x="532.1" y="424.9" width="1.0" height="25.4" fill="#248a24"/>
<rect x="533.1" y="424.9" width="1.0" height="25.4" fill="#2a8f2a"/>
<rect x="534.1" y="424.9" width="1.0" height="25.4" fill="#36983a"/>
<rect x="535.1" y="424.9" width="1.0" height="25.4" fill="#2a8f2a"/>
<rect x="536.1" y="424.9" width="2.5" height="25.4" fill="#46a046"/>
<rect x="538.6" y="424.9" width="1.5" height="25.4" fill="#46a046"/>
<rect x="540.1" y="424.9" width="2.5" height="25.4" fill="#55a855"/>
<rect x="542.6" y="424.9" width="1.5" height="25.4" fill="#36983a"/>
<rect x="544.1" y="424.9" width="2.0" height="25.4" fill="#248a24"/>
<rect x="546.1" y="424.9" width="3.0" height="25.4" fill="#6ab56a"/>
<rect x="549.1" y="424.9" width="2.5" height="25.4" fill="#248a24"/>
<rect x="551.6" y="424.9" width="2.0" height="25.4" fill="#46a046"/>
<rect x="553.6" y="424.9" width="2.0" height="25.4" fill="#6ab56a"/>
<rect x="555.6" y="424.9" width="1.0" height="25.4" fill="#46a046"/>
<rect x="556.6" y="424.9" width="1.0" height="25.4" fill="#2a8f2a"/>
<rect x="557.6" y="424.9" width="1.5" height="25.4" fill="#36983a"/>
<rect x="559.1" y="424.9" width="3.0" height="25.4" fill="#2a8f2a"/>
<rect x="562.1" y="424.9" width="1.5" height="25.4" fill="#2a8f2a"/>
<rect x="563.6" y="424.9" width="3.0" height="25.4" fill="#2a8f2a"/>
<rect x="566.6" y="424.9" width="1.5" height="25.4" fill="#2a8f2a"/>
<rect x="568.1" y="424.9" width="4.0" height="25.4" fill="#85c485"/>
<rect x="572.1" y="424.9" width="0.9" height="25.4" fill="#1a2a1a"/>
<rect x="573.0" y="424.9" width="4.0" height="25.4" fill="#2a8f2a"/>
<rect x="577.0" y="424.9" width="3.5" height="25.4" fill="#2a8f2a"/>
<rect x="580.5" y="424.9" width="2.0" height="25.4" fill="#6ab56a"/>
<rect x="582.5" y="424.9" width="1.5" height="25.4" fill="#2a8f2a"/>
<rect x="584.0" y="424.9" width="1.0" height="25.4" fill="#228422"/>
<rect x="585.0" y="424.9" width="2.0" height="25.4" fill="#5f9a6f"/>
<rect x="587.0" y="424.9" width="1.0" height="25.4" fill="#55a855"/>
<rect x="588.0" y="424.9" width="1.5" height="25.4" fill="#36983a"/>
<rect x="589.5" y="424.9" width="1.0" height="25.4" fill="#248a24"/>
<rect x="590.5" y="424.9" width="1.5" height="25.4" fill="#248a24"/>
<rect x="592.0" y="424.9" width="1.0" height="25.4" fill="#36983a"/>
<rect x="593.0" y="424.9" width="3.0" height="25.4" fill="#248a24"/>
<rect x="596.0" y="424.9" width="2.5" height="25.4" fill="#248a24"/>
<rect x="598.5" y="424.9" width="1.0" height="25.4" fill="#228422"/>
<rect x="599.5" y="424.9" width="2.0" height="25.4" fill="#248a24"/>
<rect x="601.5" y="424.9" width="2.5" height="25.4" fill="#2a8f2a"/>
<rect x="604.0" y="424.9" width="0.9" height="25.4" fill="#1a2a1a"/>
<rect x="604.9" y="424.9" width="1.5" height="25.4" fill="#2a8f2a"/>
<rect x="606.4" y="424.9" width="3.0" height="25.4" fill="#36983a"/>
<rect x="609.4" y="424.9" width="1.0" height="25.4" fill="#2a8f2a"/>
<rect x="610.4" y="424.9" width="1.5" height="25.4" fill="#46a046"/>
<rect x="611.9" y="424.9" width="4.0" height="25.4" fill="#2a8f2a"/>
<rect x="615.9" y="424.9" width="1.0" height="25.4" fill="#55a855"/>
<rect x="616.9" y="424.9" width="2.0" height="25.4" fill="#248a24"/>
<rect x="618.9" y="424.9" width="1.0" height="25.4" fill="#2a8f2a"/>
<rect x="619.9" y="424.9" width="0.9" height="25.4" fill="#1a2a1a"/>
<rect x="620.8" y="424.9" width="3.0" height="25.4" fill="#2a8f2a"/>
<rect x="623.8" y="424.9" width="1.5" height="25.4" fill="#2a8f2a"/>
<rect x="625.3" y="424.9" width="1.5" height="25.4" fill="#2a8f2a"/>
<rect x="626.8" y="424.9" width="2.0" height="25.4" fill="#85c485"/>
<rect x="628.8" y="424.9" width="2.0" height="25.4" fill="#248a24"/>
<rect x="630.8" y="424.9" width="3.0" height="25.4" fill="#228422"/>
<rect x="633.8" y="424.9" width="3.0" height="25.4" fill="#2a8f2a"/>
<rect x="636.8" y="424.9" width="2.0" height="25.4" fill="#46a046"/>
<rect x="638.8" y="424.9" width="1.0" height="25.4" fill="#2a8f2a"/>
<rect x="639.8" y="424.9" width="1.0" height="25.4" fill="#46a046"/>
<rect x="640.8" y="424.9" width="0.9" height="25.4" fill="#1a2a1a"/>
<rect x="641.7" y="424.9" width="1.0" height="25.4" fill="#46a046"/>
<rect x="642.7" y="424.9" width="0.9" height="25.4" fill="#1a2a1a"/>
<rect x="643.6" y="424.9" width="3.5" height="25.4" fill="#2a8f2a"/>
<rect x="647.1" y="424.9" width="0.9" height="25.4" fill="#1a2a1a"/>
<rect x="648.0" y="424.9" width="3.5" height="25.4" fill="#6ab56a"/>
<rect x="651.5" y="424.9" width="3.0" height="25.4" fill="#248a24"/>
<rect x="654.5" y="424.9" width="2.0" height="25.4" fill="#a9d9a9"/>
<rect x="656.5" y="424.9" width="0.9" height="25.4" fill="#1a2a1a"/>
<rect x="657.4" y="424.9" width="2.0" height="25.4" fill="#228422"/>
<rect x="659.4" y="424.9" width="2.5" height="25.4" fill="#2a8f2a"/>
<rect x="661.9" y="424.9" width="2.5" height="25.4" fill="#2a8f2a"/>
<rect x="664.4" y="424.9" width="2.0" height="25.4" fill="#36983a"/>
<rect x="666.4" y="424.9" width="2.5" height="25.4" fill="#2a8f2a"/>
<rect x="668.9" y="424.9" width="2.5" height="25.4" fill="#55a855"/>
<rect x="671.4" y="424.9" width="1.5" height="25.4" fill="#248a24"/>
<rect x="672.9" y="424.9" width="1.5" height="25.4" fill="#248a24"/>
<rect x="674.4" y="424.9" width="2.0" height="25.4" fill="#248a24"/>
<rect x="676.4" y="424.9" width="4.0" height="25.4" fill="#85c485"/>
<rect x="680.4" y="424.9" width="3.0" height="25.4" fill="#2a8f2a"/>
<rect x="683.4" y="424.9" width="1.0" height="25.4" fill="#55a855"/>
<rect x="684.4" y="424.9" width="1.0" height="25.4" fill="#248a24"/>
<rect x="685.4" y="424.9" width="1.0" height="25.4" fill="#6ab56a"/>
<rect x="686.4" y="424.9" width="3.0" height="25.4" fill="#36983a"/>
<rect x="689.4" y="424.9" width="2.0" height="25.4" fill="#5f9a6f"/>
<rect x="691.4" y="424.9" width="0.9" height="25.4" fill="#1a2a1a"/>
<rect x="692.3" y="424.9" width="1.5" height="25.4" fill="#248a24"/>
<rect x="693.8" y="424.9" width="1.0" height="25.4" fill="#248a24"/>
<rect x="694.8" y="424.9" width="3.0" height="25.4" fill="#2a8f2a"/>
<rect x="697.8" y="424.9" width="1.5" height="25.4" fill="#46a046"/>
<rect x="699.3" y="424.9" width="1.5" height="25.4" fill="#46a046"/>
<rect x="700.8" y="424.9" width="0.9" height="25.4" fill="#1a2a1a"/>
<rect x="701.7" y="424.9" width="1.5" height="25.4" fill="#248a24"/>
<rect x="703.2" y="424.9" width="3.5" height="25.4" fill="#36983a"/>
<rect x="706.7" y="424.9" width="4.0" height="25.4" fill="#248a24"/>
<rect x="710.7" y="424.9" width="1.5" height="25.4" fill="#36983a"/>
<rect x="712.2" y="424.9" width="1.0" height="25.4" fill="#55a855"/>
<rect x="713.2" y="424.9" width="1.0" height="25.4" fill="#55a855"/>
<rect x="714.2" y="424.9" width="2.0" height="25.4" fill="#2a8f2a"/>
<rect x="716.2" y="424.9" width="1.5" height="25.4" fill="#55a855"/>
<rect x="717.7" y="424.9" width="1.0" height="25.4" fill="#46a046"/>
<rect x="718.7" y="424.9" width="2.0" height="25.4" fill="#248a24"/>
<rect x="720.7" y="424.9" width="1.0" height="25.4" fill="#248a24"/>
<rect x="721.7" y="424.9" width="3.0" height="25.4" fill="#55a855"/>
<rect x="724.7" y="424.9" width="3.5" height="25.4" fill="#2a8f2a"/>
<rect x="728.2" y="424.9" width="1.0" height="25.4" fill="#248a24"/>
<rect x="729.2" y="424.9" width="1.0" height="25.4" fill="#85c485"/>
<rect x="730.2" y="424.9" width="2.0" height="25.4" fill="#248a24"/>
<rect x="732.2" y="424.9" width="4.0" height="25.4" fill="#36983a"/>
<rect x="736.2" y="424.9" width="1.0" height="25.4" fill="#248a24"/>
<rect x="737.2" y="424.9" width="1.0" height="25.4" fill="#2a8f2a"/>
<rect x="738.2" y="424.9" width="1.5" height="25.4" fill="#228422"/>
<rect x="739.7" y="424.9" width="4.0" height="25.4" fill="#36983a"/>
<rect x="743.7" y="424.9" width="2.5" height="25.4" fill="#248a24"/>
<rect x="746.2" y="424.9" width="4.0" height="25.4" fill="#a9d9a9"/>
<rect x="750.2" y="424.9" width="2.5" height="25.4" fill="#36983a"/>
<rect x="752.7" y="424.9" width="1.0" height="25.4" fill="#248a24"/>
<rect x="753.7" y="424.9" width="1.5" height="25.4" fill="#6ab56a"/>
<rect x="755.2" y="424.9" width="0.9" height="25.4" fill="#1a2a1a"/>
<rect x="756.1" y="424.9" width="1.5" height="25.4" fill="#248a24"/>
<rect x="757.6" y="424.9" width="3.0" height="25.4" fill="#2a8f2a"/>
<rect x="760.6" y="424.9" width="2.0" height="25.4" fill="#36983a"/>
<rect x="762.6" y="424.9" width="0.9" height="25.4" fill="#1a2a1a"/>
<rect x="763.5" y="424.9" width="3.0" height="25.4" fill="#228422"/>
<rect x="766.5" y="424.9" width="2.0" height="25.4" fill="#2a8f2a"/>
<rect x="768.5" y="424.9" width="2.5" height="25.4" fill="#248a24"/>
<rect x="771.0" y="424.9" width="3.0" height="25.4" fill="#228422"/>
<rect x="774.0" y="424.9" width="2.5" height="25.4" fill="#5f9a6f"/>
<rect x="776.5" y="424.9" width="2.0" height="25.4" fill="#a9d9a9"/>
<rect x="778.5" y="424.9" width="3.0" height="25.4" fill="#36983a"/>
<rect x="781.5" y="424.9" width="1.5" height="25.4" fill="#248a24"/>
<rect x="783.0" y="424.9" width="2.0" height="25.4" fill="#2a8f2a"/>
<rect x="785.0" y="424.9" width="2.0" height="25.4" fill="#55a855"/>
<rect x="787.0" y="424.9" width="1.5" height="25.4" fill="#85c485"/>
<rect x="788.5" y="424.9" width="1.0" height="25.4" fill="#2a8f2a"/>
<rect x="789.5" y="424.9" width="3.5" height="25.4" fill="#2a8f2a"/>
<rect x="793.0" y="424.9" width="1.0" height="25.4" fill="#2a8f2a"/>
<rect x="794.0" y="424.9" width="3.0" height="25.4" fill="#248a24"/>
<rect x="797.0" y="424.9" width="2.0" height="25.4" fill="#5f9a6f"/>
<rect x="799.0" y="424.9" width="0.9" height="25.4" fill="#1a2a1a"/>
<rect x="799.9" y="424.9" width="1.5" height="25.4" fill="#2a8f2a"/>
<rect x="801.4" y="424.9" width="2.0" height="25.4" fill="#55a855"/>
<rect x="803.4" y="424.9" width="1.0" height="25.4" fill="#36983a"/>
<rect x="804.4" y="424.9" width="3.0" height="25.4" fill="#248a24"/>
<rect x="807.4" y="424.9" width="1.0" height="25.4" fill="#2a8f2a"/>
<rect x="808.4" y="424.9" width="0.9" height="25.4" fill="#1a2a1a"/>
<rect x="809.3" y="424.9" width="1.5" height="25.4" fill="#85c485"/>
<rect x="810.8" y="424.9" width="1.5" height="25.4" fill="#a9d9a9"/>
<rect x="812.3" y="424.9" width="2.5" height="25.4" fill="#36983a"/>
<rect x="814.8" y="424.9" width="3.5" height="25.4" fill="#2a8f2a"/>
<rect x="818.3" y="424.9" width="0.9" height="25.4" fill="#1a2a1a"/>
<rect x="819.2" y="424.9" width="1.0" height="25.4" fill="#2a8f2a"/>
<rect x="820.2" y="424.9" width="3.0" height="25.4" fill="#36983a"/>
<rect x="823.2" y="424.9" width="4.0" height="25.4" fill="#36983a"/>
<rect x="827.2" y="424.9" width="1.5" height="25.4" fill="#248a24"/>
<rect x="828.7" y="424.9" width="1.5" height="25.4" fill="#5f9a6f"/>
<rect x="830.2" y="424.9" width="2.5" height="25.4" fill="#228422"/>
<rect x="832.7" y="424.9" width="2.0" height="25.4" fill="#55a855"/>
<rect x="834.7" y="424.9" width="3.5" height="25.4" fill="#2a8f2a"/>
<rect x="838.2" y="424.9" width="3.5" height="25.4" fill="#2a8f2a"/>
<rect x="841.7" y="424.9" width="1.5" height="25.4" fill="#55a855"/>
<rect x="843.2" y="424.9" width="4.0" height="25.4" fill="#248a24"/>
<rect x="847.2" y="424.9" width="4.0" height="25.4" fill="#36983a"/>
<rect x="851.2" y="424.9" width="2.0" height="25.4" fill="#228422"/>
<rect x="853.2" y="424.9" width="2.0" height="25.4" fill="#2a8f2a"/>
<rect x="855.2" y="424.9" width="2.0" height="25.4" fill="#2a8f2a"/>
<rect x="857.2" y="424.9" width="3.0" height="25.4" fill="#2a8f2a"/>
<rect x="860.2" y="424.9" width="1.5" height="25.4" fill="#46a046"/>
<rect x="861.7" y="424.9" width="2.5" height="25.4" fill="#248a24"/>
<rect x="864.2" y="424.9" width="1.0" height="25.4" fill="#a9d9a9"/>
<rect x="865.2" y="424.9" width="2.5" height="25.4" fill="#36983a"/>
<rect x="867.7" y="424.9" width="0.9" height="25.4" fill="#1a2a1a"/>
<rect x="868.6" y="424.9" width="2.5" height="25.4" fill="#2a8f2a"/>
<rect x="871.1" y="424.9" width="1.0" height="25.4" fill="#36983a"/>
<rect x="872.1" y="424.9" width="1.0" height="25.4" fill="#228422"/>
<rect x="873.1" y="424.9" width="1.0" height="25.4" fill="#46a046"/>
<rect x="874.1" y="424.9" width="1.0" height="25.4" fill="#a9d9a9"/>
<rect x="875.1" y="424.9" width="1.0" height="25.4" fill="#248a24"/>
<rect x="876.1" y="424.9" width="3.0" height="25.4" fill="#248a24"/>
<rect x="879.1" y="424.9" width="1.0" height="25.4" fill="#2a8f2a"/>
<rect x="880.1" y="424.9" width="1.5" height="25.4" fill="#2a8f2a"/>
<rect x="881.6" y="424.9" width="1.5" height="25.4" fill="#46a046"/>
<rect x="883.1" y="424.9" width="2.5" height="25.4" fill="#46a046"/>
<rect x="885.6" y="424.9" width="1.0" height="25.4" fill="#2a8f2a"/>
<rect x="886.6" y="424.9" width="2.0" height="25.4" fill="#2a8f2a"/>
<rect x="888.6" y="424.9" width="1.5" height="25.4" fill="#2a8f2a"/>
<rect x="890.1" y="424.9" width="3.5" height="25.4" fill="#2a8f2a"/>
<rect x="893.6" y="424.9" width="2.5" height="25.4" fill="#248a24"/>
<rect x="896.1" y="424.9" width="2.0" height="25.4" fill="#2a8f2a"/>
<rect x="898.1" y="424.9" width="2.0" height="25.4" fill="#2a8f2a"/>
<rect x="900.1" y="424.9" width="4.0" height="25.4" fill="#2a8f2a"/>
<rect x="904.1" y="424.9" width="2.0" height="25.4" fill="#5f9a6f"/>
<rect x="906.1" y="424.9" width="1.5" height="25.4" fill="#2a8f2a"/>
<rect x="907.6" y="424.9" width="3.0" height="25.4" fill="#2a8f2a"/>
<rect x="910.6" y="424.9" width="3.0" height="25.4" fill="#2a8f2a"/>
<rect x="913.6" y="424.9" width="3.0" height="25.4" fill="#36983a"/>
<rect x="916.6" y="424.9" width="3.5" height="25.4" fill="#248a24"/>
<rect x="920.1" y="424.9" width="1.4" height="25.4" fill="#55a855"/>
<rect x="438.6" y="424.9" width="1" height="25.4" fill="#f0f4f0"/>
<rect x="486.6" y="424.9" width="1" height="25.4" fill="#f0f4f0"/>
<rect x="516.0" y="424.9" width="1.5" height="25.4" fill="#f0f4f0"/>
<rect x="520.6" y="424.9" width="1.6" height="25.4" fill="#f0f4f0"/>
<rect x="592.2" y="424.9" width="2.6" height="25.4" fill="#d0e8d0"/>
<rect x="670.6" y="424.9" width="2.6" height="25.4" fill="#f0f4f0"/>
<rect x="682.5" y="424.9" width="1.1" height="25.4" fill="#f0f4f0"/>
<rect x="689.7" y="424.9" width="1" height="25.4" fill="#f0f4f0"/>
<rect x="728.9" y="424.9" width="1" height="25.4" fill="#f0f4f0"/>
<rect x="771.6" y="424.9" width="1.6" height="25.4" fill="#c8c8c8"/>
<rect x="787.5" y="424.9" width="1.5" height="25.4" fill="#b0b0b0"/>
<rect x="849.0" y="424.9" width="2.1" height="25.4" fill="#f0f4f0"/>
<rect x="870.0" y="424.9" width="1.6" height="25.4" fill="#f0f4f0"/>
<rect x="910.1" y="424.9" width="3.6" height="25.4" fill="#f4f6f4"/>
<rect x="913.9" y="424.9" width="2.8" height="25.4" fill="#2e2a30"/>
<rect x="916.6" y="424.9" width="1.2" height="25.4" fill="#f0f0f0"/>
<rect x="425.8" y="424.9" width="2" height="25.4" fill="#f0f4f0"/>
<rect x="140.0" y="424.9" width="2" height="25.4" fill="#9fd49f"/>
<rect x="157.0" y="424.9" width="1.7" height="25.4" fill="#9fd49f"/>
<rect x="178.0" y="424.9" width="6" height="25.4" fill="#5fb05f"/>
<rect x="194.8" y="424.9" width="3.2" height="25.4" fill="#9fd49f"/>
<rect x="213.5" y="424.9" width="4" height="25.4" fill="#9fd49f"/>
<rect x="229.4" y="424.9" width="1.6" height="25.4" fill="#9fd49f"/>
<rect x="243.7" y="424.9" width="2" height="25.4" fill="#9fd49f"/>
<rect x="328.9" y="424.9" width="1.5" height="25.4" fill="#9fd49f"/>
<rect x="333.4" y="424.9" width="1.5" height="25.4" fill="#9fd49f"/>
<rect x="340.6" y="424.9" width="2" height="25.4" fill="#9fd49f"/>
<rect x="362.3" y="424.9" width="1" height="25.4" fill="#9fd49f"/>
<rect x="376.8" y="424.9" width="2" height="25.4" fill="#9fd49f"/>
<rect x="390.7" y="424.9" width="2" height="25.4" fill="#9fd49f"/>
<rect x="412.4" y="424.9" width="2" height="25.4" fill="#9fd49f"/>
<rect x="433.0" y="424.9" width="2" height="25.4" fill="#9fd49f"/>
<rect x="447.4" y="424.9" width="3" height="25.4" fill="#9fd49f"/>
<rect x="457.7" y="424.9" width="1" height="25.4" fill="#9fd49f"/>
<rect x="461.3" y="424.9" width="1" height="25.4" fill="#9fd49f"/>
<rect x="489.6" y="424.9" width="2.5" height="25.4" fill="#9fd49f"/>
<rect x="502.0" y="424.9" width="2" height="25.4" fill="#9fd49f"/>
<rect x="509.3" y="424.9" width="1" height="25.4" fill="#9fd49f"/>
<rect x="528.9" y="424.9" width="1" height="25.4" fill="#9fd49f"/>
<rect x="543.7" y="424.9" width="2" height="25.4" fill="#9fd49f"/>
<rect x="554.6" y="424.9" width="1.5" height="25.4" fill="#8a9a8a"/>
<rect x="573.6" y="424.9" width="1.5" height="25.4" fill="#9fd49f"/>
<rect x="577.8" y="424.9" width="1" height="25.4" fill="#9fd49f"/>
<rect x="597.9" y="424.9" width="1" height="25.4" fill="#9fd49f"/>
<rect x="606.2" y="424.9" width="1" height="25.4" fill="#9fd49f"/>
<rect x="620.6" y="424.9" width="1.6" height="25.4" fill="#9fd49f"/>
<rect x="639.0" y="424.9" width="3.2" height="25.4" fill="#9fd49f"/>
<rect x="646.3" y="424.9" width="2.6" height="25.4" fill="#9fd49f"/>
<rect x="653.5" y="424.9" width="1" height="25.4" fill="#9fd49f"/>
<rect x="677.3" y="424.9" width="2" height="25.4" fill="#9fd49f"/>
<rect x="692.3" y="424.9" width="1" height="25.4" fill="#9fd49f"/>
<rect x="702.0" y="424.9" width="2" height="25.4" fill="#9fd49f"/>
<rect x="731.5" y="424.9" width="1" height="25.4" fill="#9fd49f"/>
<rect x="736.0" y="424.9" width="2" height="25.4" fill="#9fd49f"/>
<rect x="741.6" y="424.9" width="1.5" height="25.4" fill="#9fd49f"/>
<rect x="777.3" y="424.9" width="5" height="25.4" fill="#7cc47c"/>
<rect x="793.8" y="424.9" width="2" height="25.4" fill="#9fd49f"/>
<rect x="805.2" y="424.9" width="4" height="25.4" fill="#7cc47c"/>
<rect x="818.1" y="424.9" width="1" height="25.4" fill="#9fd49f"/>
<rect x="823.7" y="424.9" width="2" height="25.4" fill="#9fd49f"/>
<rect x="862.3" y="424.9" width="1.6" height="25.4" fill="#9fd49f"/>
<rect x="885.5" y="424.9" width="2" height="25.4" fill="#9fd49f"/>
<rect x="919.0" y="424.9" width="2.5" height="25.4" fill="#cccccc"/>
<rect x="320.6" y="424.9" width="4.2" height="25.4" fill="#1f3a1f"/>
<rect x="759.0" y="424.9" width="2" height="25.4" fill="#2a2a2a"/>
<rect x="146.3" y="424.9" width="1.6" height="25.4" fill="#080808"/>
<rect x="163.9" y="424.9" width="1" height="25.4" fill="#080808"/>
<rect x="169.5" y="424.9" width="1" height="25.4" fill="#080808"/>
<rect x="173.7" y="424.9" width="1" height="25.4" fill="#080808"/>
<rect x="183.5" y="424.9" width="1" height="25.4" fill="#080808"/>
<rect x="191.2" y="424.9" width="1" height="25.4" fill="#080808"/>
<rect x="206.6" y="424.9" width="1.6" height="25.4" fill="#080808"/>
<rect x="211.7" y="424.9" width="1.2" height="25.4" fill="#080808"/>
<rect x="222.2" y="424.9" width="1" height="25.4" fill="#080808"/>
<rect x="233.0" y="424.9" width="1" height="25.4" fill="#080808"/>
<rect x="236.0" y="424.9" width="1" height="25.4" fill="#080808"/>
<rect x="242.2" y="424.9" width="1" height="25.4" fill="#080808"/>
<rect x="245.8" y="424.9" width="1" height="25.4" fill="#080808"/>
<rect x="254.0" y="424.9" width="1.6" height="25.4" fill="#080808"/>
<rect x="257.7" y="424.9" width="1" height="25.4" fill="#080808"/>
<rect x="268.9" y="424.9" width="1.1" height="25.4" fill="#080808"/>
<rect x="276.8" y="424.9" width="1.1" height="25.4" fill="#080808"/>
<rect x="286.1" y="424.9" width="1" height="25.4" fill="#080808"/>
<rect x="294.2" y="424.9" width="1.1" height="25.4" fill="#080808"/>
<rect x="304.1" y="424.9" width="1.1" height="25.4" fill="#080808"/>
<rect x="307.7" y="424.9" width="1" height="25.4" fill="#080808"/>
<rect x="313.3" y="424.9" width="1.1" height="25.4" fill="#080808"/>
<rect x="330.3" y="424.9" width="2.1" height="25.4" fill="#080808"/>
<rect x="338.6" y="424.9" width="1.1" height="25.4" fill="#080808"/>
<rect x="353.4" y="424.9" width="1.1" height="25.4" fill="#080808"/>
<rect x="360.3" y="424.9" width="1" height="25.4" fill="#080808"/>
<rect x="375.1" y="424.9" width="1.1" height="25.4" fill="#080808"/>
<rect x="388.1" y="424.9" width="1" height="25.4" fill="#080808"/>
<rect x="410.8" y="424.9" width="1" height="25.4" fill="#080808"/>
<rect x="422.7" y="424.9" width="1" height="25.4" fill="#080808"/>
<rect x="430.9" y="424.9" width="1.1" height="25.4" fill="#080808"/>
<rect x="437.0" y="424.9" width="1" height="25.4" fill="#080808"/>
<rect x="440.1" y="424.9" width="1" height="25.4" fill="#080808"/>
<rect x="444.8" y="424.9" width="1.5" height="25.4" fill="#080808"/>
<rect x="452.4" y="424.9" width="1.5" height="25.4" fill="#080808"/>
<rect x="463.8" y="424.9" width="1.1" height="25.4" fill="#080808"/>
<rect x="469.0" y="424.9" width="4.2" height="25.4" fill="#080808"/>
<rect x="475.2" y="424.9" width="1.6" height="25.4" fill="#080808"/>
<rect x="481.4" y="424.9" width="2.6" height="25.4" fill="#080808"/>
<rect x="493.8" y="424.9" width="1.5" height="25.4" fill="#080808"/>
<rect x="498.5" y="424.9" width="1" height="25.4" fill="#080808"/>
<rect x="505.7" y="424.9" width="1" height="25.4" fill="#080808"/>
<rect x="514.5" y="424.9" width="1.1" height="25.4" fill="#080808"/>
<rect x="518.1" y="424.9" width="1" height="25.4" fill="#080808"/>
<rect x="522.7" y="424.9" width="1.1" height="25.4" fill="#080808"/>
<rect x="530.9" y="424.9" width="3.1" height="25.4" fill="#080808"/>
<rect x="540.6" y="424.9" width="1.6" height="25.4" fill="#080808"/>
<rect x="549.4" y="424.9" width="4.6" height="25.4" fill="#080808"/>
<rect x="557.2" y="424.9" width="1.5" height="25.4" fill="#080808"/>
<rect x="571.6" y="424.9" width="1.1" height="25.4" fill="#080808"/>
<rect x="589.7" y="424.9" width="1.1" height="25.4" fill="#080808"/>
<rect x="596.0" y="424.9" width="1.5" height="25.4" fill="#080808"/>
<rect x="608.2" y="424.9" width="1.6" height="25.4" fill="#080808"/>
<rect x="619.6" y="424.9" width="1.1" height="25.4" fill="#080808"/>
<rect x="625.2" y="424.9" width="1.5" height="25.4" fill="#080808"/>
<rect x="629.4" y="424.9" width="1.1" height="25.4" fill="#080808"/>
<rect x="633.0" y="424.9" width="1.6" height="25.4" fill="#080808"/>
<rect x="637.5" y="424.9" width="1" height="25.4" fill="#080808"/>
<rect x="644.8" y="424.9" width="1" height="25.4" fill="#080808"/>
<rect x="651.0" y="424.9" width="2" height="25.4" fill="#080808"/>
<rect x="667.5" y="424.9" width="2.5" height="25.4" fill="#080808"/>
<rect x="675.2" y="424.9" width="1" height="25.4" fill="#080808"/>
<rect x="679.9" y="424.9" width="2" height="25.4" fill="#080808"/>
<rect x="684.0" y="424.9" width="4.6" height="25.4" fill="#080808"/>
<rect x="695.4" y="424.9" width="1" height="25.4" fill="#080808"/>
<rect x="705.1" y="424.9" width="2.1" height="25.4" fill="#080808"/>
<rect x="713.9" y="424.9" width="1.1" height="25.4" fill="#080808"/>
<rect x="726.8" y="424.9" width="1.1" height="25.4" fill="#080808"/>
<rect x="756.1" y="424.9" width="7.8" height="25.4" fill="#080808"/>
<rect x="770.6" y="424.9" width="1" height="25.4" fill="#080808"/>
<rect x="773.2" y="424.9" width="1" height="25.4" fill="#080808"/>
<rect x="786.1" y="424.9" width="1" height="25.4" fill="#080808"/>
<rect x="790.2" y="424.9" width="1.5" height="25.4" fill="#080808"/>
<rect x="799.5" y="424.9" width="2.5" height="25.4" fill="#080808"/>
<rect x="803.6" y="424.9" width="1" height="25.4" fill="#080808"/>
<rect x="814.5" y="424.9" width="3.1" height="25.4" fill="#080808"/>
<rect x="819.6" y="424.9" width="1" height="25.4" fill="#080808"/>
<rect x="821.8" y="424.9" width="1.5" height="25.4" fill="#080808"/>
<rect x="825.3" y="424.9" width="1" height="25.4" fill="#080808"/>
<rect x="833.5" y="424.9" width="2.5" height="25.4" fill="#080808"/>
<rect x="836.0" y="424.9" width="1.5" height="25.4" fill="#080808"/>
<rect x="838.6" y="424.9" width="1" height="25.4" fill="#080808"/>
<rect x="842.2" y="424.9" width="2.6" height="25.4" fill="#080808"/>
<rect x="847.4" y="424.9" width="1" height="25.4" fill="#080808"/>
<rect x="857.2" y="424.9" width="4.1" height="25.4" fill="#080808"/>
<rect x="864.4" y="424.9" width="1" height="25.4" fill="#080808"/>
<rect x="871.6" y="424.9" width="1" height="25.4" fill="#080808"/>
<rect x="877.8" y="424.9" width="1" height="25.4" fill="#080808"/>
<rect x="882.5" y="424.9" width="1.1" height="25.4" fill="#080808"/>
<rect x="892.2" y="424.9" width="3.1" height="25.4" fill="#080808"/>
<rect x="902.1" y="424.9" width="1" height="25.4" fill="#080808"/>
<rect x="918.0" y="424.9" width="1.0" height="25.4" fill="#080808"/>
<line x1="138.5" y1="424.9" x2="921.5" y2="424.9" stroke="#111" stroke-width="1.0"/>
<line x1="138.5" y1="450.3" x2="921.5" y2="450.3" stroke="#000" stroke-width="1.4"/>
<line x1="921.5" y1="424.9" x2="921.5" y2="450.3" stroke="#888" stroke-width="0.8"/>
<line x1="138.2" y1="39" x2="138.2" y2="451.5" stroke="#000" stroke-width="2.2"/>
<rect x="152" y="40.3" width="12" height="10.6" fill="#0000ff"/>
<text transform="translate(169.80,50.90) scale(1.070,1)" font-size="18" font-weight="bold" font-style="normal" fill="#000" text-anchor="start" >WT</text>
<rect x="152" y="61.9" width="12" height="10.6" fill="#ff0000"/>
<text transform="translate(170.0,72.5) scale(1.07,1)" font-size="18" font-weight="bold" font-style="italic">spt4<tspan font-style="normal" font-weight="normal">&#916;</tspan></text>
<rect x="152" y="83.5" width="12" height="10.6" fill="#000"/>
<text transform="translate(169.80,94.10) scale(1.070,1)" font-size="18" font-weight="bold" font-style="normal" fill="#000" text-anchor="start" >Decreased Occupancy</text>
<rect x="152" y="105.1" width="12" height="10.6" fill="#2e8b2e"/>
<text transform="translate(169.80,115.70) scale(1.070,1)" font-size="18" font-weight="bold" font-style="normal" fill="#000" text-anchor="start" >Increased Occupancy</text>
<rect x="152.5" y="126.8" width="11" height="10.4" fill="#fff" stroke="#888" stroke-width="1"/>
<text transform="translate(169.80,137.30) scale(1.070,1)" font-size="18" font-weight="bold" font-style="normal" fill="#000" text-anchor="start" >No Change in Occupancy</text>
<rect x="137.8" y="462.1" width="78.2" height="33" fill="#cfd0d2" stroke="#3a3a3a" stroke-width="1.5"/>
<rect x="422.0" y="462.1" width="44.0" height="33" fill="#cfd0d2" stroke="#3a3a3a" stroke-width="1.5"/>
<rect x="481.0" y="462.1" width="30.0" height="33" fill="#cfd0d2" stroke="#3a3a3a" stroke-width="1.5"/>
<rect x="895.0" y="462.1" width="25.6" height="33" fill="#cfd0d2" stroke="#3a3a3a" stroke-width="1.5"/>
<rect x="216.3" y="456.6" width="206.0" height="43.8" fill="#165040" stroke="#0b2018" stroke-width="1.3"/>
<rect x="465.4" y="456.6" width="15.9" height="43.8" fill="#165040" stroke="#0b2018" stroke-width="1.3"/>
<rect x="510.3" y="456.6" width="385.2" height="43.8" fill="#165040" stroke="#0b2018" stroke-width="1.3"/>
<line x1="177.7" y1="501" x2="177.7" y2="520.5" stroke="#000" stroke-width="2.4"/>
<line x1="315.0" y1="501" x2="315.0" y2="520.5" stroke="#000" stroke-width="2.4"/>
<line x1="473.3" y1="501" x2="473.3" y2="520.5" stroke="#000" stroke-width="2.4"/>
<line x1="702.0" y1="501" x2="702.0" y2="520.5" stroke="#000" stroke-width="2.4"/>
<line x1="907.2" y1="501" x2="907.2" y2="520.5" stroke="#000" stroke-width="2.4"/>
<line x1="442.6" y1="501.4" x2="421.7" y2="520.2" stroke="#000" stroke-width="2.4"/>
<line x1="496.1" y1="501.4" x2="516.7" y2="520.2" stroke="#000" stroke-width="2.4"/>
<text transform="translate(176.80,546.40) scale(1.090,1)" font-size="27.2" font-weight="bold" font-style="normal" fill="#000" text-anchor="middle" >ETS1</text>
<text transform="translate(317.90,547.40) scale(1.090,1)" font-size="27.2" font-weight="bold" font-style="normal" fill="#000" text-anchor="middle" >18S</text>
<text transform="translate(398.10,548.90)" font-size="28.0" font-weight="bold" font-style="normal" fill="#000" text-anchor="middle" >ITS1</text>
<text transform="translate(471.50,547.60) scale(1.090,1)" font-size="27.2" font-weight="bold" font-style="normal" fill="#000" text-anchor="middle" >5.8S</text>
<text transform="translate(550.70,548.00) scale(1.090,1)" font-size="27.2" font-weight="bold" font-style="normal" fill="#000" text-anchor="middle" >ITS2</text>
<text transform="translate(701.60,548.00) scale(1.090,1)" font-size="27.2" font-weight="bold" font-style="normal" fill="#000" text-anchor="middle" >25S</text>
<text transform="translate(907.70,547.40) scale(1.090,1)" font-size="27.2" font-weight="bold" font-style="normal" fill="#000" text-anchor="middle" >ETS2</text>
<rect x="489" y="570.3" width="11.8" height="10.2" fill="#165040"/>
<text transform="translate(504.30,580.50) scale(1.200,1)" font-size="15.6" font-weight="bold" font-style="normal" fill="#000" text-anchor="start" >Gene</text>
<rect x="561.7" y="570.6" width="10.6" height="9.7" fill="#cfd0d2" stroke="#999" stroke-width="0.8"/>
<text transform="translate(577.40,580.50) scale(1.200,1)" font-size="15.6" font-weight="bold" font-style="normal" fill="#000" text-anchor="start" >Spacer</text>
<text transform="translate(565.90,612.20) scale(1.060,1)" font-size="30.1" font-weight="bold" font-style="normal" fill="#000" text-anchor="middle" >35S Gene</text>
<text transform="translate(8.60,626.10) scale(1.020,1)" font-size="38.2" font-weight="bold" font-style="normal" fill="#000" text-anchor="start" >B.</text>
<rect x="84.5" y="667.5" width="403.0" height="386.0" fill="#fff"/>
<line x1="84.5" y1="714.5" x2="487.5" y2="714.5" stroke="#f2f2f2" stroke-width="1.2"/>
<line x1="84.5" y1="810.5" x2="487.5" y2="810.5" stroke="#f2f2f2" stroke-width="1.2"/>
<line x1="84.5" y1="906.5" x2="487.5" y2="906.5" stroke="#f2f2f2" stroke-width="1.2"/>
<line x1="84.5" y1="1001.5" x2="487.5" y2="1001.5" stroke="#f2f2f2" stroke-width="1.2"/>
<line x1="155.5" y1="667.5" x2="155.5" y2="1053.5" stroke="#f2f2f2" stroke-width="1.2"/>
<line x1="263.5" y1="667.5" x2="263.5" y2="1053.5" stroke="#f2f2f2" stroke-width="1.2"/>
<line x1="370.5" y1="667.5" x2="370.5" y2="1053.5" stroke="#f2f2f2" stroke-width="1.2"/>
<line x1="477.5" y1="667.5" x2="477.5" y2="1053.5" stroke="#f2f2f2" stroke-width="1.2"/>
<line x1="84.5" y1="762.5" x2="487.5" y2="762.5" stroke="#e6e6e6" stroke-width="1.2"/>
<line x1="84.5" y1="858.5" x2="487.5" y2="858.5" stroke="#e6e6e6" stroke-width="1.2"/>
<line x1="84.5" y1="953.5" x2="487.5" y2="953.5" stroke="#e6e6e6" stroke-width="1.2"/>
<line x1="84.5" y1="1049.5" x2="487.5" y2="1049.5" stroke="#e6e6e6" stroke-width="1.2"/>
<line x1="102.5" y1="667.5" x2="102.5" y2="1053.5" stroke="#e6e6e6" stroke-width="1.2"/>
<line x1="209.5" y1="667.5" x2="209.5" y2="1053.5" stroke="#e6e6e6" stroke-width="1.2"/>
<line x1="316.5" y1="667.5" x2="316.5" y2="1053.5" stroke="#e6e6e6" stroke-width="1.2"/>
<line x1="423.5" y1="667.5" x2="423.5" y2="1053.5" stroke="#e6e6e6" stroke-width="1.2"/>
<path d="M108.6,1007.6 L110.0,1003.4 L111.5,1001.3 L113.1,998.2 L114.2,1009.6 L116.3,1011.7 L118.3,1014.8 L120.4,1007.6 L122.5,1009.6 L124.6,1005.5 L126.7,1009.6 L128.7,1007.6 L130.8,1011.7 L132.9,1013.8 L135.0,1020.0 L136.4,999.2 L138.1,978.4 L140.2,957.6 L142.3,926.4 L144.4,893.1 L146.0,876.5 L147.5,889.0 L148.9,905.6 L150.2,899.4 L151.8,897.3 L153.3,909.8 L154.8,905.6 L156.8,903.5 L158.5,884.8 L160.6,834.9 L162.0,841.1 L163.5,847.4 L165.2,839.1 L166.4,847.4 L167.9,805.8 L169.3,795.4 L171.0,843.2 L172.4,845.3 L173.9,851.5 L175.6,864.0 L177.2,880.7 L178.7,905.6 L180.1,928.5 L181.8,905.6 L183.9,884.8 L186.0,868.2 L188.1,872.3 L190.1,864.0 L192.2,893.1 L194.3,901.5 L196.4,895.2 L198.0,905.6 L200.1,913.9 L201.6,903.5 L203.7,884.8 L206.4,874.4 L208.5,889.0 L211.0,901.5 L213.0,911.9 L215.1,922.3 L217.2,947.2 L219.3,941.0 L221.4,947.2 L223.4,938.9 L225.5,943.1 L228.6,947.2 L231.1,922.3 L232.8,947.2 L233.8,959.7 L235.9,974.3 L238.0,978.4 L240.1,988.8 L242.2,1026.3 L244.2,1026.3 L247.4,1029.4 L250.5,1032.5 L252.6,968.0 L254.7,947.2 L256.7,918.1 L258.8,880.7 L259.9,847.4 L261.9,845.3 L263.0,884.8 L265.1,920.2 L267.1,934.7 L269.2,978.4 L270.9,1018.0 L272.3,1022.1 L274.4,999.2 L276.5,984.7 L278.6,963.9 L281.7,898.7 L283.3,900.9 L284.8,894.4 L286.5,898.7 L288.2,892.2 L289.8,890.1 L291.9,881.4 L293.4,868.4 L295.2,840.2 L296.9,846.7 L298.4,842.4 L299.9,831.5 L301.2,842.4 L302.8,868.4 L304.3,894.4 L306.0,924.8 L307.7,926.9 L309.3,924.8 L310.8,937.8 L312.5,944.3 L314.2,939.9 L315.8,929.1 L317.3,937.8 L319.0,944.3 L321.2,922.6 L323.3,892.2 L325.5,877.1 L327.7,868.4 L329.8,855.4 L331.6,866.2 L333.7,874.9 L335.9,885.7 L338.1,866.2 L340.3,868.4 L342.4,870.6 L344.6,877.1 L346.1,900.9 L348.3,931.3 L350.4,926.9 L352.6,916.1 L354.8,898.7 L356.9,894.4 L359.1,892.2 L360.6,900.9 L362.4,909.6 L364.5,911.7 L366.3,933.4 L368.4,924.8 L370.6,892.2 L372.8,881.4 L374.9,842.4 L377.1,807.7 L378.6,809.9 L380.1,851.0 L381.9,861.9 L383.6,844.5 L385.1,861.9 L387.3,887.9 L389.4,887.9 L391.0,831.5 L392.3,805.5 L394.4,822.9 L396.6,825.0 L398.8,842.4 L400.3,859.7 L402.5,877.1 L404.6,868.4 L406.8,870.6 L409.0,859.7 L411.1,853.2 L413.3,861.9 L415.5,848.9 L417.6,855.4 L419.8,840.2 L422.0,848.9 L424.1,846.7 L426.3,861.9 L428.5,868.4 L430.6,877.1 L432.8,872.7 L435.0,859.7 L437.1,881.4 L439.3,887.9 L440.8,829.4 L442.5,827.2 L444.3,833.7 L445.8,842.4 L446.9,864.1 L449.1,842.4 L451.2,864.1 L453.4,844.5 L455.6,864.1 L457.7,890.1 L459.9,933.4 L462.1,976.8 L463.8,1035.3" stroke="#1010f0" stroke-width="1.35" fill="none" stroke-linejoin="round"/>
<path d="M108.6,970.1 L110.0,964.9 L111.5,968.0 L113.1,960.7 L114.2,976.4 L115.2,984.7 L118.3,988.8 L121.0,973.2 L123.5,977.4 L126.7,978.4 L128.7,983.6 L130.8,977.4 L131.9,988.8 L133.9,990.9 L135.6,1000.3 L137.1,978.4 L138.5,959.7 L140.2,947.2 L142.3,926.4 L144.4,893.1 L146.0,872.3 L147.5,884.8 L148.9,901.5 L150.2,897.3 L151.8,901.5 L153.7,918.1 L154.8,913.9 L156.8,905.6 L158.9,884.8 L161.0,849.5 L163.1,857.8 L165.2,847.4 L166.8,828.6 L168.3,801.6 L169.7,794.3 L171.0,820.3 L172.4,834.9 L173.9,830.7 L175.6,851.5 L177.2,868.2 L178.7,893.1 L180.1,918.1 L181.8,891.1 L183.9,876.5 L186.0,857.8 L188.1,864.0 L189.1,872.3 L190.6,849.5 L192.2,889.0 L194.3,895.2 L196.4,876.5 L198.0,874.4 L199.5,880.7 L201.6,872.3 L203.7,857.8 L205.7,848.4 L207.2,855.7 L208.9,876.5 L211.0,886.9 L213.0,893.1 L215.1,901.5 L217.2,926.4 L219.3,930.6 L221.4,924.3 L223.4,916.0 L225.5,913.9 L227.6,918.1 L229.7,905.6 L231.1,884.8 L232.8,909.8 L233.8,959.7 L235.9,963.9 L238.0,968.0 L240.1,984.7 L242.2,1018.0 L244.2,1022.1 L247.4,1022.1 L250.5,1024.2 L252.6,972.2 L254.7,959.7 L256.7,926.4 L258.4,909.8 L259.9,895.2 L261.3,893.1 L263.0,926.4 L265.1,957.6 L267.1,968.0 L269.2,995.1 L270.9,1022.1 L272.3,1022.1 L273.4,1005.5 L275.5,988.8 L277.5,972.2 L279.6,947.2 L281.1,924.8 L282.6,916.1 L284.3,913.9 L286.5,920.4 L288.7,916.1 L290.8,918.2 L292.6,911.7 L294.1,894.4 L295.6,877.1 L297.3,874.9 L299.5,857.6 L300.6,864.1 L301.7,874.9 L303.8,894.4 L305.6,916.1 L307.1,922.6 L308.6,920.4 L310.3,933.4 L312.1,942.1 L313.6,931.3 L315.1,926.9 L316.8,933.4 L318.6,937.8 L320.1,946.4 L322.3,918.2 L324.0,898.7 L325.5,890.1 L327.7,887.9 L329.8,890.1 L331.6,903.1 L333.1,911.7 L335.3,913.9 L337.4,898.7 L339.6,890.1 L341.8,883.6 L343.9,881.4 L346.1,900.9 L348.3,922.6 L350.4,924.8 L352.6,926.9 L354.8,924.8 L356.9,924.8 L358.5,916.1 L360.2,920.4 L362.4,924.8 L364.5,935.6 L366.7,939.9 L368.4,935.6 L370.6,892.2 L372.1,892.2 L373.6,868.4 L375.4,829.4 L377.5,800.1 L379.3,814.2 L380.8,861.9 L382.9,868.4 L385.1,872.7 L387.3,900.9 L388.4,918.2 L390.1,894.4 L392.3,881.4 L394.4,885.7 L396.6,894.4 L398.8,883.6 L400.9,890.1 L402.5,866.2 L404.6,865.1 L406.8,868.4 L409.0,872.7 L411.1,877.1 L413.3,890.1 L415.5,877.1 L417.6,887.9 L419.8,881.4 L422.0,890.1 L424.1,903.1 L426.3,911.7 L428.5,916.1 L430.6,920.4 L432.8,911.7 L435.0,918.2 L437.1,916.1 L439.3,916.1 L439.6,719.9 L441.2,698.3 L442.4,703.3 L443.6,709.9 L444.6,708.3 L445.7,714.9 L446.9,718.3 L448.2,703.3 L449.6,685.0 L450.2,709.9 L451.2,881.4 L452.3,903.1 L453.4,872.7 L455.6,877.1 L457.7,907.4 L459.9,933.4 L462.1,976.8 L463.8,1035.3" stroke="#e81818" stroke-width="1.35" fill="none" stroke-linejoin="round"/>
<rect x="84.5" y="667.5" width="403.0" height="386.0" fill="none" stroke="#929292" stroke-width="1.4"/>
<line x1="81.7" y1="762.3" x2="84.5" y2="762.3" stroke="#444" stroke-width="1"/>
<text transform="translate(80.20,766.50) scale(1.020,1)" font-size="15.2" font-weight="normal" font-style="normal" fill="#111" text-anchor="end" >300</text>
<line x1="81.7" y1="858.1" x2="84.5" y2="858.1" stroke="#444" stroke-width="1"/>
<text transform="translate(80.20,862.30) scale(1.020,1)" font-size="15.2" font-weight="normal" font-style="normal" fill="#111" text-anchor="end" >200</text>
<line x1="81.7" y1="953.9" x2="84.5" y2="953.9" stroke="#444" stroke-width="1"/>
<text transform="translate(80.20,958.10) scale(1.020,1)" font-size="15.2" font-weight="normal" font-style="normal" fill="#111" text-anchor="end" >100</text>
<line x1="81.7" y1="1049.8" x2="84.5" y2="1049.8" stroke="#444" stroke-width="1"/>
<text transform="translate(80.20,1054.00) scale(1.020,1)" font-size="15.2" font-weight="normal" font-style="normal" fill="#111" text-anchor="end" >0</text>
<line x1="102.2" y1="1053.5" x2="102.2" y2="1056.3" stroke="#444" stroke-width="1"/>
<text transform="translate(102.20,1068.10) scale(1.030,1)" font-size="15.5" font-weight="normal" font-style="normal" fill="#111" text-anchor="middle" >0</text>
<line x1="209.4" y1="1053.5" x2="209.4" y2="1056.3" stroke="#444" stroke-width="1"/>
<text transform="translate(209.40,1068.10) scale(1.030,1)" font-size="15.5" font-weight="normal" font-style="normal" fill="#111" text-anchor="middle" >2000</text>
<line x1="316.5" y1="1053.5" x2="316.5" y2="1056.3" stroke="#444" stroke-width="1"/>
<text transform="translate(316.50,1068.10) scale(1.030,1)" font-size="15.5" font-weight="normal" font-style="normal" fill="#111" text-anchor="middle" >4000</text>
<line x1="423.6" y1="1053.5" x2="423.6" y2="1056.3" stroke="#444" stroke-width="1"/>
<text transform="translate(423.60,1068.10) scale(1.030,1)" font-size="15.5" font-weight="normal" font-style="normal" fill="#111" text-anchor="middle" >6000</text>
<text transform="translate(271.05,662.50) scale(1.160,1)" font-size="21.0" font-weight="bold" font-style="normal" fill="#000" text-anchor="middle" >200 Window Size</text>
<rect x="85.5" y="668.5" width="121" height="44.8" fill="#fff"/>
<rect x="94.8" y="676.4" width="11.4" height="10.7" fill="#0000ff"/>
<rect x="94.8" y="698.3" width="11.4" height="10.7" fill="#ff0000"/>
<text transform="translate(114.50,687.70) scale(1.080,1)" font-size="16.4" font-weight="bold" font-style="normal" fill="#000" text-anchor="start" >WT</text>
<text transform="translate(114.5,709.3) scale(1.08,1)" font-size="16.4" font-weight="bold" font-style="italic">spt4<tspan font-style="normal" font-weight="normal">&#916;</tspan></text>
<text transform="translate(46.30,872.00) rotate(-90) scale(1,1.030)" font-size="19.7" font-weight="bold" font-style="normal" fill="#000" text-anchor="middle" >Median Pol I Occupancy</text>
<text transform="translate(277.20,1094.30) scale(1.080,1)" font-size="19.5" font-weight="bold" font-style="normal" fill="#000" text-anchor="middle" >Coordinates</text>
<rect x="84.5" y="667.5" width="403.0" height="386.0" fill="none" stroke="#929292" stroke-width="1.4"/>
<text transform="translate(486.8,1050.6) scale(1.065,1)" font-size="18" font-weight="bold" text-anchor="end"><tspan font-style="italic">p</tspan>-value &lt; 2.2 &#215; 10<tspan font-size="12.5" dy="-7">&#8722;16</tspan></text>
<rect x="560.0" y="667.5" width="403.5" height="386.0" fill="#fff"/>
<line x1="560.0" y1="712.5" x2="963.5" y2="712.5" stroke="#f2f2f2" stroke-width="1.2"/>
<line x1="560.0" y1="819.5" x2="963.5" y2="819.5" stroke="#f2f2f2" stroke-width="1.2"/>
<line x1="560.0" y1="926.5" x2="963.5" y2="926.5" stroke="#f2f2f2" stroke-width="1.2"/>
<line x1="560.0" y1="1033.5" x2="963.5" y2="1033.5" stroke="#f2f2f2" stroke-width="1.2"/>
<line x1="631.5" y1="667.5" x2="631.5" y2="1053.5" stroke="#f2f2f2" stroke-width="1.2"/>
<line x1="738.5" y1="667.5" x2="738.5" y2="1053.5" stroke="#f2f2f2" stroke-width="1.2"/>
<line x1="845.5" y1="667.5" x2="845.5" y2="1053.5" stroke="#f2f2f2" stroke-width="1.2"/>
<line x1="952.5" y1="667.5" x2="952.5" y2="1053.5" stroke="#f2f2f2" stroke-width="1.2"/>
<line x1="560.0" y1="766.5" x2="963.5" y2="766.5" stroke="#e6e6e6" stroke-width="1.2"/>
<line x1="560.0" y1="873.5" x2="963.5" y2="873.5" stroke="#e6e6e6" stroke-width="1.2"/>
<line x1="560.0" y1="980.5" x2="963.5" y2="980.5" stroke="#e6e6e6" stroke-width="1.2"/>
<line x1="578.5" y1="667.5" x2="578.5" y2="1053.5" stroke="#e6e6e6" stroke-width="1.2"/>
<line x1="684.5" y1="667.5" x2="684.5" y2="1053.5" stroke="#e6e6e6" stroke-width="1.2"/>
<line x1="791.5" y1="667.5" x2="791.5" y2="1053.5" stroke="#e6e6e6" stroke-width="1.2"/>
<line x1="898.5" y1="667.5" x2="898.5" y2="1053.5" stroke="#e6e6e6" stroke-width="1.2"/>
<path d="M631.5,957.5 L633.0,944.5 L634.9,940.8 L636.7,938.9 L638.6,935.2 L640.4,925.9 L642.3,918.5 L645.1,914.7 L647.9,911.0 L649.7,901.7 L651.6,892.5 L653.4,888.7 L655.3,888.7 L657.2,881.3 L659.0,873.9 L661.8,873.9 L664.6,873.9 L667.4,877.6 L669.8,879.4 L672.0,892.5 L674.2,899.9 L675.7,909.2 L677.2,924.0 L678.5,937.0 L679.8,925.9 L681.3,916.6 L683.2,909.2 L685.0,903.6 L686.5,890.6 L687.8,898.0 L689.1,909.2 L691.0,920.3 L692.8,931.5 L694.3,953.8 L696.2,961.2 L698.0,970.5 L699.9,981.6 L701.7,992.8 L703.6,1015.1 L705.5,1009.5 L707.3,1005.8 L709.2,998.3 L711.0,995.6 L712.9,998.3 L714.7,1000.2 L716.6,1007.6 L718.5,1003.9 L720.3,996.5 L722.2,987.2 L724.0,983.5 L725.9,985.3 L727.7,983.5 L729.6,987.2 L731.5,989.1 L733.3,994.6 L735.2,1003.9 L737.0,1007.6 L738.9,1013.2 L740.8,1018.8 L742.6,1009.5 L744.5,1011.3 L746.3,1016.9 L748.2,1015.1 L750.0,1005.8 L751.9,987.2 L753.8,981.6 L755.6,977.9 L757.5,979.8 L759.3,981.6 L761.2,968.6 L763.0,959.3 L764.9,953.8 L766.8,946.3 L768.6,938.9 L770.0,935.4 L772.3,924.0 L775.0,919.4 L777.3,905.7 L779.6,892.0 L781.4,878.2 L783.3,866.8 L784.9,862.2 L786.5,869.1 L787.9,882.8 L790.1,885.1 L792.2,889.7 L793.3,908.0 L795.2,894.3 L797.5,880.5 L799.8,869.1 L801.4,848.5 L803.2,827.9 L804.8,811.9 L806.6,811.9 L808.2,819.9 L810.1,809.6 L812.3,805.0 L814.6,798.1 L815.8,791.3 L817.4,779.8 L819.2,777.6 L821.5,777.6 L823.8,774.1 L824.9,777.6 L826.8,786.7 L829.1,791.3 L831.3,786.7 L833.6,791.3 L835.2,784.4 L837.5,777.6 L839.8,770.7 L842.1,763.8 L843.7,754.7 L845.5,743.2 L847.8,735.2 L850.1,734.1 L851.9,727.2 L853.5,718.1 L855.8,722.6 L858.1,731.8 L860.4,738.6 L862.7,724.9 L865.0,729.5 L866.1,722.6 L868.0,708.9 L869.6,711.2 L870.7,718.1 L873.0,722.6 L875.3,722.6 L877.1,713.5 L878.7,706.6 L879.9,695.2 L881.0,684.9 L882.2,686.0 L883.3,695.2 L885.1,708.9 L886.7,715.8 L889.0,731.8 L890.9,746.7" stroke="#1010f0" stroke-width="1.35" fill="none" stroke-linejoin="round"/>
<path d="M631.5,888.7 L633.0,875.7 L633.9,871.1 L635.8,870.2 L637.6,877.6 L638.6,872.0 L640.6,861.2 L642.2,859.1 L644.3,857.1 L646.3,854.0 L648.4,854.0 L649.4,846.8 L650.4,833.3 L652.0,827.2 L653.5,826.1 L655.1,832.3 L656.6,825.1 L658.2,822.0 L658.7,812.7 L659.7,814.8 L661.3,816.8 L663.3,817.9 L664.4,817.3 L665.4,823.0 L666.4,825.1 L668.5,824.1 L670.1,825.1 L671.1,833.3 L672.1,841.6 L673.1,847.8 L674.7,854.0 L675.7,861.2 L676.8,870.5 L677.8,878.8 L679.3,873.6 L680.9,866.4 L682.4,864.3 L684.0,863.8 L685.0,862.2 L686.6,857.1 L687.6,861.2 L688.6,868.4 L690.2,879.8 L690.6,881.3 L692.5,894.3 L694.3,912.9 L696.2,927.7 L698.0,935.2 L699.9,948.2 L701.2,953.8 L702.7,977.9 L704.0,987.2 L705.5,983.5 L707.3,981.6 L709.2,976.0 L711.0,974.2 L712.9,979.8 L714.7,987.2 L716.2,1000.2 L718.1,998.3 L719.4,994.6 L721.2,987.2 L722.5,983.5 L724.0,990.9 L725.0,994.6 L726.3,983.5 L727.7,985.3 L729.6,994.6 L731.5,998.3 L733.3,1003.9 L735.2,1007.6 L737.0,1015.1 L738.9,1024.3 L740.4,1033.6 L741.7,1029.9 L743.5,1024.3 L745.4,1031.8 L747.3,1035.5 L749.1,1026.2 L751.0,1015.1 L752.8,1009.5 L754.7,1011.3 L756.5,1015.1 L759.0,1028.1 L761.2,1020.6 L763.0,1009.5 L764.5,1005.8 L765.8,1015.1 L767.7,1003.9 L770.0,990.4 L772.3,983.5 L774.6,978.9 L776.9,967.5 L779.2,956.0 L781.4,944.6 L783.3,935.4 L784.9,930.9 L786.5,942.3 L788.3,946.9 L790.6,949.2 L792.2,951.5 L793.3,960.6 L795.2,951.5 L797.0,921.7 L799.3,912.6 L801.6,887.4 L804.3,857.6 L806.6,859.9 L808.5,864.5 L810.7,857.6 L813.0,853.1 L815.3,850.8 L817.6,846.2 L819.9,843.9 L822.2,841.6 L824.5,837.0 L826.8,840.5 L829.5,840.5 L831.8,841.6 L834.1,846.2 L836.4,839.3 L838.7,832.5 L841.0,830.2 L843.2,825.6 L845.5,823.3 L847.8,816.5 L850.1,817.6 L852.9,809.6 L854.7,818.7 L857.0,825.6 L859.3,830.2 L861.6,827.9 L863.8,823.3 L866.1,825.6 L867.3,734.1 L868.9,735.2 L870.7,738.6 L873.0,744.4 L874.8,745.5 L876.4,738.6 L878.0,738.6 L879.9,729.5 L881.5,719.2 L882.6,722.6 L884.4,734.1 L886.7,747.8 L888.6,759.2 L890.9,770.7" stroke="#e81818" stroke-width="1.35" fill="none" stroke-linejoin="round"/>
<rect x="560.0" y="667.5" width="403.5" height="386.0" fill="none" stroke="#929292" stroke-width="1.4"/>
<line x1="557.2" y1="766.2" x2="560.0" y2="766.2" stroke="#444" stroke-width="1"/>
<text transform="translate(554.40,772.20) scale(1.020,1)" font-size="15.2" font-weight="normal" font-style="normal" fill="#111" text-anchor="end" >175</text>
<line x1="557.2" y1="873.0" x2="560.0" y2="873.0" stroke="#444" stroke-width="1"/>
<text transform="translate(554.40,879.00) scale(1.020,1)" font-size="15.2" font-weight="normal" font-style="normal" fill="#111" text-anchor="end" >150</text>
<line x1="557.2" y1="980.0" x2="560.0" y2="980.0" stroke="#444" stroke-width="1"/>
<text transform="translate(554.40,986.00) scale(1.020,1)" font-size="15.2" font-weight="normal" font-style="normal" fill="#111" text-anchor="end" >125</text>
<line x1="578.0" y1="1053.5" x2="578.0" y2="1056.3" stroke="#444" stroke-width="1"/>
<text transform="translate(578.00,1068.10) scale(1.030,1)" font-size="15.5" font-weight="normal" font-style="normal" fill="#111" text-anchor="middle" >0</text>
<line x1="684.9" y1="1053.5" x2="684.9" y2="1056.3" stroke="#444" stroke-width="1"/>
<text transform="translate(684.90,1068.10) scale(1.030,1)" font-size="15.5" font-weight="normal" font-style="normal" fill="#111" text-anchor="middle" >2000</text>
<line x1="791.8" y1="1053.5" x2="791.8" y2="1056.3" stroke="#444" stroke-width="1"/>
<text transform="translate(791.80,1068.10) scale(1.030,1)" font-size="15.5" font-weight="normal" font-style="normal" fill="#111" text-anchor="middle" >4000</text>
<line x1="898.7" y1="1053.5" x2="898.7" y2="1056.3" stroke="#444" stroke-width="1"/>
<text transform="translate(898.70,1068.10) scale(1.030,1)" font-size="15.5" font-weight="normal" font-style="normal" fill="#111" text-anchor="middle" >6000</text>
<text transform="translate(748.25,662.50) scale(1.160,1)" font-size="21.0" font-weight="bold" font-style="normal" fill="#000" text-anchor="middle" >2000 Window Size</text>
<rect x="561.0" y="668.5" width="121" height="44.8" fill="#fff"/>
<rect x="570.3" y="676.4" width="11.4" height="10.7" fill="#0000ff"/>
<rect x="570.3" y="698.3" width="11.4" height="10.7" fill="#ff0000"/>
<text transform="translate(590.00,687.70) scale(1.080,1)" font-size="16.4" font-weight="bold" font-style="normal" fill="#000" text-anchor="start" >WT</text>
<text transform="translate(590.0,709.3) scale(1.08,1)" font-size="16.4" font-weight="bold" font-style="italic">spt4<tspan font-style="normal" font-weight="normal">&#916;</tspan></text>
<text transform="translate(522.00,871.60) rotate(-90) scale(1,1.030)" font-size="19.7" font-weight="bold" font-style="normal" fill="#000" text-anchor="middle" >Median Pol I Occupancy</text>
<text transform="translate(748.70,1094.30) scale(1.080,1)" font-size="19.5" font-weight="bold" font-style="normal" fill="#000" text-anchor="middle" >Coordinates</text>
<rect x="560.0" y="667.5" width="403.5" height="386.0" fill="none" stroke="#929292" stroke-width="1.4"/>
<text transform="translate(961.6,1050.6) scale(1.065,1)" font-size="18" font-weight="bold" text-anchor="end"><tspan font-style="italic">p</tspan>-value &lt; 2.2 &#215; 10<tspan font-size="12.5" dy="-7">&#8722;16</tspan></text>
<text transform="translate(9.60,1131.70) scale(1.050,1)" font-size="35.5" font-weight="bold" font-style="normal" fill="#000" text-anchor="start" >C.</text>
<rect x="82.6" y="1132.2" width="438.0" height="303.20000000000005" fill="none" stroke="#333" stroke-width="1.6"/>
<line x1="82.6" y1="1170.0" x2="520.6" y2="1170.0" stroke="#333" stroke-width="1.6"/>
<line x1="82.6" y1="1208.0" x2="520.6" y2="1208.0" stroke="#333" stroke-width="1.6"/>
<line x1="82.6" y1="1246.0" x2="520.6" y2="1246.0" stroke="#333" stroke-width="1.6"/>
<line x1="82.6" y1="1284.6" x2="520.6" y2="1284.6" stroke="#333" stroke-width="1.6"/>
<line x1="82.6" y1="1322.4" x2="520.6" y2="1322.4" stroke="#333" stroke-width="1.6"/>
<line x1="82.6" y1="1360.3" x2="520.6" y2="1360.3" stroke="#333" stroke-width="1.6"/>
<line x1="82.6" y1="1397.6" x2="520.6" y2="1397.6" stroke="#333" stroke-width="1.6"/>
<line x1="241.0" y1="1132.2" x2="241.0" y2="1435.4" stroke="#333" stroke-width="1.6"/>
<text transform="translate(380.2,1161.8) scale(1.08,1)" font-size="27" font-weight="bold" text-anchor="middle"><tspan font-style="italic">p</tspan>-value</text>
<text transform="translate(160.90,1199.00) scale(1.070,1)" font-size="27.0" font-weight="bold" font-style="normal" fill="#000" text-anchor="middle" >ETS1</text>
<text transform="translate(380.8,1198.7) scale(1.04,1)" font-size="27.8" fill="#e2101c" text-anchor="middle">1.37 <tspan font-weight="bold">&#215;</tspan> 10<tspan font-size="17" dy="-9.5">&#8722;10</tspan></text>
<text transform="translate(160.90,1237.00) scale(1.070,1)" font-size="27.0" font-weight="bold" font-style="normal" fill="#000" text-anchor="middle" >18S</text>
<text transform="translate(380.8,1236.7) scale(1.04,1)" font-size="27.8" fill="#e2101c" text-anchor="middle">3.10 <tspan font-weight="bold">&#215;</tspan> 10<tspan font-size="17" dy="-9.5">&#8722;7</tspan></text>
<text transform="translate(160.90,1275.00) scale(1.070,1)" font-size="27.0" font-weight="bold" font-style="normal" fill="#000" text-anchor="middle" >ITS1</text>
<text transform="translate(380.30,1274.70) scale(1.045,1)" font-size="27.8" font-weight="normal" font-style="normal" fill="#e2101c" text-anchor="middle" >0.04509</text>
<text transform="translate(160.90,1313.60) scale(1.070,1)" font-size="27.0" font-weight="bold" font-style="normal" fill="#000" text-anchor="middle" >5.8S</text>
<text transform="translate(380.30,1313.30) scale(1.045,1)" font-size="27.8" font-weight="normal" font-style="normal" fill="#000" text-anchor="middle" >0.2568</text>
<text transform="translate(160.90,1351.40) scale(1.070,1)" font-size="27.0" font-weight="bold" font-style="normal" fill="#000" text-anchor="middle" >ITS2</text>
<text transform="translate(380.30,1351.10) scale(1.045,1)" font-size="27.8" font-weight="normal" font-style="normal" fill="#000" text-anchor="middle" >0.4874</text>
<text transform="translate(160.90,1389.30) scale(1.070,1)" font-size="27.0" font-weight="bold" font-style="normal" fill="#000" text-anchor="middle" >25S</text>
<text transform="translate(380.30,1389.00) scale(1.045,1)" font-size="27.8" font-weight="normal" font-style="normal" fill="#e2101c" text-anchor="middle" >0.001065</text>
<text transform="translate(160.90,1426.60) scale(1.070,1)" font-size="27.0" font-weight="bold" font-style="normal" fill="#000" text-anchor="middle" >ETS2</text>
<text transform="translate(380.8,1426.3) scale(1.04,1)" font-size="27.8" fill="#e2101c" text-anchor="middle">4.03 <tspan font-weight="bold">&#215;</tspan> 10<tspan font-size="17" dy="-9.5">&#8722;9</tspan></text>
</svg>
</body></html>
